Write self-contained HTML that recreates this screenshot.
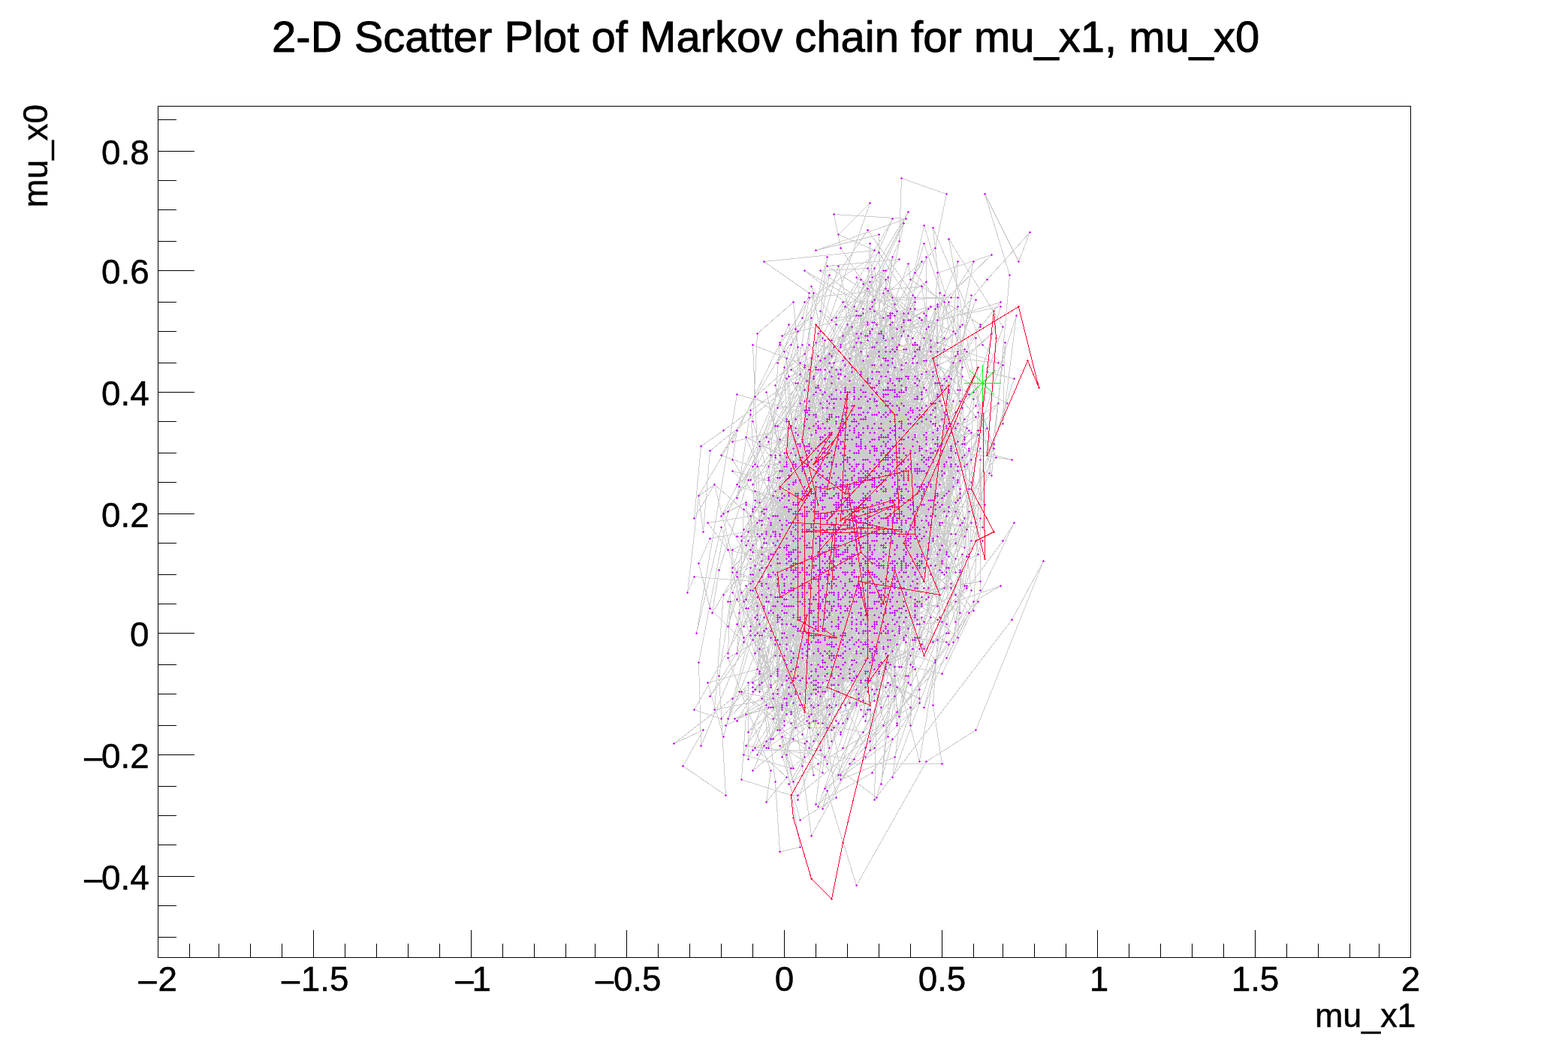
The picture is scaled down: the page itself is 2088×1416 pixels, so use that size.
<!DOCTYPE html>
<html lang="en"><head><meta charset="utf-8"><title>2-D Scatter Plot of Markov chain for mu_x1, mu_x0</title>
<style>html,body{margin:0;padding:0;background:#fff}svg{display:block}text{font-family:"Liberation Sans",Arial,Helvetica,sans-serif;fill:#000}</style></head>
<body>
<svg width="2088" height="1416" viewBox="0 0 2088 1416">
<rect width="2088" height="1416" fill="#fff"/>
<g fill="none" stroke-width="1" stroke-linejoin="bevel" shape-rendering="crispEdges">
<path stroke="#ccc" d="M1110.5 849.5l9 48l33-42l12-87l81-225l42 27l-33 93l-36-18l24 21l12 96l-54-198l-111-3l-63 45l-3 15l57-144l87 36l3-3l-6-24l-9-39l-9-3l84 36l24 78l21 69l-33-15l-21-57l24 132l39 93l6-39l12-192l24 60l-141 201l-120-9l-27-108l90-36l66-132l12 81l-21 135l-108 12l60-66l-18 123l-105-30l105-216l12 54l-6 99l36-192l-60 246l99-87l87 99l-180 96l12-141l3-165l6-30l27-111l-36 60l-51 291l15-78l9 105l-45 129l-24 3l69-183l-72-3l123-87l45-54l9-69l-42 219l-123 42l30-150l-57 9l78 105l108 0l-84-180l105-48l-24-93l12 42l-39-90l-123 249l57 39l0 45l-3 99l42-12l39 60l21-192l18-66l-9-21l27 51l-75 66l42-96l42-72l6 108l6 162l-108 108l-33 39l-69-27l36-162l84-81l21-21l-63 168l-24-249l33 78l138 108l24 33l-30 60l-129 141l123 0l-12-78l6-87l45-132l30-129l-51-21l-27-33l-105 66l-60 141l60-12l-24-63l42 18l-39 6l-84 87l150-210l12 252l-96 147l-24 0l54-117l-24-105l6 192l-12-42l-3-45l72 42l54-141l-117-135l75 75l30-138l-15 48l102-48l-39-48l-60 120l24-33l51 33l-114 93l15-201l114 6l-69-60l-48 105l-36-12l-12 192l-12-186l-6 36l3-117l129-75l-48 12l-63 12l63 96l-48 108l-27 21l-99 66l42-84l0 45l15 3l-12 114l42-264l-66-81l-15 183l12 123l12 69l-54-33l60-120l114-81l87 36l-102 186l-99 132l87-33l-42 3l-66-72l12-78l-3 18l51 21l-39 138l42-201l-3 57l-111-42l105-78l84-42l-51 57l66-138l-30 132l75-114l-12-105l-78 93l57 63l-165 57l57 213l105 15l-12 66l-27-105l-30-33l-66-255l75-99l-111 147l51-36l3 165l39 3l0 24l-57-24l75-15l93-6l-36 9l-33-12l-51 69l81-273l39-9l-18 222l-12-105l-99 219l-69 90l33-81l-69-96l45 93l-48 132l63 18l18-15l-21 36l39-27l123-75l0 24l6-147l-27-246l27 117l27-18l-48-3l3 147l-180-15l27-69l12 12l84-75l6 99l-57 0l6-81l39-12l12 24l9-123l-12-57l51 159l0-39l-9 150l-105 153l57-198l84-120l48-33l-21-81l24-39l3 9l15-87l-90 459l-45-42l-105 84l-30 102l-24-240l-18 114l9-192l156 108l30-114l42 21l18 39l-39 51l27 135l0 18l-60 60l-48 36l51-162l30-78l-39 48l-30-30l-3-48l-3 114l81-69l-105 201l-24-21l-6 33l12-81l141-138l-39-102l39-135l-30 147l-75 189l60-39l-66 51l63-117l48 30l-132 84l-48 3l0-285l-39 18l159-237l-21 183l66 165l-60-48l-27 120l6-63l12-27l39-138l42-189l-48-75l-99 66l-36 81l120-177l63 90l-63 153l-18-87l192 21l-81-27l-132 138l69 33l-21-30l-54 135l3-15l18 27l3-192l60 141l-24-24l-60 102l63 111l39 60l-45-72l-87-168l-66 144l84-249l-27-108l63-54l-99 132l15 180l54 69l42 129l-72-219l66-15l-18-27l75-75l0 66l-54-72l-27 138l-3-33l-6-99l51 69l45 9l-147 48l-3 96l18 111l93-174l0-234l12 54l-3-6l-48-18l78 9l15 9l-30 225l-90 45l81-51l123-63l-9-126l9-39l-126 138l48 90l42-24l-33 21l-87 108l30-123l-3-144l9-129l0-30l-39 159l51 15l-87 129l150-123l-51 153l-6-3l-114 96l33-156l90-114l-6-21l-132 204l87-132l-105 120l96 57l-18-57l-72-102l18-102l63-21l57-75l36 12l87-75l-144 138l-117 78l108-126l-108 147l6 144l-3 63l-51 9l36 3l-15-192l21 159l126 48l33-225l9 48l27 0l24-57l-63 228l-15 54l84-306l-72 78l-24 39l-48-213l30 117l0 123l-9-27l3-111l102 72l-162 3l18-33l-12-75l18 42l-6 117l39-24l0 87l-15-165l72 186l-132 240l-45-336l51-69l48 0l-66 51l60-90l30 114l18 9l12 48l-30 24l129-246l18-21l-78 207l-21-12l66-174l-48 6l3 24l-27 135l-102-15l99 15l75-60l69-186l-165-90l-84 90l45-129l9 189l-51 276l51 36l-78-6l48-15l120-267l39-33l6-45l-21 72l-24 129l-45-48l-21-63l30 18l-36-9l21-96l-33 12l-66 72l54-39l48 3l0 75l-48-78l-21 225l36 3l-54-63l-120 204l45-45l126-129l-90-24l18-108l66-126l84 81l30-42l-45-108l30 51l-12 66l39-102l-108 57l-66 72l-36 234l-12 78l15-93l18 210l-39-153l-3-174l-78 87l-12 153l165-33l45-48l-114-15l-12-27l57 33l36 0l0-174l-39 135l33 30l33-183l63-153l-54-81l-6-105l-6 123l12 192l117-150l-27 261l-6-81l-21 99l-21-45l-6-24l-30-57l15-66l48 36l-27-96l78 66l-45 84l6-9l-48-60l-21 27l21-96l-78-6l24 330l3 18l51 18l-6-42l69 9l-39-24l-24 6l-18 0l21-141l-39 93l-69 99l0 111l-90 0l39-60l9-258l0 54l-75-123l6-39l-51 87l-15 129l9-21l78 6l111-156l-75-33l99-33l84-48l-12 54l-78 135l-6-45l57 42l30 24l-18 60l-18 66l-93 147l33-24l-15 54l-24-54l-75-282l3-63l48-159l51-93l-15 78l-81 399l3 78l24-102l-72-135l30-15l72 48l42 270l51-123l-111 42l36-93l6-72l78 69l-18-129l6 240l-72-177l21 105l99-66l-57-117l-9 3l-6-9l84-114l-3 204l-144 45l51-78l-6-42l18 75l42-99l6-117l6-111l-84 138l-6-36l-30-42l9 426l-54 78l-18 39l81-66l57-78l-84-12l66 15l-15-78l81-60l75-6l-63-57l-3-123l3 24l45-21l18-6l-45 45l3-15l9 69l-72-18l-21-6l30 87l-63 69l-6 102l-15-147l27 99l24-216l-57-12l96 63l9-75l-72 150l48-150l48-138l45 234l-18-141l-87-15l-78 237l84-72l18-6l6-63l66-36l-15 57l-114-39l42-117l-33 54l48-51l48 51l-48 54l-66-117l99-30l6 147l54-48l-99-48l-60 36l-24 120l24-57l87 72l21-123l-18-36l-9-9l-102 276l24 18l18-81l-48 198l0-249l69-9l6 36l12 153l15-48l12 87l-84-12l-57-102l18-198l54 18l24 147l-78-48l126-42l-54 162l-54-252l-36-141l-75 156l150-36l24-3l48-90l33-159l93 297l-93-273l-75 243l-51 84l-9-18l0 129l-42 165l30-21l72 0l-24-9l33-63l-30 51l-57 111l72-294l30-93l-51 0l-3 3l-111 99l45-69l18 99l-18-42l42-357l-30 129l33 111l63 48l-3 6l93-87l21-30l-21-117l-15 213l36 84l-51-6l-93 72l-120-18l48-39l-48 84l39-33l138-93l-66-150l102 9l21 135l66-90l-30 21l-9 48l-51 66l-18 15l-96-39l6 3l-51 51l48 36l-99-15l84 54l33-153l69-90l-111 168l69 27l-30-123l-87 24l9 144l102-99l-99 30l12-129l93 45l-78 45l-15-60l21-18l126 102l-9 51l18-87l-3 30l-87 0l-81-66l-21 36l102-63l33-48l48 24l21-162l51 183l-6-186l-60-72l27-33l15-72l-60-21l-3 84l-54 129l-105 186l105-36l-111 258l12-72l3-36l54-24l12-57l123-60l-27-108l-147 249l-51 144l-36-132l87 33l-12-69l84-18l-78 75l93 75l-69-45l39-246l6-66l3 168l-36-48l-33-63l-21 69l171-123l45 222l18-123l-42-87l-99 144l6-108l-57 252l81 75l24-216l96-72l-69 12l-60-75l-93 162l-45 9l123 9l24 27l15 18l-54-9l-60-87l48-6l-27 24l-45 39l-57 0l153 114l30-24l33 39l-30-42l30 153l30-132l-63 39l-21 63l3-105l69 69l39 9l96-201l-15 24l-123 165l-21-243l57-156l-120 93l45 24l-30-72l27-87l-21 69l-6 51l-6 12l42 108l-24 111l-54-48l12-42l-87 63l9 123l0-39l66-39l33-144l-36-177l90-75l-30-6l69-63l-54 93l-75 207l111-297l3 21l93 60l-75 120l-54-129l-78 195l12 150l189-228l36-105l-72-117l57 315l24-267l-33-108l45 90l15-39l-57 63l-123 150l-36-69l-15-84l87 57l-111 72l-78 108l15 18l69-60l-45 252l96-30l60-93l-111 102l0 108l-39-81l45-183l27-69l-57 87l75-93l-81-84l-72 102l36 15l30 45l177 39l-39-27l42-57l-69 87l-33-3l0-63l-75-102l105-54l0-48l-48 213l-45 60l24-60l-54 3l3 45l0-117l99-3l-3-243l-84 21l120-42l-96-6l9 45l45 69l-9 171l-63 12l-39 156l-27 111l-3-159l156 111l-18-249l-36 42l24 105l-63-9l126-279l-24 72l-39 180l-120 60l159-87l45-18l-27 111l-66-15l-3-24l18 120l-48 48l48-114l-99-12l150 6l-6-168l-108 21l21-36l-21-36l-132 168l117-228l12 15l66 36l6 129l-87 228l51-261l-81 192l81-165l69-18l-9 3l9-3l63-222l-33 72l-114 195l15 129l51-60l-39-210l-18-27l-117 186l15 144l-6 9l33 42l-57-84l48-51l135-153l-111 318l99-21l3-12l51 42l60-111l60-21l-36 21l-33 57l-111 150l150-207l-30 27l-15-63l9-54l-90-3l-96 186l117-72l-30-108l36 18l45-75l-117 87l-84 72l-6-21l63-105l27 111l51-285l9 111l-126 51l63-3l-51 48l-15 99l-33 120l-30-156l90-6l-36 129l21-201l3-72l72 30l63 33l72 15l-99 27l36 84l-135-261l96 288l21-78l-3-120l-108-6l42 189l-39 45l-27-87l-21 69l72-165l75 159l-42 39l-78-216l-66 210l-66 18l21 72l45-156l12-147l72 93l-39-27l78-42l0 162l30 54l-30-27l3-12l-168 87l81-198l18-84l57 138l42-258l-39-12l51-192l-51 162l-48 12l45 147l-78 126l45-36l51 84l-87-120l15 15l69 129l129-270l-15 90l21 63l-63-87l-12-171l42 198l-156 54l-12 84l-3-36l-6 3l6 57l-39 66l-45-9l135 117l72-30l87-246l-54 102l36-21l-18 12l-33-291l-57 132l36 84l-6 60l51-51l-27-144l-102-3l57 51l15 171l84-108l-42-51l-60-45l-69 27l-21 69l66 60l-15 126l15-147l6-3l15 69l48-12l51-102l-153 66l-60 0l-6 12l81-27l24-177l60-84l-21 12l-69 123l63-78l-66 105l48 57l-72 114l-90 123l144 18l-42 66l6-24l39 126l93-165l66-42l90-225l-42 78l-183 240l6-264l9 42l-39 27l-42 12l-45-99l-6 168l-30 42l12-9l147-165l84-81l-201 231l123-42l-39-66l6-36l-30-111l-3-129l21-54l12 39l66 114l6-201l-69 114l-45-66l-57 129l-60 141l-39-156l-21 15l6 48l9-108l210-171l-30-21l27 204l54 243l-6 33l-9-72l9-57l-48-96l-3-33l21-156l-36 15l66 177l-42 108l33-144l-93 165l21-123l0-96l39 39l33 117l6-141l-15 171l33-93l-33-129l36 39l-54 69l3 33l18-15l30 81l-105 129l-21-72l18 93l15-54l-45-114l-45-3l3 45l6 72l60-21l24-96l30 93l-18-51l18-129l84 48l-36 141l12 24l12-189l-138-51l0 195l-66-6l-12 111l159-291l-12-33l-75-21l-39 276l54-135l57-9l-57 138l93-84l-75 81l-18-117l81-108l-27 27l27-9l18-84l36 87l-39-27l39-63l-135-36l15-72l-30 69l21 78l27 21l9-144l60 207l66-63l-36-183l21 117l-189 231l63-90l69-24l96-78l-117 117l-66 120l12-279l-48-12l3 30l51 243l-6 99l-21 9l42-255l27-15l-30-102l36-42l3 87l-18 27l-24 141l-48 183l-51-24l21-78l51 39l114-84l-63-48l12 21l60-36l-30 36l-108 36l9-90l-21 12l-24 183l36-123l156-198l-66 48l153-132l-27-27l-66-156l9 87l-12 147l-84 162l-45 78l63 21l75 9l-12-84l-42 90l-39-6l0-42l9-75l36-30l-15 24l-51 90l33-27l-6 108l0-21l-3 72l24-24l-6-141l-45 54l33 48l-30 63l-51-57l150-249l-27 111l-63-63l36 6l27 99l-15-45l-42 15l-36 237l-78-165l135-120l9 96l-9 117l-60-15l42 42l-42-54l-24 210l75-42l63-99l-42-21l-63 123l-15-93l-99 57l42 39l-27 33l6-42l-57-150l108-63l39 18l9-18l102-207l-48-81l-63 111l66 156l-27-78l33 81l-66 201l66-201l-33-72l-27-192l-48 141l111-267l0 63l-84 87l33 138l-21-45l-36 150l81-198l15 33l-63-279l-24 87l6 219l27-111l-69 285l-42-66l-18 42l108-222l-24 9l90 45l-24 72l-126-3l129-135l-48 63l81-219l-84 57l-24 129l105-153l-24 54l33 129l-60-24l-42 153l-75 99l69-135l-24 33l30 30l-24-3l87-165l-12 0l-90-147l21 228l57-162l45-36l75 246l108-333l-18 144l3-108l-21 174l-60 153l-30 12l-27-273l-18 234l-36 99l-42-123l51-198l18 270l-48-69l-12 0l-12 42l105 15l99-18l-108 18l21-48l-105 12l45-30l15 81l30-6l24-129l-45-177l-51 12l15-51l-18 189l0-60l36 123l-39 36l-60-153l-33 174l69 93l138-249l-96 66l-48 60l-66 3l171-234l-54 186l-12 102l-3 60l30-180l-138 93l39-36l-48 0l108 33l-24 54l72-30l-21-42l72-117l-78 69l-84 72l21-189l-48-12l114-195l66 54l-111-72l96-9l-90 81l15-24l144-6l30-48l-33 153l36-102l-24 69l-57 0l0-12l-132 33l123-72l60 24l-60 108l-6-9l-15 81l-63 75l-36 219l15 81l-21-150l0 72l72-78l60-84l-135 90l120-213l-108 174l-24-186l99 90l-180 210l57 45l15-207l33-93l-57 54l9-117l39 219l48 114l-42-120l-21-117l90-156l-24 3l-21 99l-51 39l99 9l21-141l-6-18l-69-45l-9 90l54 252l-48-27l-81-63l-3 96l141-93l21-147l81 57l12 12l-18-162l-63 0l63-54l-96-21l18 51l-48 87l-120 27l-30 69l18-117l0 6l12 141l126-123l-87 66l45 147l0-174l111-126l-60 12l-9 147l42 81l75-27l-9-129l3-141l-153 336l33 195l27-51l-9-78l60-6l-15-39l-90 114l-27 63l75 15l42-48l0-114l102-171l-27-21l-33 87l-108 174l-81-9l63 99l-69 21l57 36l6-87l-81 54l39-75l108-219l21-27l-75 3l-3 93l18-96l15 6l-12-57l-39 102l66-195l-57 174l-18 48l-27-3l141-75l-15-165l42 42l15 9l-96-141l-27 150l-27 45l-24-21l63-9l69-15l63-18l-66 414l-21-174l-78 129l69-54l-33 69l9-99l-12 18l42 33l54-261l-57 81l-24 87l-48-150l42 48l-27 114l-51 117l-84-135l39-108l18-72l57 75l87-102l-69 54l84 48l-30-99l-45 87l84-54l-69 33l-63 63l0-57l-9-39l-30 189l48-102l51-3l45-96l6 210l-69-111l27 153l21-69l-63-69l18-78l141-102l-90 291l-111 120l-18-123l12-153l-42-21l42 105l15 6l114-342l-84-63l63-3l84 105l33-18l-57 33l-30 156l-132 114l-6 138l57-66l-42-78l12-57l-63 30l102-120l6-6l78 126l-63-174l84 84l-39-33l51 36l-33-12l-57-12l-30 324l6-63l-36 45l-60-132l123 6l36-93l105 39l-57-348l-150 15l-18 114l6 27l12 6l69-45l39 39l-72 204l39 210l132-261l-87-108l-12-114l24 114l51 180l6-168l-105 105l54-39l-78 243l12 30l27-156l-27-63l69-312l-21 198l-9 12l-3-27l-42-3l-105 168l9 48l-57 51l-18-48l-15 99l9 159l-57-39l27-48l-39 18l78-60l27-15l54-243l-36-150l36 162l15 156l-27-63l15-45l15-111l9 123l12-33l-27-57l93-150l78-51l42 48l-27 126l15-144l-90-99l9 12l87 0l0 123l9-54l-42 120l-36-66l-48 180l-66-36l-15-24l54 6l-45 183l27 30l-9 93l36-111l-48 75l-36 21l159-72l-3-135l78-132l57 15l-108-15l-15 123l-135 219l27-117l66-48l-39 42l9-51l30-231l39-75l51 90l-24 258l42-126l-21 174l18-114l-180 171l-27-12l-84 75l39-57l18 45l111-72l-78 27l138-270l-117 141l105 6l63 54l6-111l-57 111l0-93l-3 51l-36 78l15-117l-120-39l33-21l93-15l-39-171l9 6l-42 174l-9 75l6-66l0 30l84-39l81 111l9-201l0 174l0-96l-15 48l-6-132l-18 12l-9 63l-105-9l-45 84l78 42l-30 45l-69 12l15 51l-51-165l39-171l54 12l-15-57l-12-21l63 36l6 36l-12 168l15-54l9 147l-21-90l-66-18l24-93l-15 9l-21 180l-30-141l63-18l-57 18l15 138l-12 24l9-123l-51 78l75-54l-18 15l-21-93l27-99l81-51l3 0l57 180l-57-75l-66 60l21-72l-75 81l-18-18l48 12l-21 114l78-183l-93 24l-24-36l-6 93l-27 66l39 207l-9-210l75 27l60 48l-84-93l66 51l0 21l45-69l-57 3l45-195l-48-78l-9-30l-36 117l42 165l54-204l-153 183l72-24l54 135l-105-123l138-48l-87-12l48 36l-78 90l0-42l18-102l69 6l105 51l-15-75l-57-87l-66 84l0 153l6 24l57-66l-3-21l-39-21l-39 168l-66-69l51 162l-30-138l63-9l18-57l-24-57l-39 150l81-114l9 69l12 21l15-114l-51 105l30-135l-45 123l-162-39l-27-36l57-9l-48-42l-27 45l9-96l30-21l102-75l-6-60l3 3l-39 147l87-126l-75 81l75-6l-15 120l-39 114l-69-57l147-168l-9 246l-3 60l39-42l-21-99l-54 6l36-156l18 81l-9 27l60-9l-42-39l-36-102l-6 192l-24-42l36 87l48-3l-15-30l-12-27l3-51l51-105l42 102l39 48l-21-99l-51 258l-15-90l72 72l-30 111l63-156l-18-165l-27-3l-57-15l-36 54l-18 33l96-270l-48 249l-6-75l-108-27l81 81l-63-48l15 63l81-246l6 111l72-126l-114 363l-18-69l-81-39l36-135l84 48l-48 135l-24 87l-39 42l-27 18l-6 60l-24 9l141-141l75 18l-18-114l6 54l0-87l-21-147l-24 135l-60 18l93 171l45-225l-3 192l-24-15l-57-27l-30-174l0 60l63 54l-24 72l-30-78l6-12l9-63l-72-12l-24 177l39-336l-39 126l102-183l-15 36l-27 3l75-132l-141 324l-3 114l30 123l21-39l42-63l3 186l42-105l-57 108l27 57l57-96l-177-27l42-117l15 51l-21 171l-54-48l108-135l-15-36l12-12l33-75l-33 42l36-48l-36 42l-6-144l39-9l-54-33l42-78l42 168l42 99l66-60l-69 198l-45 117l-114 93l-9 0l-66-21l6-87l33-9l141-162l54-78l-54 66l21 48l33-186l-18 132l6 75l-78 54l114-228l-60 87l-141 39l-45 57l45 84l51-42l-9-291l-90 111l60-6l9 60l3-153l132-123l-123 312l36-57l-18-198l63-33l-69 3l-36 90l-63 102l45-69l69-165l-57 33l12 102l9 60l-24 63l18 27l30 69l-30-105l-33 96l75-114l21 24l-12 54l90-117l-54-21l84-42l-69 228l9-162l-102 114l96-126l-72 144l-33-57l3 165l27-36l-27-153l24 72l12-75l-30 144l57-192l-36 54l69-12l-51 21l6 108l45-159l-54 6l-48-96l18-18l69 24l-36-51l69 108l-39-57l-57-42l-69 141l-3 81l219-72l-111 171l-27-156l-48-114l33-111l90-60l-30 141l39 81l-48 87l-15 93l39-150l42-27l42-45l-129-87l72-63l-51 150l39 0l-174 114l54-108l-63 198l6 39l-45-45l-15-60l15-33l108-21l66 78l57-153l-30 81l-78 168l-42-78l108-297l-99 192l-60-60l99 27l-18 330l-15 24l27-69l72-138l108-216l-90 48l-21-111l-18 333l87-9l-69 48l-60 60l15-318l3 24l78-216l-48 42l-75 180l-51 66l156 18l-6 6l30-45l-6 42l18-15l-45 36l33-192l60 183l48-60l9-174l36-123l-132 27l36 0l39-27l-60 141l-72 87l-84-66l93-15l-6-135l-60 414l-42-54l162-30l-33-171l-111 186l120-138l-27 168l-21-105l-27 24l24-66l3 33l21 66l-33-3l-39-39l24 144l63 36l-6-141l-45-141l36 63l-33 72l21 78l-90-63l90 24l-6 3l-18-33l-12-51l150-231l-9-57l72-69l-72 24l-18 252l-60 96l87-90l-111 189l-39-231l105-33l-30 36l-84-60l9-12l-12 87l18-105l24 69l-21 36l63-129l21 144l66-36l45 96l-93 9l57-39l-84 138l66-162l-57 75l-30-24l66 114l-6-111l-27-33l0-117l0 192l-30 330l18-156l21-171l-30-231l9 126l42-132l12-69l-99 231l6 120l102-249l-21 69l-63-33l-42 195l-102-6l51 96l12 87l141-57l-6-33l-9-57l54-126l-21-66l-138 24l51 171l-87 105l-78 27l0 102l81-207l-48 120l27 99l-18-30l27 99l48-30l-27-168l-6 57l-6-108l42-183l-69 33l-39 114l147-72l30-135l39-54l-21-105l129-39l-27 33l-63 111l18 24l-105 57l-57 27l48-96l-45 51l-21 99l90-90l-60 171l-3-78l-21 123l114-150l-63 42l114-81l-78-66l30-162l-39 45l60-39l-15 24l24 48l-111-15l30 78l-69-33l12 180l-54 120l-36 21l-24-78l-21-66l-33 141l54-318l132 36l39-39l27 216l-3 90l-135-129l51-114l81 18l102-255l-12 174l27 159l-27 75l-180-90l-9 39l48-135l-27 87l33-42l18 12l-39 123l-57 174l12-84l-24-18l75-111l30-81l-33 54l-72 27l12-66l-30 294l12 102l6 93l27-6l-24-147l30 9l96 72l21-78l-90 66l69-132l69-222l-18 69l-117-57l6-45l-15 225l48-51l-45-36l33-72l36-135l-108 252l-39-39l18-57l102-123l-51-72l-105 276l63 129l-9 12l42-108l-12-114l-51 27l33-156l54 66l54-57l-3 9l27-90l-36 45l18-78l-75 0l60-48l3 12l-12 198l57 48l6 57l-81-165l51-3l-15 144l-21-138l-36 63l66-6l57 63l3 6l6-102l-81-9l-54-54l102 48l-108 108l-39 48l87 15l15 78l60-261l15-63l-42-6l-105 234l78-102l-9 102l-66-21l141-300l-3 66l6-102l-45-39l-69 345l18-54l-36 201l21 42l12-159l81-42l-111 21l-24 21l0 57l-42-93l-9 57l48-162l90 27l-120 156l27 99l54-33l-18-12l3-177l-36 147l6-12l33-90l-6 18l48-111l-18 129l84 51l6-219l-111 141l12-150l-78 144l57-27l45 138l12 36l21-33l-72 81l12-189l-6-51l117-99l0 63l39 144l-90-93l15 12l-36 51l-21-42l-33 15l39-39l-3 42l-51 0l42-111l-75 123l-21-21l57-51l-18-186l-57 216l165 108l75-129l-126 51l30-18l-12-30l-3-60l-81-3l-60 192l18 81l162-150l6 0l-69 57l15-27l99 42l-150 252l102-297l-9-99l-48 39l27-147l48 96l9 96l-51 105l-51 6l90-147l-51-90l90 27l-84 102l-114 165l-6-81l-36 69l120-51l-69 9l45-255l-45 129l114-54l-36 6l-45-135l-39 171l-27 6l9 51l-63 6l36-126l45 3l183-87l-102-69l36 30l-105 204l12 117l-18-153l6 48l90 36l48-51l51-54l-72 171l-39 30l39-117l-99 102l-15 54l-27-81l102-150l-15 57l39-33l33 102l-72 27l-66-105l-57-195l6-117l48-42l6 60l-81 183l27-24l78-12l39 96l15 63l-33 105l-30-321l84-36l-69-102l114 87l-66 117l30-123l12 111l63-51l6 12l-9-30l-9-42l0-153l-30 84l-27-36l12 120l0 9l-189 258l36-114l6 168l48-21l-3-45l57-63l-54 12l-33 93l21 51l-24 21l-48-126l87-51l-36 51l93-336l-18 309l54-150l51 90l-54 90l-3 78l-3-78l-36 111l30-72l30-39l66-192l-114 183l-51 30l21-114l6 0l-6-48l9 57l3 90l-15-96l102-48l-132 153l99 6l-24-27l33-6l-54-126l-69 0l0 171l21-33l51-30l-39-90l-51 33l51 27l60-96l-84 147l-57 66l57 27l-12-180l192-141l-63 93l-78 171l-9-45l-3 54l-21-102l39 123l-12 12l45-90l36-69l-39 0l-69-39l57 69l72-15l63-72l18 87l-15-111l-24 72l30-57l-63-39l15 123l-6 15l72 3l-9-252l-18-18l-162 159l-12 159l60 78l30-177l75 18l-21 90l-9-39l-30-6l-54 273l3-114l-9-132l-69 90l102 21l24-135l24-132l-144 174l126-87l-72 18l-126-12l66-78l93 117l27-120l-9 78l-90-117l-33-12l0 141l27 48l-45 3l36 117l18-354l18 63l36-195l18-9l-60 138l66 111l-12 36l-141 9l144-204l-75 84l-21 78l57-96l42 93l66-9l33 51l-57-120l-18-90l39 135l-123-117l60-87l-3 147l-60 36l-24-63l12 63l-30-48l12 90l93 15l60 33l-81-201l6 108l-15 78l75-33l-114-66l63-30l6 0l-18 51l-114 186l-30 102l6-24l204-171l-141-93l36-105l-33 45l75-135l15 120l-90 147l27 108l-69-6l51-108l-6 66l-60-171l36-54l54 183l-45-48l21-141l6 276l-27 174l75-9l18-102l0-48l-99-18l3-63l180-144l-48 177l18-189l-63-69l21-69l18 78l-33 9l36-159l-54 114l-51 81l96 138l-45 27l0-99l-54 6l-6 30l-6 159l6 210l-27-63l42-27l126-90l-54-93l15-201l3 120l48-108l-15 21l-75 438l18-63l21-66l57-237l81-57l-141 183l-42-84l-60 108l105-225l-6 111l18 114l-96 126l12-63l54-9l-9 126l54-102l0-195l57-63l-93 24l6-15l6-135l21 12l-39 75l-96-144l39 192l-18-15l-27-12l-39 348l18-102l81-42l-45 102l15 21l60-147l42-33l-30-141l-72 213l18-45l93-126l-57 147l54-63l-30-69l90 135l-54-48l-12 204l-3-159l-66-93l30 183l-3-42l-60 78l-27-24l-6-195l-36 96l21 159l-48 102l111-150l39-123l-42 63l51-84l60-99l-18 78l-27 15l6-36l-12-57l-6-30l51-39l-60 51l-18-15l-96 30l15-30l-24 87l66 75l57-3l60-60l-69-18l93 18l-48 84l36-75l-48-60l-108 33l9 168l-81 42l3-75l45-84l-39 198l-15-222l21 108l6-99l-57 174l6-138l21-12l-27 114l81-264l33-45l63 54l-6 102l60-159l42 162l-78-39l-93-84l33 15l18 12l-60 3l9 207l24-18l9-69l42 0l-129-27l81 165l-3-183l18 54l-36 63l6 129l18-42l63-51l-15 24l-147-57l75 60l-108 111l30-117l12-81l-30 39l30 48l51-177l45-117l-9 198l-9 24l66-87l93-114l-60 33l30 243l0 3l9-102l24-54l-60 123l-9-66l-48-12l6-60l48-87l-27 42l-30-63l33 12l42 123l-12-24l12-132l42-147l-39 21l-24-6l45 231l-48-54l27 57l-36 144l30-75l-6 117l6-195l-48 168l-30 69l-3-30l-48-87l33-150l3 66l-54 78l30 12l-42 45l135 18l30-213l99 99l-63 162l-63-21l0-18l39-90l-102 225l48-135l21-120l-54 24l-54 108l-78 54l87 69l-42-210l48-165l-90-75l90-78l63-180l-42 42l48 21l-147 15l60 42l-9 33l-108 183l42 15l-33 60l-39 201l3 111l120-285l-60-36l9 54l-54 90l9-57l39-120l54-138l-6-33l-6-9l45-69l-12 96l-96 270l114-123l-33-18l-30 225l21 96l99-105l33 12l-6-27l18-48l-81-21l-6 30l-57 228l69-342l-84 51l99 75l-39 81l126 21l-33 21l-27 87l0-54l-3 0l93-231l-75-120l45-135l-96 147l3-129l-39-21l99-24l-9 303l-72 54l-12-105l63-117l-93 129l81-120l-87 69l24-222l-39 24l99-27l-33 54l-24 30l60 285l-48 120l6-261l-48 99l-30-159l-24 51l78-48l6 66l3 96l-3-60l42-162l57-36l27-69l21 24l18 78l-24 72l-135 216l33-219l39-27l81-75l-63 393l0-78l0-81l-123 183l27-144l-12 3l198-123l-21-138l15 333l-36-150l-42 21l-54-51l72 84l-39 132l27-318l-66 9l-21 207l111-192l-90-66l102-21l-9 285l-114-300l33 120l-78 54l-48-69l60-54l123-69l21-72l-66 129l90 126l0 27l-60 216l51-135l-123 72l129-150l-147 207l45-165l21 42l12 66l126-132l-21 15l9-15l-123-255l-6 186l-36 75l15 24l18-51l-30 123l51 24l33-237l24 132l0 24l15-24l24-213l-150 222l-99-9l105-69l-114 48l-21 24l105-96l108 123l-123 63l18-198l-33 123l108-123l30-99l-60 129l6-3l-105 18l138-18l3 57l-102-18l-21-57l93-99l-54 168l39 72l12-66l-21 36l-78 171l57-207l87 0l-48-144l27 12l-30 0l-27 21l-9 198l12-90l66-15l42-30l0 3l-39 24l-102 171l-24-54l84-87l39-108l27 69l57-132l-63 255l15-18l-21-180l-75 72l-99 90l-24-18l114 3l-63 18l90-204l-84 24l-6 210l18-6l-27-159l75-42l69 69l-6-69l-27 87l-33 69l-42-78l15 126l15 63l-78-111l57-54l99-204l-27-15l-21 99l24 45l-48 69l-60-57l51-165l-30 99l-33-63l3 69l15 330l69 15l-21 0l12 60l105-156l-114 81l-45-111l162-123l-93 45l12 30l54-114l-108 60l24-36l12-66l45 30l30 21l-90 90l-6-231l15 165l-132-66l48 117l-12-39l-21 51l-9 123l69 9l78-51l48-63l-21 213l-42-333l3 57l54 105l-54 21l75-66l-36 0l-96 72l-3-90l-36-93l36 114l18-78l-168 294l36 12l117-141l45 42l-63-24l96 69l-3 3l0 9l18-159l-93 21l-33 9l57-81l72 138l90-234l21-51l-66 141l-21-99l-15 108l-15-39l-6 96l-63-177l48-3l72-54l-84 105l27-198l-48 93l-66 213l84-60l24-72l-15 117l132-126l-27-12l48-15l-132 102l48-45l-54 201l21-108l0-201l27 102l-21 90l-48 114l-9-117l-42 114l3 132l111-171l30-51l-39 297l57-156l-66-84l0-189l-54 174l24-21l-6 84l-48 120l-6-99l-30-192l81-216l33 183l-9-87l-60 18l63-75l-48-33l90-180l-135 225l12 174l33-159l-72 39l6 63l-51 141l54 21l60-189l-30-21l-30 219l-12-135l-33 9l-9-210l84 33l-87 252l54 33l54 123l81-75l-45-144l-66-78l-18-27l3 189l-9-138l3 192l-30 165l72-144l99-30l-48-147l42-18l-69 6l24 138l-54-219l-45 147l-33 21l57 6l39 15l3-87l-39-78l87 51l-24 42l-81 84l90-183l69 75l-30-243l-6 129l-153 150l42-75l39 111l-30-189l-15-36l-78 138l174 48l66 60l-36 0l-183 66l51 219l99-183l-90 66l3-48l45-63l-12-48l39-57l63-45l3 99l-78 51l0-27l24-192l-54 81l93-117l-3-129l12 135l-39 300l27-168l30 108l3-90l-147 141l-12-33l69-123l6-54l102 108l9-285l-105 75l78-30l-111 117l-69 315l123-12l21-210l-57-66l-42 45l15-159l-33 144l60-129l72 3l42 3l-138 186l3-63l-27 54l33-15l-9 150l-87-66l-72 117l108-141l105 81l51-99l69 48l0-57l-24-159l0 72l-63 12l-90 84l-9 3l-3 75l12 42l-123 69l102-33l9-57l-3 24l-6-192l150 129l39-192l-123 90l-90 108l36 165l111-330l-81-24l48-9l21-69l9 114l27-84l69-75l-45 210l-21 141l120-369l-36-9l-12 84l-108 222l-147 6l51-48l-27 48l45-3l96-99l39-111l-30 156l30-75l-105 75l-45 42l-66 132l18-42l75-147l3-63l-27 129l-57 57l87-144l-66 78l27 48l-33-75l138-246l21 156l36-45l-9-39l12-24l-93 81l-3-21l12 165l-90 45l3 84l87-192l-96-60l27 105l-24-93l90-42l-21 138l-24-105l108-261l-51 96l-15 171l48-177l9 42l-108 177l129-195l39-57l-114 162l-69-102l-51-36l180-117l-72 120l-75 186l30 126l30-78l-45-72l66-117l21-198l-27 144l36 36l-63 222l3 15l84-135l-30 9l-51 153l30-99l21-30l36-30l-21-3l-36-156l-63 84l-57 81l-48 219l33 42l27-72l72 27l-9-3l63-57l-36 51l-12 99l27-75l39-129l-30-216l-63 138l51-63l-63 9l48-90l45 39l-6-87l27 18l-12-54l-27 48l27 96l18 114l-9-15l-48-258l-93-54l69 54l18-39l-9 3l90 90l39 66l0 129l-93 138l-39-6l-12-156l-66 66l-45 63l45 21l87 51l-6 114l15-111l-9-18l72 33l-72 36l-45-93l-3 54l39-162l72 114l3-24l-102 192l-84-78l51 15l6-66l162-18l33-48l-39 45l6 3l-30 186l-33-126l3 60l-12-165l-87-156l-51-6l63-12l-15 45l-51 114l-51 66l84-234l-15 117l33 78l129-147l-120 153l6 141l-45 123l-69-255l33-96l30 0l-36 9l135-249l-90 165l6-45l-39 117l108 159l-33-141l45 21l6 30l15-6l-33 57l51-252l-39 84l-105 36l21-75l66-39l12 6l-15 108l21 159l36 9l-18-114l-84 45l72-30l12 87l39-144l-33-6l21-3"/>
<path stroke="#c0f" d="M1109 849.5h3m-1.5-1.5v3m7.5 46.5h3m-1.5-1.5v3m31.5-43.5h3m-1.5-1.5v3m10.5-88.5h3m-1.5-1.5v3m79.5-226.5h3m-1.5-1.5v3m40.5 25.5h3m-1.5-1.5v3m-34.5 91.5h3m-1.5-1.5v3m-37.5-19.5h3m-1.5-1.5v3m22.5 19.5h3m-1.5-1.5v3m10.5 94.5h3m-1.5-1.5v3m-55.5-199.5h3m-1.5-1.5v3m-112.5-4.5h3m-1.5-1.5v3m-64.5 43.5h3m-1.5-1.5v3m-4.5 13.5h3m-1.5-1.5v3m55.5-145.5h3m-1.5-1.5v3m85.5 34.5h3m-1.5-1.5v3m1.5-4.5h3m-1.5-1.5v3m-7.5-25.5h3m-1.5-1.5v3m-10.5-40.5h3m-1.5-1.5v3m-10.5-4.5h3m-1.5-1.5v3m82.5 34.5h3m-1.5-1.5v3m22.5 76.5h3m-1.5-1.5v3m19.5 67.5h3m-1.5-1.5v3m-34.5-16.5h3m-1.5-1.5v3m-22.5-58.5h3m-1.5-1.5v3m22.5 130.5h3m-1.5-1.5v3m37.5 91.5h3m-1.5-1.5v3m4.5-40.5h3m-1.5-1.5v3m10.5-193.5h3m-1.5-1.5v3m22.5 58.5h3m-1.5-1.5v3m-142.5 199.5h3m-1.5-1.5v3m-121.5-10.5h3m-1.5-1.5v3m-28.5-109.5h3m-1.5-1.5v3m88.5-37.5h3m-1.5-1.5v3m64.5-133.5h3m-1.5-1.5v3m10.5 79.5h3m-1.5-1.5v3m-22.5 133.5h3m-1.5-1.5v3m-109.5 10.5h3m-1.5-1.5v3m58.5-67.5h3m-1.5-1.5v3m-19.5 121.5h3m-1.5-1.5v3m-106.5-31.5h3m-1.5-1.5v3m103.5-217.5h3m-1.5-1.5v3m10.5 52.5h3m-1.5-1.5v3m-7.5 97.5h3m-1.5-1.5v3m34.5-193.5h3m-1.5-1.5v3m-61.5 244.5h3m-1.5-1.5v3m97.5-88.5h3m-1.5-1.5v3m85.5 97.5h3m-1.5-1.5v3m-181.5 94.5h3m-1.5-1.5v3m10.5-142.5h3m-1.5-1.5v3m1.5-166.5h3m-1.5-1.5v3m4.5-31.5h3m-1.5-1.5v3m25.5-112.5h3m-1.5-1.5v3m-37.5 58.5h3m-1.5-1.5v3m-52.5 289.5h3m-1.5-1.5v3m13.5-79.5h3m-1.5-1.5v3m7.5 103.5h3m-1.5-1.5v3m-46.5 127.5h3m-1.5-1.5v3m-25.5 1.5h3m-1.5-1.5v3m67.5-184.5h3m-1.5-1.5v3m-73.5-4.5h3m-1.5-1.5v3m121.5-88.5h3m-1.5-1.5v3m43.5-55.5h3m-1.5-1.5v3m7.5-70.5h3m-1.5-1.5v3m-43.5 217.5h3m-1.5-1.5v3m-124.5 40.5h3m-1.5-1.5v3m28.5-151.5h3m-1.5-1.5v3m-58.5 7.5h3m-1.5-1.5v3m76.5 103.5h3m-1.5-1.5v3m106.5-1.5h3m-1.5-1.5v3m-85.5-181.5h3m-1.5-1.5v3m103.5-49.5h3m-1.5-1.5v3m-25.5-94.5h3m-1.5-1.5v3m10.5 40.5h3m-1.5-1.5v3m-40.5-91.5h3m-1.5-1.5v3m-124.5 247.5h3m-1.5-1.5v3m55.5 37.5h3m-1.5-1.5v3m-1.5 43.5h3m-1.5-1.5v3m-4.5 97.5h3m-1.5-1.5v3m40.5-13.5h3m-1.5-1.5v3m37.5 58.5h3m-1.5-1.5v3m19.5-193.5h3m-1.5-1.5v3m16.5-67.5h3m-1.5-1.5v3m-10.5-22.5h3m-1.5-1.5v3m25.5 49.5h3m-1.5-1.5v3m-76.5 64.5h3m-1.5-1.5v3m40.5-97.5h3m-1.5-1.5v3m40.5-73.5h3m-1.5-1.5v3m4.5 106.5h3m-1.5-1.5v3m4.5 160.5h3m-1.5-1.5v3m-109.5 106.5h3m-1.5-1.5v3m-34.5 37.5h3m-1.5-1.5v3m-70.5-28.5h3m-1.5-1.5v3m34.5-163.5h3m-1.5-1.5v3m82.5-82.5h3m-1.5-1.5v3m19.5-22.5h3m-1.5-1.5v3m-64.5 166.5h3m-1.5-1.5v3m-25.5-250.5h3m-1.5-1.5v3m31.5 76.5h3m-1.5-1.5v3m136.5 106.5h3m-1.5-1.5v3m22.5 31.5h3m-1.5-1.5v3m-31.5 58.5h3m-1.5-1.5v3m-130.5 139.5h3m-1.5-1.5v3m121.5-1.5h3m-1.5-1.5v3m-13.5-79.5h3m-1.5-1.5v3m4.5-88.5h3m-1.5-1.5v3m43.5-133.5h3m-1.5-1.5v3m28.5-130.5h3m-1.5-1.5v3m-52.5-22.5h3m-1.5-1.5v3m-28.5-34.5h3m-1.5-1.5v3m-106.5 64.5h3m-1.5-1.5v3m-61.5 139.5h3m-1.5-1.5v3m58.5-13.5h3m-1.5-1.5v3m-25.5-64.5h3m-1.5-1.5v3m40.5 16.5h3m-1.5-1.5v3m-40.5 4.5h3m-1.5-1.5v3m-85.5 85.5h3m-1.5-1.5v3m148.5-211.5h3m-1.5-1.5v3m10.5 250.5h3m-1.5-1.5v3m-97.5 145.5h3m-1.5-1.5v3m-25.5-1.5h3m-1.5-1.5v3m52.5-118.5h3m-1.5-1.5v3m-25.5-106.5h3m-1.5-1.5v3m4.5 190.5h3m-1.5-1.5v3m-13.5-43.5h3m-1.5-1.5v3m-4.5-46.5h3m-1.5-1.5v3m70.5 40.5h3m-1.5-1.5v3m52.5-142.5h3m-1.5-1.5v3m-118.5-136.5h3m-1.5-1.5v3m73.5 73.5h3m-1.5-1.5v3m28.5-139.5h3m-1.5-1.5v3m-16.5 46.5h3m-1.5-1.5v3m100.5-49.5h3m-1.5-1.5v3m-40.5-49.5h3m-1.5-1.5v3m-61.5 118.5h3m-1.5-1.5v3m22.5-34.5h3m-1.5-1.5v3m-64.5 124.5h3m-1.5-1.5v3m13.5-202.5h3m-1.5-1.5v3m112.5 4.5h3m-1.5-1.5v3m-70.5-61.5h3m-1.5-1.5v3m-49.5 103.5h3m-1.5-1.5v3m-37.5-13.5h3m-1.5-1.5v3m-13.5 190.5h3m-1.5-1.5v3m-13.5-187.5h3m-1.5-1.5v3m-7.5 34.5h3m-1.5-1.5v3m1.5-118.5h3m-1.5-1.5v3m127.5-76.5h3m-1.5-1.5v3m-49.5 10.5h3m-1.5-1.5v3m-64.5 10.5h3m-1.5-1.5v3m61.5 94.5h3m-1.5-1.5v3m-49.5 106.5h3m-1.5-1.5v3m-28.5 19.5h3m-1.5-1.5v3m-100.5 64.5h3m-1.5-1.5v3m40.5-85.5h3m-1.5-1.5v3m-1.5 43.5h3m-1.5-1.5v3m13.5 1.5h3m-1.5-1.5v3m-13.5 112.5h3m-1.5-1.5v3m40.5-265.5h3m-1.5-1.5v3m-67.5-82.5h3m-1.5-1.5v3m-16.5 181.5h3m-1.5-1.5v3m10.5 121.5h3m-1.5-1.5v3m10.5 67.5h3m-1.5-1.5v3m-55.5-34.5h3m-1.5-1.5v3m58.5-121.5h3m-1.5-1.5v3m112.5-82.5h3m-1.5-1.5v3m85.5 34.5h3m-1.5-1.5v3m-103.5 184.5h3m-1.5-1.5v3m-100.5 130.5h3m-1.5-1.5v3m85.5-34.5h3m-1.5-1.5v3m-43.5 1.5h3m-1.5-1.5v3m-67.5-73.5h3m-1.5-1.5v3m10.5-79.5h3m-1.5-1.5v3m-4.5 16.5h3m-1.5-1.5v3m10.5 157.5h3m-1.5-1.5v3m40.5-202.5h3m-1.5-1.5v3m-4.5 55.5h3m-1.5-1.5v3m-112.5-43.5h3m-1.5-1.5v3m103.5-79.5h3m-1.5-1.5v3m82.5-43.5h3m-1.5-1.5v3m-52.5 55.5h3m-1.5-1.5v3m64.5-139.5h3m-1.5-1.5v3m-31.5 130.5h3m-1.5-1.5v3m73.5-115.5h3m-1.5-1.5v3m-13.5-106.5h3m-1.5-1.5v3m-79.5 91.5h3m-1.5-1.5v3m55.5 61.5h3m-1.5-1.5v3m-166.5 55.5h3m-1.5-1.5v3m55.5 211.5h3m-1.5-1.5v3m103.5 13.5h3m-1.5-1.5v3m-13.5 64.5h3m-1.5-1.5v3m-28.5-106.5h3m-1.5-1.5v3m-31.5-34.5h3m-1.5-1.5v3m-67.5-256.5h3m-1.5-1.5v3m73.5-100.5h3m-1.5-1.5v3m-112.5 145.5h3m-1.5-1.5v3m49.5-37.5h3m-1.5-1.5v3m1.5 163.5h3m-1.5-1.5v3m37.5 1.5h3m-1.5-1.5v3m-1.5 22.5h3m-1.5-1.5v3m-58.5-25.5h3m-1.5-1.5v3m73.5-16.5h3m-1.5-1.5v3m91.5-7.5h3m-1.5-1.5v3m-37.5 7.5h3m-1.5-1.5v3m-34.5-13.5h3m-1.5-1.5v3m-52.5 67.5h3m-1.5-1.5v3m79.5-274.5h3m-1.5-1.5v3m37.5-10.5h3m-1.5-1.5v3m-19.5 220.5h3m-1.5-1.5v3m-13.5-106.5h3m-1.5-1.5v3m-100.5 217.5h3m-1.5-1.5v3m-70.5 88.5h3m-1.5-1.5v3m31.5-82.5h3m-1.5-1.5v3m-70.5-97.5h3m-1.5-1.5v3m43.5 91.5h3m-1.5-1.5v3m-49.5 130.5h3m-1.5-1.5v3m61.5 16.5h3m-1.5-1.5v3m16.5-16.5h3m-1.5-1.5v3m-22.5 34.5h3m-1.5-1.5v3m37.5-28.5h3m-1.5-1.5v3m121.5-76.5h3m-1.5-1.5v3m-1.5 22.5h3m-1.5-1.5v3m4.5-148.5h3m-1.5-1.5v3m-28.5-247.5h3m-1.5-1.5v3m25.5 115.5h3m-1.5-1.5v3m25.5-19.5h3m-1.5-1.5v3m-49.5-4.5h3m-1.5-1.5v3m1.5 145.5h3m-1.5-1.5v3m-181.5-16.5h3m-1.5-1.5v3m25.5-70.5h3m-1.5-1.5v3m10.5 10.5h3m-1.5-1.5v3m88.5 22.5h3m-1.5-1.5v3m-58.5-1.5h3m-1.5-1.5v3m4.5-82.5h3m-1.5-1.5v3m37.5-13.5h3m-1.5-1.5v3m10.5 22.5h3m-1.5-1.5v3m7.5-124.5h3m-1.5-1.5v3m-13.5-58.5h3m-1.5-1.5v3m49.5 157.5h3m-1.5-1.5v3m-1.5-40.5h3m-1.5-1.5v3m-10.5 148.5h3m-1.5-1.5v3m-106.5 151.5h3m-1.5-1.5v3m55.5-199.5h3m-1.5-1.5v3m82.5-121.5h3m-1.5-1.5v3m46.5-34.5h3m-1.5-1.5v3m-22.5-82.5h3m-1.5-1.5v3m22.5-40.5h3m-1.5-1.5v3m1.5 7.5h3m-1.5-1.5v3m13.5-88.5h3m-1.5-1.5v3m-91.5 457.5h3m-1.5-1.5v3m-46.5-43.5h3m-1.5-1.5v3m-106.5 82.5h3m-1.5-1.5v3m-31.5 100.5h3m-1.5-1.5v3m-25.5-241.5h3m-1.5-1.5v3m-19.5 112.5h3m-1.5-1.5v3m7.5-193.5h3m-1.5-1.5v3m154.5 106.5h3m-1.5-1.5v3m28.5-115.5h3m-1.5-1.5v3m40.5 19.5h3m-1.5-1.5v3m16.5 37.5h3m-1.5-1.5v3m-40.5 49.5h3m-1.5-1.5v3m25.5 133.5h3m-1.5-1.5v3m-1.5 16.5h3m-1.5-1.5v3m-61.5 58.5h3m-1.5-1.5v3m-49.5 34.5h3m-1.5-1.5v3m49.5-163.5h3m-1.5-1.5v3m28.5-79.5h3m-1.5-1.5v3m-40.5 46.5h3m-1.5-1.5v3m-31.5-31.5h3m-1.5-1.5v3m-4.5-49.5h3m-1.5-1.5v3m-4.5 112.5h3m-1.5-1.5v3m79.5-70.5h3m-1.5-1.5v3m-106.5 199.5h3m-1.5-1.5v3m-25.5-22.5h3m-1.5-1.5v3m-7.5 31.5h3m-1.5-1.5v3m10.5-82.5h3m-1.5-1.5v3m139.5-139.5h3m-1.5-1.5v3m-40.5-103.5h3m-1.5-1.5v3m37.5-136.5h3m-1.5-1.5v3m-31.5 145.5h3m-1.5-1.5v3m-76.5 187.5h3m-1.5-1.5v3m58.5-40.5h3m-1.5-1.5v3m-67.5 49.5h3m-1.5-1.5v3m61.5-118.5h3m-1.5-1.5v3m46.5 28.5h3m-1.5-1.5v3m-133.5 82.5h3m-1.5-1.5v3m-49.5 1.5h3m-1.5-1.5v3m-1.5-286.5h3m-1.5-1.5v3m-40.5 16.5h3m-1.5-1.5v3m157.5-238.5h3m-1.5-1.5v3m-22.5 181.5h3m-1.5-1.5v3m64.5 163.5h3m-1.5-1.5v3m-61.5-49.5h3m-1.5-1.5v3m-28.5 118.5h3m-1.5-1.5v3m4.5-64.5h3m-1.5-1.5v3m10.5-28.5h3m-1.5-1.5v3m37.5-139.5h3m-1.5-1.5v3m40.5-190.5h3m-1.5-1.5v3m-49.5-76.5h3m-1.5-1.5v3m-100.5 64.5h3m-1.5-1.5v3m-37.5 79.5h3m-1.5-1.5v3m118.5-178.5h3m-1.5-1.5v3m61.5 88.5h3m-1.5-1.5v3m-64.5 151.5h3m-1.5-1.5v3m-19.5-88.5h3m-1.5-1.5v3m190.5 19.5h3m-1.5-1.5v3m-82.5-28.5h3m-1.5-1.5v3m-133.5 136.5h3m-1.5-1.5v3m67.5 31.5h3m-1.5-1.5v3m-22.5-31.5h3m-1.5-1.5v3m-55.5 133.5h3m-1.5-1.5v3m1.5-16.5h3m-1.5-1.5v3m16.5 25.5h3m-1.5-1.5v3m1.5-193.5h3m-1.5-1.5v3m58.5 139.5h3m-1.5-1.5v3m-25.5-25.5h3m-1.5-1.5v3m-61.5 100.5h3m-1.5-1.5v3m-31.5-70.5h3m-1.5-1.5v3m-67.5 142.5h3m-1.5-1.5v3m82.5-250.5h3m-1.5-1.5v3m-28.5-109.5h3m-1.5-1.5v3m61.5-55.5h3m-1.5-1.5v3m-100.5 130.5h3m-1.5-1.5v3m13.5 178.5h3m-1.5-1.5v3m52.5 67.5h3m-1.5-1.5v3m40.5 127.5h3m-1.5-1.5v3m-73.5-220.5h3m-1.5-1.5v3m64.5-16.5h3m-1.5-1.5v3m-19.5-28.5h3m-1.5-1.5v3m73.5-76.5h3m-1.5-1.5v3m-1.5 64.5h3m-1.5-1.5v3m-55.5-73.5h3m-1.5-1.5v3m-28.5 136.5h3m-1.5-1.5v3m-4.5-34.5h3m-1.5-1.5v3m-7.5-100.5h3m-1.5-1.5v3m49.5 67.5h3m-1.5-1.5v3m43.5 7.5h3m-1.5-1.5v3m-148.5 46.5h3m-1.5-1.5v3m-4.5 94.5h3m-1.5-1.5v3m16.5 109.5h3m-1.5-1.5v3m91.5-409.5h3m-1.5-1.5v3m10.5 52.5h3m-1.5-1.5v3m-4.5-7.5h3m-1.5-1.5v3m-49.5-19.5h3m-1.5-1.5v3m76.5 7.5h3m-1.5-1.5v3m13.5 7.5h3m-1.5-1.5v3m-31.5 223.5h3m-1.5-1.5v3m-10.5-7.5h3m-1.5-1.5v3m121.5-64.5h3m-1.5-1.5v3m-10.5-127.5h3m-1.5-1.5v3m7.5-40.5h3m-1.5-1.5v3m-127.5 136.5h3m-1.5-1.5v3m46.5 88.5h3m-1.5-1.5v3m40.5-25.5h3m-1.5-1.5v3m-34.5 19.5h3m-1.5-1.5v3m-88.5 106.5h3m-1.5-1.5v3m28.5-124.5h3m-1.5-1.5v3m-4.5-145.5h3m-1.5-1.5v3m7.5-130.5h3m-1.5-1.5v3m-1.5-31.5h3m-1.5-1.5v3m-40.5 157.5h3m-1.5-1.5v3m49.5 13.5h3m-1.5-1.5v3m-88.5 127.5h3m-1.5-1.5v3m148.5-124.5h3m-1.5-1.5v3m-52.5 151.5h3m-1.5-1.5v3m-7.5-4.5h3m-1.5-1.5v3m-115.5 94.5h3m-1.5-1.5v3m31.5-157.5h3m-1.5-1.5v3m88.5-115.5h3m-1.5-1.5v3m-7.5-22.5h3m-1.5-1.5v3m-133.5 202.5h3m-1.5-1.5v3m-19.5-13.5h3m-1.5-1.5v3m94.5 55.5h3m-1.5-1.5v3m-19.5-58.5h3m-1.5-1.5v3m-73.5-103.5h3m-1.5-1.5v3m16.5-103.5h3m-1.5-1.5v3m61.5-22.5h3m-1.5-1.5v3m55.5-76.5h3m-1.5-1.5v3m34.5 10.5h3m-1.5-1.5v3m85.5-76.5h3m-1.5-1.5v3m-145.5 136.5h3m-1.5-1.5v3m-118.5 76.5h3m-1.5-1.5v3m106.5-127.5h3m-1.5-1.5v3m-109.5 145.5h3m-1.5-1.5v3m4.5 142.5h3m-1.5-1.5v3m-4.5 61.5h3m-1.5-1.5v3m-52.5 7.5h3m-1.5-1.5v3m34.5 1.5h3m-1.5-1.5v3m-16.5-193.5h3m-1.5-1.5v3m19.5 157.5h3m-1.5-1.5v3m124.5 46.5h3m-1.5-1.5v3m31.5-226.5h3m-1.5-1.5v3m7.5 46.5h3m-1.5-1.5v3m25.5-1.5h3m-1.5-1.5v3m22.5-58.5h3m-1.5-1.5v3m-64.5 226.5h3m-1.5-1.5v3m-16.5 52.5h3m-1.5-1.5v3m82.5-307.5h3m-1.5-1.5v3m-73.5 76.5h3m-1.5-1.5v3m-25.5 37.5h3m-1.5-1.5v3m-49.5-214.5h3m-1.5-1.5v3m28.5 115.5h3m-1.5-1.5v3m-1.5 121.5h3m-1.5-1.5v3m-10.5-28.5h3m-1.5-1.5v3m1.5-112.5h3m-1.5-1.5v3m100.5 70.5h3m-1.5-1.5v3m-163.5 1.5h3m-1.5-1.5v3m16.5-34.5h3m-1.5-1.5v3m-13.5-76.5h3m-1.5-1.5v3m16.5 40.5h3m-1.5-1.5v3m-7.5 115.5h3m-1.5-1.5v3m37.5 61.5h3m-1.5-1.5v3m-16.5-166.5h3m-1.5-1.5v3m70.5 184.5h3m-1.5-1.5v3m-133.5 238.5h3m-1.5-1.5v3m-46.5-337.5h3m-1.5-1.5v3m49.5-70.5h3m-1.5-1.5v3m46.5-1.5h3m-1.5-1.5v3m-67.5 49.5h3m-1.5-1.5v3m58.5-91.5h3m-1.5-1.5v3m28.5 112.5h3m-1.5-1.5v3m16.5 7.5h3m-1.5-1.5v3m10.5 46.5h3m-1.5-1.5v3m-31.5 22.5h3m-1.5-1.5v3m127.5-247.5h3m-1.5-1.5v3m16.5-22.5h3m-1.5-1.5v3m-79.5 205.5h3m-1.5-1.5v3m-22.5-13.5h3m-1.5-1.5v3m64.5-175.5h3m-1.5-1.5v3m-46.5 28.5h3m-1.5-1.5v3m-28.5 133.5h3m-1.5-1.5v3m-103.5-16.5h3m-1.5-1.5v3m172.5-46.5h3m-1.5-1.5v3m67.5-187.5h3m-1.5-1.5v3m-166.5-91.5h3m-1.5-1.5v3m-85.5 88.5h3m-1.5-1.5v3m43.5-130.5h3m-1.5-1.5v3m7.5 187.5h3m-1.5-1.5v3m-52.5 274.5h3m-1.5-1.5v3m49.5 34.5h3m-1.5-1.5v3m-79.5-7.5h3m-1.5-1.5v3m46.5-16.5h3m-1.5-1.5v3m118.5-268.5h3m-1.5-1.5v3m37.5-34.5h3m-1.5-1.5v3m4.5-46.5h3m-1.5-1.5v3m-22.5 70.5h3m-1.5-1.5v3m-25.5 127.5h3m-1.5-1.5v3m-46.5-49.5h3m-1.5-1.5v3m-22.5-64.5h3m-1.5-1.5v3m28.5 16.5h3m-1.5-1.5v3m-37.5-10.5h3m-1.5-1.5v3m19.5-97.5h3m-1.5-1.5v3m-34.5 10.5h3m-1.5-1.5v3m-67.5 70.5h3m-1.5-1.5v3m100.5-37.5h3m-1.5-1.5v3m-1.5 73.5h3m-1.5-1.5v3m-70.5 145.5h3m-1.5-1.5v3m34.5 1.5h3m-1.5-1.5v3m-55.5-64.5h3m-1.5-1.5v3m-121.5 202.5h3m-1.5-1.5v3m43.5-46.5h3m-1.5-1.5v3m124.5-130.5h3m-1.5-1.5v3m-91.5-25.5h3m-1.5-1.5v3m16.5-109.5h3m-1.5-1.5v3m64.5-127.5h3m-1.5-1.5v3m82.5 79.5h3m-1.5-1.5v3m28.5-43.5h3m-1.5-1.5v3m-46.5-109.5h3m-1.5-1.5v3m28.5 49.5h3m-1.5-1.5v3m-13.5 64.5h3m-1.5-1.5v3m37.5-103.5h3m-1.5-1.5v3m-109.5 55.5h3m-1.5-1.5v3m-67.5 70.5h3m-1.5-1.5v3m-37.5 232.5h3m-1.5-1.5v3m-13.5 76.5h3m-1.5-1.5v3m13.5-94.5h3m-1.5-1.5v3m16.5 208.5h3m-1.5-1.5v3m-40.5-154.5h3m-1.5-1.5v3m-4.5-175.5h3m-1.5-1.5v3m-79.5 85.5h3m-1.5-1.5v3m-13.5 151.5h3m-1.5-1.5v3m163.5-34.5h3m-1.5-1.5v3m43.5-49.5h3m-1.5-1.5v3m-115.5-16.5h3m-1.5-1.5v3m-13.5-28.5h3m-1.5-1.5v3m55.5 31.5h3m-1.5-1.5v3m34.5-1.5h3m-1.5-1.5v3m-1.5-175.5h3m-1.5-1.5v3m-40.5 133.5h3m-1.5-1.5v3m31.5 28.5h3m-1.5-1.5v3m31.5-184.5h3m-1.5-1.5v3m61.5-154.5h3m-1.5-1.5v3m-55.5-82.5h3m-1.5-1.5v3m-7.5-106.5h3m-1.5-1.5v3m-7.5 121.5h3m-1.5-1.5v3m10.5 190.5h3m-1.5-1.5v3m115.5-151.5h3m-1.5-1.5v3m-28.5 259.5h3m-1.5-1.5v3m-7.5-82.5h3m-1.5-1.5v3m-22.5 97.5h3m-1.5-1.5v3m-22.5-46.5h3m-1.5-1.5v3m-7.5-25.5h3m-1.5-1.5v3m-16.5-124.5h3m-1.5-1.5v3m46.5 34.5h3m-1.5-1.5v3m-28.5-97.5h3m-1.5-1.5v3m76.5 64.5h3m-1.5-1.5v3m-46.5 82.5h3m-1.5-1.5v3m4.5-10.5h3m-1.5-1.5v3m-49.5-61.5h3m-1.5-1.5v3m-22.5 25.5h3m-1.5-1.5v3m19.5-97.5h3m-1.5-1.5v3m-79.5-7.5h3m-1.5-1.5v3m22.5 328.5h3m-1.5-1.5v3m1.5 16.5h3m-1.5-1.5v3m49.5 16.5h3m-1.5-1.5v3m-7.5-43.5h3m-1.5-1.5v3m67.5 7.5h3m-1.5-1.5v3m-40.5-25.5h3m-1.5-1.5v3m-25.5 4.5h3m-1.5-1.5v3m-19.5-1.5h3m-1.5-1.5v3m19.5-142.5h3m-1.5-1.5v3m-40.5 91.5h3m-1.5-1.5v3m-70.5 97.5h3m-1.5-1.5v3m-1.5 109.5h3m-1.5-1.5v3m-91.5-1.5h3m-1.5-1.5v3m37.5-61.5h3m-1.5-1.5v3m7.5-259.5h3m-1.5-1.5v3m-1.5 52.5h3m-1.5-1.5v3m-76.5-124.5h3m-1.5-1.5v3m4.5-40.5h3m-1.5-1.5v3m-52.5 85.5h3m-1.5-1.5v3m-16.5 127.5h3m-1.5-1.5v3m7.5-22.5h3m-1.5-1.5v3m76.5 4.5h3m-1.5-1.5v3m109.5-157.5h3m-1.5-1.5v3m-76.5-34.5h3m-1.5-1.5v3m97.5-34.5h3m-1.5-1.5v3m82.5-49.5h3m-1.5-1.5v3m-13.5 52.5h3m-1.5-1.5v3m-79.5 133.5h3m-1.5-1.5v3m-7.5-46.5h3m-1.5-1.5v3m55.5 40.5h3m-1.5-1.5v3m28.5 22.5h3m-1.5-1.5v3m-19.5 58.5h3m-1.5-1.5v3m-19.5 64.5h3m-1.5-1.5v3m-94.5 145.5h3m-1.5-1.5v3m31.5-25.5h3m-1.5-1.5v3m-16.5 52.5h3m-1.5-1.5v3m-25.5-55.5h3m-1.5-1.5v3m-76.5-283.5h3m-1.5-1.5v3m1.5-64.5h3m-1.5-1.5v3m46.5-160.5h3m-1.5-1.5v3m49.5-94.5h3m-1.5-1.5v3m-16.5 76.5h3m-1.5-1.5v3m-82.5 397.5h3m-1.5-1.5v3m1.5 76.5h3m-1.5-1.5v3m22.5-103.5h3m-1.5-1.5v3m-73.5-136.5h3m-1.5-1.5v3m28.5-16.5h3m-1.5-1.5v3m70.5 46.5h3m-1.5-1.5v3m40.5 268.5h3m-1.5-1.5v3m-61.5-82.5h3m-1.5-1.5v3m34.5-94.5h3m-1.5-1.5v3m4.5-73.5h3m-1.5-1.5v3m76.5 67.5h3m-1.5-1.5v3m-19.5-130.5h3m-1.5-1.5v3m4.5 238.5h3m-1.5-1.5v3m-73.5-178.5h3m-1.5-1.5v3m19.5 103.5h3m-1.5-1.5v3m97.5-67.5h3m-1.5-1.5v3m-58.5-118.5h3m-1.5-1.5v3m-10.5 1.5h3m-1.5-1.5v3m-7.5-10.5h3m-1.5-1.5v3m82.5-115.5h3m-1.5-1.5v3m-4.5 202.5h3m-1.5-1.5v3m-145.5 43.5h3m-1.5-1.5v3m49.5-79.5h3m-1.5-1.5v3m-7.5-43.5h3m-1.5-1.5v3m16.5 73.5h3m-1.5-1.5v3m40.5-100.5h3m-1.5-1.5v3m4.5-118.5h3m-1.5-1.5v3m4.5-112.5h3m-1.5-1.5v3m-85.5 136.5h3m-1.5-1.5v3m-7.5-37.5h3m-1.5-1.5v3m-31.5-43.5h3m-1.5-1.5v3m7.5 424.5h3m-1.5-1.5v3m-55.5 76.5h3m-1.5-1.5v3m-19.5 37.5h3m-1.5-1.5v3m79.5-67.5h3m-1.5-1.5v3m55.5-79.5h3m-1.5-1.5v3m-85.5-13.5h3m-1.5-1.5v3m64.5 13.5h3m-1.5-1.5v3m-16.5-79.5h3m-1.5-1.5v3m79.5-61.5h3m-1.5-1.5v3m73.5-7.5h3m-1.5-1.5v3m-67.5-181.5h3m-1.5-1.5v3m1.5 22.5h3m-1.5-1.5v3m43.5-22.5h3m-1.5-1.5v3m16.5-7.5h3m-1.5-1.5v3m-46.5 43.5h3m-1.5-1.5v3m1.5-16.5h3m-1.5-1.5v3m7.5 67.5h3m-1.5-1.5v3m-73.5-19.5h3m-1.5-1.5v3m-22.5-7.5h3m-1.5-1.5v3m28.5 85.5h3m-1.5-1.5v3m-64.5 67.5h3m-1.5-1.5v3m-7.5 100.5h3m-1.5-1.5v3m10.5-49.5h3m-1.5-1.5v3m22.5-217.5h3m-1.5-1.5v3m-58.5-13.5h3m-1.5-1.5v3m94.5 61.5h3m-1.5-1.5v3m7.5-76.5h3m-1.5-1.5v3m-73.5 148.5h3m-1.5-1.5v3m46.5-151.5h3m-1.5-1.5v3m46.5-139.5h3m-1.5-1.5v3m43.5 232.5h3m-1.5-1.5v3m-19.5-142.5h3m-1.5-1.5v3m-88.5-16.5h3m-1.5-1.5v3m-79.5 235.5h3m-1.5-1.5v3m82.5-73.5h3m-1.5-1.5v3m16.5-7.5h3m-1.5-1.5v3m4.5-64.5h3m-1.5-1.5v3m64.5-37.5h3m-1.5-1.5v3m-16.5 55.5h3m-1.5-1.5v3m-115.5-40.5h3m-1.5-1.5v3m40.5-118.5h3m-1.5-1.5v3m-34.5 52.5h3m-1.5-1.5v3m46.5-52.5h3m-1.5-1.5v3m46.5 49.5h3m-1.5-1.5v3m-49.5 52.5h3m-1.5-1.5v3m-67.5-118.5h3m-1.5-1.5v3m97.5-31.5h3m-1.5-1.5v3m4.5 145.5h3m-1.5-1.5v3m52.5-49.5h3m-1.5-1.5v3m-100.5-49.5h3m-1.5-1.5v3m-61.5 34.5h3m-1.5-1.5v3m-25.5 118.5h3m-1.5-1.5v3m22.5-58.5h3m-1.5-1.5v3m85.5 70.5h3m-1.5-1.5v3m19.5-124.5h3m-1.5-1.5v3m-19.5-37.5h3m-1.5-1.5v3m-10.5-10.5h3m-1.5-1.5v3m-103.5 274.5h3m-1.5-1.5v3m40.5-64.5h3m-1.5-1.5v3m-49.5 196.5h3m-1.5-1.5v3m-1.5-250.5h3m-1.5-1.5v3m67.5-10.5h3m-1.5-1.5v3m16.5 187.5h3m-1.5-1.5v3m13.5-49.5h3m-1.5-1.5v3m10.5 85.5h3m-1.5-1.5v3m-85.5-13.5h3m-1.5-1.5v3m-58.5-103.5h3m-1.5-1.5v3m16.5-199.5h3m-1.5-1.5v3m52.5 16.5h3m-1.5-1.5v3m22.5 145.5h3m-1.5-1.5v3m-79.5-49.5h3m-1.5-1.5v3m124.5-43.5h3m-1.5-1.5v3m-55.5 160.5h3m-1.5-1.5v3m-55.5-253.5h3m-1.5-1.5v3m-37.5-142.5h3m-1.5-1.5v3m-76.5 154.5h3m-1.5-1.5v3m148.5-37.5h3m-1.5-1.5v3m22.5-4.5h3m-1.5-1.5v3m46.5-91.5h3m-1.5-1.5v3m31.5-160.5h3m-1.5-1.5v3m91.5 295.5h3m-1.5-1.5v3m-94.5-274.5h3m-1.5-1.5v3m-76.5 241.5h3m-1.5-1.5v3m-52.5 82.5h3m-1.5-1.5v3m-10.5-19.5h3m-1.5-1.5v3m-1.5 127.5h3m-1.5-1.5v3m-43.5 163.5h3m-1.5-1.5v3m28.5-22.5h3m-1.5-1.5v3m70.5-1.5h3m-1.5-1.5v3m-25.5-10.5h3m-1.5-1.5v3m31.5-64.5h3m-1.5-1.5v3m-31.5 49.5h3m-1.5-1.5v3m-58.5 109.5h3m-1.5-1.5v3m70.5-295.5h3m-1.5-1.5v3m28.5-94.5h3m-1.5-1.5v3m-52.5-1.5h3m-1.5-1.5v3m-4.5 1.5h3m-1.5-1.5v3m-112.5 97.5h3m-1.5-1.5v3m43.5-70.5h3m-1.5-1.5v3m16.5 97.5h3m-1.5-1.5v3m-19.5-43.5h3m-1.5-1.5v3m40.5-358.5h3m-1.5-1.5v3m-31.5 127.5h3m-1.5-1.5v3m31.5 109.5h3m-1.5-1.5v3m61.5 46.5h3m-1.5-1.5v3m-4.5 4.5h3m-1.5-1.5v3m91.5-88.5h3m-1.5-1.5v3m19.5-31.5h3m-1.5-1.5v3m-22.5-118.5h3m-1.5-1.5v3m-16.5 211.5h3m-1.5-1.5v3m34.5 82.5h3m-1.5-1.5v3m-52.5-7.5h3m-1.5-1.5v3m-94.5 70.5h3m-1.5-1.5v3m-121.5-19.5h3m-1.5-1.5v3m46.5-40.5h3m-1.5-1.5v3m-49.5 82.5h3m-1.5-1.5v3m37.5-34.5h3m-1.5-1.5v3m136.5-94.5h3m-1.5-1.5v3m-67.5-151.5h3m-1.5-1.5v3m100.5 7.5h3m-1.5-1.5v3m19.5 133.5h3m-1.5-1.5v3m64.5-91.5h3m-1.5-1.5v3m-31.5 19.5h3m-1.5-1.5v3m-10.5 46.5h3m-1.5-1.5v3m-52.5 64.5h3m-1.5-1.5v3m-19.5 13.5h3m-1.5-1.5v3m-97.5-40.5h3m-1.5-1.5v3m4.5 1.5h3m-1.5-1.5v3m-52.5 49.5h3m-1.5-1.5v3m46.5 34.5h3m-1.5-1.5v3m-100.5-16.5h3m-1.5-1.5v3m82.5 52.5h3m-1.5-1.5v3m31.5-154.5h3m-1.5-1.5v3m67.5-91.5h3m-1.5-1.5v3m-112.5 166.5h3m-1.5-1.5v3m67.5 25.5h3m-1.5-1.5v3m-31.5-124.5h3m-1.5-1.5v3m-88.5 22.5h3m-1.5-1.5v3m7.5 142.5h3m-1.5-1.5v3m1.5-70.5h3m-1.5-1.5v3m10.5-130.5h3m-1.5-1.5v3m91.5 43.5h3m-1.5-1.5v3m-79.5 43.5h3m-1.5-1.5v3m-16.5-61.5h3m-1.5-1.5v3m19.5-19.5h3m-1.5-1.5v3m124.5 100.5h3m-1.5-1.5v3m-10.5 49.5h3m-1.5-1.5v3m16.5-88.5h3m-1.5-1.5v3m-4.5 28.5h3m-1.5-1.5v3m-88.5-1.5h3m-1.5-1.5v3m-82.5-67.5h3m-1.5-1.5v3m-22.5 34.5h3m-1.5-1.5v3m100.5-64.5h3m-1.5-1.5v3m31.5-49.5h3m-1.5-1.5v3m46.5 22.5h3m-1.5-1.5v3m19.5-163.5h3m-1.5-1.5v3m49.5 181.5h3m-1.5-1.5v3m-7.5-187.5h3m-1.5-1.5v3m-61.5-73.5h3m-1.5-1.5v3m25.5-34.5h3m-1.5-1.5v3m13.5-73.5h3m-1.5-1.5v3m-61.5-22.5h3m-1.5-1.5v3m-4.5 82.5h3m-1.5-1.5v3m-55.5 127.5h3m-1.5-1.5v3m-106.5 184.5h3m-1.5-1.5v3m103.5-37.5h3m-1.5-1.5v3m-112.5 256.5h3m-1.5-1.5v3m10.5-73.5h3m-1.5-1.5v3m1.5-37.5h3m-1.5-1.5v3m52.5-25.5h3m-1.5-1.5v3m10.5-58.5h3m-1.5-1.5v3m121.5-61.5h3m-1.5-1.5v3m-28.5-109.5h3m-1.5-1.5v3m-148.5 247.5h3m-1.5-1.5v3m-52.5 142.5h3m-1.5-1.5v3m-37.5-133.5h3m-1.5-1.5v3m85.5 31.5h3m-1.5-1.5v3m-13.5-70.5h3m-1.5-1.5v3m4.5 55.5h3m-1.5-1.5v3m91.5 73.5h3m-1.5-1.5v3m-70.5-46.5h3m-1.5-1.5v3m37.5-247.5h3m-1.5-1.5v3m4.5-67.5h3m-1.5-1.5v3m-34.5 118.5h3m-1.5-1.5v3m-34.5-64.5h3m-1.5-1.5v3m-22.5 67.5h3m-1.5-1.5v3m169.5-124.5h3m-1.5-1.5v3m43.5 220.5h3m-1.5-1.5v3m16.5-124.5h3m-1.5-1.5v3m-43.5-88.5h3m-1.5-1.5v3m-151.5 286.5h3m-1.5-1.5v3m79.5 73.5h3m-1.5-1.5v3m22.5-217.5h3m-1.5-1.5v3m94.5-73.5h3m-1.5-1.5v3m-70.5 10.5h3m-1.5-1.5v3m-61.5-76.5h3m-1.5-1.5v3m-94.5 160.5h3m-1.5-1.5v3m-46.5 7.5h3m-1.5-1.5v3m121.5 7.5h3m-1.5-1.5v3m22.5 25.5h3m-1.5-1.5v3m13.5 16.5h3m-1.5-1.5v3m-55.5-10.5h3m-1.5-1.5v3m-13.5-94.5h3m-1.5-1.5v3m-28.5 22.5h3m-1.5-1.5v3m-46.5 37.5h3m-1.5-1.5v3m-58.5-1.5h3m-1.5-1.5v3m151.5 112.5h3m-1.5-1.5v3m28.5-25.5h3m-1.5-1.5v3m31.5 37.5h3m-1.5-1.5v3m-31.5-43.5h3m-1.5-1.5v3m28.5 151.5h3m-1.5-1.5v3m28.5-133.5h3m-1.5-1.5v3m-85.5 100.5h3m-1.5-1.5v3m1.5-106.5h3m-1.5-1.5v3m67.5 67.5h3m-1.5-1.5v3m37.5 7.5h3m-1.5-1.5v3m94.5-202.5h3m-1.5-1.5v3m-16.5 22.5h3m-1.5-1.5v3m-124.5 163.5h3m-1.5-1.5v3m-22.5-244.5h3m-1.5-1.5v3m55.5-157.5h3m-1.5-1.5v3m-121.5 91.5h3m-1.5-1.5v3m43.5 22.5h3m-1.5-1.5v3m-31.5-73.5h3m-1.5-1.5v3m25.5-88.5h3m-1.5-1.5v3m-22.5 67.5h3m-1.5-1.5v3m-7.5 49.5h3m-1.5-1.5v3m-7.5 10.5h3m-1.5-1.5v3m40.5 106.5h3m-1.5-1.5v3m-25.5 109.5h3m-1.5-1.5v3m-55.5-49.5h3m-1.5-1.5v3m10.5-43.5h3m-1.5-1.5v3m-88.5 61.5h3m-1.5-1.5v3m7.5 121.5h3m-1.5-1.5v3m-1.5-40.5h3m-1.5-1.5v3m64.5-40.5h3m-1.5-1.5v3m31.5-145.5h3m-1.5-1.5v3m-37.5-178.5h3m-1.5-1.5v3m88.5-76.5h3m-1.5-1.5v3m-31.5-7.5h3m-1.5-1.5v3m67.5-64.5h3m-1.5-1.5v3m-55.5 91.5h3m-1.5-1.5v3m-76.5 205.5h3m-1.5-1.5v3m109.5-298.5h3m-1.5-1.5v3m1.5 19.5h3m-1.5-1.5v3m91.5 58.5h3m-1.5-1.5v3m-76.5 118.5h3m-1.5-1.5v3m-55.5-130.5h3m-1.5-1.5v3m-79.5 193.5h3m-1.5-1.5v3m10.5 148.5h3m-1.5-1.5v3m187.5-229.5h3m-1.5-1.5v3m34.5-106.5h3m-1.5-1.5v3m-73.5-118.5h3m-1.5-1.5v3m55.5 313.5h3m-1.5-1.5v3m22.5-268.5h3m-1.5-1.5v3m-34.5-109.5h3m-1.5-1.5v3m43.5 88.5h3m-1.5-1.5v3m13.5-40.5h3m-1.5-1.5v3m-58.5 61.5h3m-1.5-1.5v3m-124.5 148.5h3m-1.5-1.5v3m-37.5-70.5h3m-1.5-1.5v3m-16.5-85.5h3m-1.5-1.5v3m85.5 55.5h3m-1.5-1.5v3m-112.5 70.5h3m-1.5-1.5v3m-79.5 106.5h3m-1.5-1.5v3m13.5 16.5h3m-1.5-1.5v3m67.5-61.5h3m-1.5-1.5v3m-46.5 250.5h3m-1.5-1.5v3m94.5-31.5h3m-1.5-1.5v3m58.5-94.5h3m-1.5-1.5v3m-112.5 100.5h3m-1.5-1.5v3m-1.5 106.5h3m-1.5-1.5v3m-40.5-82.5h3m-1.5-1.5v3m70.5-253.5h3m-1.5-1.5v3m-58.5 85.5h3m-1.5-1.5v3m73.5-94.5h3m-1.5-1.5v3m-82.5-85.5h3m-1.5-1.5v3m-73.5 100.5h3m-1.5-1.5v3m34.5 13.5h3m-1.5-1.5v3m28.5 43.5h3m-1.5-1.5v3m175.5 37.5h3m-1.5-1.5v3m-40.5-28.5h3m-1.5-1.5v3m40.5-58.5h3m-1.5-1.5v3m-70.5 85.5h3m-1.5-1.5v3m-34.5-4.5h3m-1.5-1.5v3m-1.5-64.5h3m-1.5-1.5v3m-76.5-103.5h3m-1.5-1.5v3m103.5-55.5h3m-1.5-1.5v3m-1.5-49.5h3m-1.5-1.5v3m-49.5 211.5h3m-1.5-1.5v3m-46.5 58.5h3m-1.5-1.5v3m22.5-61.5h3m-1.5-1.5v3m-55.5 1.5h3m-1.5-1.5v3m1.5 43.5h3m-1.5-1.5v3m-1.5-118.5h3m-1.5-1.5v3m97.5-4.5h3m-1.5-1.5v3m-4.5-244.5h3m-1.5-1.5v3m-85.5 19.5h3m-1.5-1.5v3m118.5-43.5h3m-1.5-1.5v3m-97.5-7.5h3m-1.5-1.5v3m7.5 43.5h3m-1.5-1.5v3m43.5 67.5h3m-1.5-1.5v3m-73.5 181.5h3m-1.5-1.5v3m-67.5 265.5h3m-1.5-1.5v3m-4.5-160.5h3m-1.5-1.5v3m136.5-139.5h3m-1.5-1.5v3m-37.5 40.5h3m-1.5-1.5v3m-40.5 94.5h3m-1.5-1.5v3m124.5-280.5h3m-1.5-1.5v3m-25.5 70.5h3m-1.5-1.5v3m-40.5 178.5h3m-1.5-1.5v3m-121.5 58.5h3m-1.5-1.5v3m157.5-88.5h3m-1.5-1.5v3m43.5-19.5h3m-1.5-1.5v3m-28.5 109.5h3m-1.5-1.5v3m-67.5-16.5h3m-1.5-1.5v3m-4.5-25.5h3m-1.5-1.5v3m16.5 118.5h3m-1.5-1.5v3m-49.5 46.5h3m-1.5-1.5v3m46.5-115.5h3m-1.5-1.5v3m-100.5-13.5h3m-1.5-1.5v3m148.5 4.5h3m-1.5-1.5v3m-7.5-169.5h3m-1.5-1.5v3m-109.5 19.5h3m-1.5-1.5v3m19.5-37.5h3m-1.5-1.5v3m-22.5-37.5h3m-1.5-1.5v3m-133.5 166.5h3m-1.5-1.5v3m115.5-229.5h3m-1.5-1.5v3m10.5 13.5h3m-1.5-1.5v3m64.5 34.5h3m-1.5-1.5v3m4.5 127.5h3m-1.5-1.5v3m-88.5 226.5h3m-1.5-1.5v3m49.5-262.5h3m-1.5-1.5v3m-82.5 190.5h3m-1.5-1.5v3m79.5-166.5h3m-1.5-1.5v3m67.5-19.5h3m-1.5-1.5v3m-10.5 1.5h3m-1.5-1.5v3m70.5-226.5h3m-1.5-1.5v3m-34.5 70.5h3m-1.5-1.5v3m-115.5 193.5h3m-1.5-1.5v3m13.5 127.5h3m-1.5-1.5v3m49.5-61.5h3m-1.5-1.5v3m-40.5-211.5h3m-1.5-1.5v3m-136.5 157.5h3m-1.5-1.5v3m13.5 142.5h3m-1.5-1.5v3m-7.5 7.5h3m-1.5-1.5v3m31.5 40.5h3m-1.5-1.5v3m-58.5-85.5h3m-1.5-1.5v3m46.5-52.5h3m-1.5-1.5v3m133.5-154.5h3m-1.5-1.5v3m-112.5 316.5h3m-1.5-1.5v3m97.5-22.5h3m-1.5-1.5v3m1.5-13.5h3m-1.5-1.5v3m49.5 40.5h3m-1.5-1.5v3m58.5-112.5h3m-1.5-1.5v3m58.5-22.5h3m-1.5-1.5v3m-37.5 19.5h3m-1.5-1.5v3m-34.5 55.5h3m-1.5-1.5v3m-112.5 148.5h3m-1.5-1.5v3m148.5-208.5h3m-1.5-1.5v3m-31.5 25.5h3m-1.5-1.5v3m-16.5-64.5h3m-1.5-1.5v3m7.5-55.5h3m-1.5-1.5v3m-91.5-4.5h3m-1.5-1.5v3m-97.5 184.5h3m-1.5-1.5v3m85.5-181.5h3m-1.5-1.5v3m34.5 16.5h3m-1.5-1.5v3m43.5-76.5h3m-1.5-1.5v3m-202.5 157.5h3m-1.5-1.5v3m-7.5-22.5h3m-1.5-1.5v3m61.5-106.5h3m-1.5-1.5v3m25.5 109.5h3m-1.5-1.5v3m49.5-286.5h3m-1.5-1.5v3m7.5 109.5h3m-1.5-1.5v3m-127.5 49.5h3m-1.5-1.5v3m10.5 43.5h3m-1.5-1.5v3m-16.5 97.5h3m-1.5-1.5v3m-34.5 118.5h3m-1.5-1.5v3m-31.5-157.5h3m-1.5-1.5v3m88.5-7.5h3m-1.5-1.5v3m-37.5 127.5h3m-1.5-1.5v3m19.5-202.5h3m-1.5-1.5v3m1.5-73.5h3m-1.5-1.5v3m70.5 28.5h3m-1.5-1.5v3m61.5 31.5h3m-1.5-1.5v3m70.5 13.5h3m-1.5-1.5v3m-199.5-151.5h3m-1.5-1.5v3m94.5 286.5h3m-1.5-1.5v3m16.5-199.5h3m-1.5-1.5v3m-109.5-7.5h3m-1.5-1.5v3m40.5 187.5h3m-1.5-1.5v3m-40.5 43.5h3m-1.5-1.5v3m-49.5-19.5h3m-1.5-1.5v3m145.5-7.5h3m-1.5-1.5v3m-43.5 37.5h3m-1.5-1.5v3m-79.5-217.5h3m-1.5-1.5v3m-67.5 208.5h3m-1.5-1.5v3m-67.5 16.5h3m-1.5-1.5v3m19.5 70.5h3m-1.5-1.5v3m43.5-157.5h3m-1.5-1.5v3m10.5-148.5h3m-1.5-1.5v3m70.5 91.5h3m-1.5-1.5v3m-40.5-28.5h3m-1.5-1.5v3m76.5-43.5h3m-1.5-1.5v3m-1.5 160.5h3m-1.5-1.5v3m28.5 52.5h3m-1.5-1.5v3m-31.5-28.5h3m-1.5-1.5v3m1.5-13.5h3m-1.5-1.5v3m-169.5 85.5h3m-1.5-1.5v3m79.5-199.5h3m-1.5-1.5v3m16.5-85.5h3m-1.5-1.5v3m55.5 136.5h3m-1.5-1.5v3m40.5-259.5h3m-1.5-1.5v3m10.5-205.5h3m-1.5-1.5v3m-52.5 160.5h3m-1.5-1.5v3m-49.5 10.5h3m-1.5-1.5v3m43.5 145.5h3m-1.5-1.5v3m-79.5 124.5h3m-1.5-1.5v3m43.5-37.5h3m-1.5-1.5v3m49.5 82.5h3m-1.5-1.5v3m-88.5-121.5h3m-1.5-1.5v3m13.5 13.5h3m-1.5-1.5v3m67.5 127.5h3m-1.5-1.5v3m127.5-271.5h3m-1.5-1.5v3m4.5 151.5h3m-1.5-1.5v3m-64.5-88.5h3m-1.5-1.5v3m-13.5-172.5h3m-1.5-1.5v3m40.5 196.5h3m-1.5-1.5v3m-157.5 52.5h3m-1.5-1.5v3m-13.5 82.5h3m-1.5-1.5v3m-4.5-37.5h3m-1.5-1.5v3m-7.5 1.5h3m-1.5-1.5v3m4.5 55.5h3m-1.5-1.5v3m-40.5 64.5h3m-1.5-1.5v3m-46.5-10.5h3m-1.5-1.5v3m133.5 115.5h3m-1.5-1.5v3m70.5-31.5h3m-1.5-1.5v3m85.5-247.5h3m-1.5-1.5v3m-55.5 100.5h3m-1.5-1.5v3m34.5-22.5h3m-1.5-1.5v3m-19.5 10.5h3m-1.5-1.5v3m-34.5-292.5h3m-1.5-1.5v3m-58.5 130.5h3m-1.5-1.5v3m34.5 82.5h3m-1.5-1.5v3m-7.5 58.5h3m-1.5-1.5v3m49.5-52.5h3m-1.5-1.5v3m-28.5-145.5h3m-1.5-1.5v3m-103.5-4.5h3m-1.5-1.5v3m55.5 49.5h3m-1.5-1.5v3m13.5 169.5h3m-1.5-1.5v3m82.5-109.5h3m-1.5-1.5v3m-43.5-52.5h3m-1.5-1.5v3m-61.5-46.5h3m-1.5-1.5v3m-70.5 25.5h3m-1.5-1.5v3m-22.5 67.5h3m-1.5-1.5v3m64.5 58.5h3m-1.5-1.5v3m-16.5 124.5h3m-1.5-1.5v3m13.5-148.5h3m-1.5-1.5v3m4.5-4.5h3m-1.5-1.5v3m13.5 67.5h3m-1.5-1.5v3m46.5-13.5h3m-1.5-1.5v3m49.5-103.5h3m-1.5-1.5v3m-214.5 64.5h3m-1.5-1.5v3m-7.5 10.5h3m-1.5-1.5v3m79.5-28.5h3m-1.5-1.5v3m22.5-178.5h3m-1.5-1.5v3m58.5-85.5h3m-1.5-1.5v3m-22.5 10.5h3m-1.5-1.5v3m-70.5 121.5h3m-1.5-1.5v3m61.5-79.5h3m-1.5-1.5v3m-67.5 103.5h3m-1.5-1.5v3m46.5 55.5h3m-1.5-1.5v3m-73.5 112.5h3m-1.5-1.5v3m-91.5 121.5h3m-1.5-1.5v3m142.5 16.5h3m-1.5-1.5v3m-43.5 64.5h3m-1.5-1.5v3m4.5-25.5h3m-1.5-1.5v3m37.5 124.5h3m-1.5-1.5v3m91.5-166.5h3m-1.5-1.5v3m64.5-43.5h3m-1.5-1.5v3m88.5-226.5h3m-1.5-1.5v3m-43.5 76.5h3m-1.5-1.5v3m-184.5 238.5h3m-1.5-1.5v3m4.5-265.5h3m-1.5-1.5v3m7.5 40.5h3m-1.5-1.5v3m-40.5 25.5h3m-1.5-1.5v3m-43.5 10.5h3m-1.5-1.5v3m-46.5-100.5h3m-1.5-1.5v3m-7.5 166.5h3m-1.5-1.5v3m-31.5 40.5h3m-1.5-1.5v3m10.5-10.5h3m-1.5-1.5v3m145.5-166.5h3m-1.5-1.5v3m82.5-82.5h3m-1.5-1.5v3m-202.5 229.5h3m-1.5-1.5v3m121.5-43.5h3m-1.5-1.5v3m-40.5-67.5h3m-1.5-1.5v3m4.5-37.5h3m-1.5-1.5v3m-31.5-112.5h3m-1.5-1.5v3m-4.5-130.5h3m-1.5-1.5v3m19.5-55.5h3m-1.5-1.5v3m10.5 37.5h3m-1.5-1.5v3m64.5 112.5h3m-1.5-1.5v3m4.5-202.5h3m-1.5-1.5v3m-70.5 112.5h3m-1.5-1.5v3m-46.5-67.5h3m-1.5-1.5v3m-58.5 127.5h3m-1.5-1.5v3m-61.5 139.5h3m-1.5-1.5v3m-40.5-157.5h3m-1.5-1.5v3m-16.5 61.5h3m-1.5-1.5v3m7.5-109.5h3m-1.5-1.5v3m208.5-172.5h3m-1.5-1.5v3m-31.5-22.5h3m-1.5-1.5v3m25.5 202.5h3m-1.5-1.5v3m52.5 241.5h3m-1.5-1.5v3m-7.5 31.5h3m-1.5-1.5v3m-10.5-73.5h3m-1.5-1.5v3m7.5-58.5h3m-1.5-1.5v3m-49.5-97.5h3m-1.5-1.5v3m-4.5-34.5h3m-1.5-1.5v3m19.5-157.5h3m-1.5-1.5v3m28.5 190.5h3m-1.5-1.5v3m-43.5 106.5h3m-1.5-1.5v3m31.5-145.5h3m-1.5-1.5v3m-94.5 163.5h3m-1.5-1.5v3m19.5-124.5h3m-1.5-1.5v3m-1.5-97.5h3m-1.5-1.5v3m37.5 37.5h3m-1.5-1.5v3m31.5 115.5h3m-1.5-1.5v3m4.5-142.5h3m-1.5-1.5v3m-16.5 169.5h3m-1.5-1.5v3m31.5-94.5h3m-1.5-1.5v3m-34.5-130.5h3m-1.5-1.5v3m34.5 37.5h3m-1.5-1.5v3m-55.5 67.5h3m-1.5-1.5v3m1.5 31.5h3m-1.5-1.5v3m16.5-16.5h3m-1.5-1.5v3m28.5 79.5h3m-1.5-1.5v3m-106.5 127.5h3m-1.5-1.5v3m-22.5-73.5h3m-1.5-1.5v3m16.5 91.5h3m-1.5-1.5v3m13.5-55.5h3m-1.5-1.5v3m-46.5-115.5h3m-1.5-1.5v3m-46.5-4.5h3m-1.5-1.5v3m1.5 43.5h3m-1.5-1.5v3m4.5 70.5h3m-1.5-1.5v3m58.5-22.5h3m-1.5-1.5v3m22.5-97.5h3m-1.5-1.5v3m10.5 40.5h3m-1.5-1.5v3m16.5-130.5h3m-1.5-1.5v3m82.5 46.5h3m-1.5-1.5v3m-37.5 139.5h3m-1.5-1.5v3m10.5 22.5h3m-1.5-1.5v3m10.5-190.5h3m-1.5-1.5v3m-139.5-52.5h3m-1.5-1.5v3m-1.5 193.5h3m-1.5-1.5v3m-67.5-7.5h3m-1.5-1.5v3m-13.5 109.5h3m-1.5-1.5v3m157.5-292.5h3m-1.5-1.5v3m-13.5-34.5h3m-1.5-1.5v3m-76.5-22.5h3m-1.5-1.5v3m-40.5 274.5h3m-1.5-1.5v3m52.5-136.5h3m-1.5-1.5v3m55.5-10.5h3m-1.5-1.5v3m-58.5 136.5h3m-1.5-1.5v3m91.5-85.5h3m-1.5-1.5v3m-76.5 79.5h3m-1.5-1.5v3m-19.5-118.5h3m-1.5-1.5v3m52.5-82.5h3m-1.5-1.5v3m25.5-10.5h3m-1.5-1.5v3m16.5-85.5h3m-1.5-1.5v3m34.5 85.5h3m-1.5-1.5v3m-40.5-28.5h3m-1.5-1.5v3m37.5-64.5h3m-1.5-1.5v3m-136.5-37.5h3m-1.5-1.5v3m13.5-73.5h3m-1.5-1.5v3m-31.5 67.5h3m-1.5-1.5v3m19.5 76.5h3m-1.5-1.5v3m25.5 19.5h3m-1.5-1.5v3m7.5-145.5h3m-1.5-1.5v3m58.5 205.5h3m-1.5-1.5v3m64.5-64.5h3m-1.5-1.5v3m-37.5-184.5h3m-1.5-1.5v3m19.5 115.5h3m-1.5-1.5v3m-190.5 229.5h3m-1.5-1.5v3m61.5-91.5h3m-1.5-1.5v3m67.5-25.5h3m-1.5-1.5v3m94.5-79.5h3m-1.5-1.5v3m-118.5 115.5h3m-1.5-1.5v3m-67.5 118.5h3m-1.5-1.5v3m10.5-280.5h3m-1.5-1.5v3m-49.5-13.5h3m-1.5-1.5v3m1.5 28.5h3m-1.5-1.5v3m49.5 241.5h3m-1.5-1.5v3m-7.5 97.5h3m-1.5-1.5v3m-22.5 7.5h3m-1.5-1.5v3m40.5-256.5h3m-1.5-1.5v3m-4.5-118.5h3m-1.5-1.5v3m34.5-43.5h3m-1.5-1.5v3m1.5 85.5h3m-1.5-1.5v3m-19.5 25.5h3m-1.5-1.5v3m-25.5 139.5h3m-1.5-1.5v3m-49.5 181.5h3m-1.5-1.5v3m-52.5-25.5h3m-1.5-1.5v3m19.5-79.5h3m-1.5-1.5v3m49.5 37.5h3m-1.5-1.5v3m112.5-85.5h3m-1.5-1.5v3m-64.5-49.5h3m-1.5-1.5v3m10.5 19.5h3m-1.5-1.5v3m58.5-37.5h3m-1.5-1.5v3m-31.5 34.5h3m-1.5-1.5v3m-109.5 34.5h3m-1.5-1.5v3m7.5-91.5h3m-1.5-1.5v3m-22.5 10.5h3m-1.5-1.5v3m-25.5 181.5h3m-1.5-1.5v3m190.5-322.5h3m-1.5-1.5v3m-67.5 46.5h3m-1.5-1.5v3m151.5-133.5h3m-1.5-1.5v3m-28.5-28.5h3m-1.5-1.5v3m-67.5-157.5h3m-1.5-1.5v3m7.5 85.5h3m-1.5-1.5v3m-13.5 145.5h3m-1.5-1.5v3m-130.5 238.5h3m-1.5-1.5v3m61.5 19.5h3m-1.5-1.5v3m73.5 7.5h3m-1.5-1.5v3m-13.5-85.5h3m-1.5-1.5v3m-43.5 88.5h3m-1.5-1.5v3m-40.5-7.5h3m-1.5-1.5v3m7.5-118.5h3m-1.5-1.5v3m34.5-31.5h3m-1.5-1.5v3m-16.5 22.5h3m-1.5-1.5v3m-52.5 88.5h3m-1.5-1.5v3m31.5-28.5h3m-1.5-1.5v3m-7.5 106.5h3m-1.5-1.5v3m-1.5-22.5h3m-1.5-1.5v3m-4.5 70.5h3m-1.5-1.5v3m22.5-25.5h3m-1.5-1.5v3m-7.5-142.5h3m-1.5-1.5v3m-46.5 52.5h3m-1.5-1.5v3m31.5 46.5h3m-1.5-1.5v3m-31.5 61.5h3m-1.5-1.5v3m-52.5-58.5h3m-1.5-1.5v3m148.5-250.5h3m-1.5-1.5v3m-28.5 109.5h3m-1.5-1.5v3m-64.5-64.5h3m-1.5-1.5v3m34.5 4.5h3m-1.5-1.5v3m25.5 97.5h3m-1.5-1.5v3m-16.5-46.5h3m-1.5-1.5v3m-43.5 13.5h3m-1.5-1.5v3m-37.5 235.5h3m-1.5-1.5v3m-79.5-166.5h3m-1.5-1.5v3m133.5-121.5h3m-1.5-1.5v3m7.5 94.5h3m-1.5-1.5v3m-10.5 115.5h3m-1.5-1.5v3m-61.5-16.5h3m-1.5-1.5v3m40.5 40.5h3m-1.5-1.5v3m-43.5-55.5h3m-1.5-1.5v3m-25.5 208.5h3m-1.5-1.5v3m73.5-43.5h3m-1.5-1.5v3m61.5-100.5h3m-1.5-1.5v3m-43.5-22.5h3m-1.5-1.5v3m-64.5 121.5h3m-1.5-1.5v3m-16.5-94.5h3m-1.5-1.5v3m-100.5 55.5h3m-1.5-1.5v3m40.5 37.5h3m-1.5-1.5v3m-28.5 31.5h3m-1.5-1.5v3m4.5-43.5h3m-1.5-1.5v3m-58.5-151.5h3m-1.5-1.5v3m106.5-64.5h3m-1.5-1.5v3m37.5 16.5h3m-1.5-1.5v3m7.5-19.5h3m-1.5-1.5v3m100.5-208.5h3m-1.5-1.5v3m-49.5-82.5h3m-1.5-1.5v3m-64.5 109.5h3m-1.5-1.5v3m64.5 154.5h3m-1.5-1.5v3m-28.5-79.5h3m-1.5-1.5v3m31.5 79.5h3m-1.5-1.5v3m-67.5 199.5h3m-1.5-1.5v3m31.5-274.5h3m-1.5-1.5v3m-28.5-193.5h3m-1.5-1.5v3m61.5-127.5h3m-1.5-1.5v3m-1.5 61.5h3m-1.5-1.5v3m-85.5 85.5h3m-1.5-1.5v3m31.5 136.5h3m-1.5-1.5v3m-22.5-46.5h3m-1.5-1.5v3m-37.5 148.5h3m-1.5-1.5v3m79.5-199.5h3m-1.5-1.5v3m13.5 31.5h3m-1.5-1.5v3m-64.5-280.5h3m-1.5-1.5v3m-25.5 85.5h3m-1.5-1.5v3m4.5 217.5h3m-1.5-1.5v3m25.5-112.5h3m-1.5-1.5v3m-70.5 283.5h3m-1.5-1.5v3m-43.5-67.5h3m-1.5-1.5v3m-19.5 40.5h3m-1.5-1.5v3m106.5-223.5h3m-1.5-1.5v3m-25.5 7.5h3m-1.5-1.5v3m64.5 115.5h3m-1.5-1.5v3m-127.5-4.5h3m-1.5-1.5v3m127.5-136.5h3m-1.5-1.5v3m-49.5 61.5h3m-1.5-1.5v3m79.5-220.5h3m-1.5-1.5v3m-85.5 55.5h3m-1.5-1.5v3m-25.5 127.5h3m-1.5-1.5v3m103.5-154.5h3m-1.5-1.5v3m-25.5 52.5h3m-1.5-1.5v3m-28.5 103.5h3m-1.5-1.5v3m-43.5 151.5h3m-1.5-1.5v3m-76.5 97.5h3m-1.5-1.5v3m67.5-136.5h3m-1.5-1.5v3m-25.5 31.5h3m-1.5-1.5v3m28.5 28.5h3m-1.5-1.5v3m-25.5-4.5h3m-1.5-1.5v3m85.5-166.5h3m-1.5-1.5v3m-13.5-1.5h3m-1.5-1.5v3m-91.5-148.5h3m-1.5-1.5v3m76.5 64.5h3m-1.5-1.5v3m118.5 208.5h3m-1.5-1.5v3m106.5-334.5h3m-1.5-1.5v3m-19.5 142.5h3m-1.5-1.5v3m1.5-109.5h3m-1.5-1.5v3m-22.5 172.5h3m-1.5-1.5v3m-61.5 151.5h3m-1.5-1.5v3m-31.5 10.5h3m-1.5-1.5v3m-28.5-274.5h3m-1.5-1.5v3m-19.5 232.5h3m-1.5-1.5v3m-37.5 97.5h3m-1.5-1.5v3m-43.5-124.5h3m-1.5-1.5v3m49.5-199.5h3m-1.5-1.5v3m16.5 268.5h3m-1.5-1.5v3m-49.5-70.5h3m-1.5-1.5v3m-13.5-1.5h3m-1.5-1.5v3m-13.5 40.5h3m-1.5-1.5v3m202.5-4.5h3m-1.5-1.5v3m-88.5-31.5h3m-1.5-1.5v3m-106.5 10.5h3m-1.5-1.5v3m43.5-31.5h3m-1.5-1.5v3m13.5 79.5h3m-1.5-1.5v3m28.5-7.5h3m-1.5-1.5v3m22.5-130.5h3m-1.5-1.5v3m-46.5-178.5h3m-1.5-1.5v3m-52.5 10.5h3m-1.5-1.5v3m13.5-52.5h3m-1.5-1.5v3m-19.5 187.5h3m-1.5-1.5v3m-1.5-61.5h3m-1.5-1.5v3m34.5 121.5h3m-1.5-1.5v3m-40.5 34.5h3m-1.5-1.5v3m-61.5-154.5h3m-1.5-1.5v3m-34.5 172.5h3m-1.5-1.5v3m67.5 91.5h3m-1.5-1.5v3m136.5-250.5h3m-1.5-1.5v3m-97.5 64.5h3m-1.5-1.5v3m-115.5 61.5h3m-1.5-1.5v3m169.5-235.5h3m-1.5-1.5v3m-55.5 184.5h3m-1.5-1.5v3m-13.5 100.5h3m-1.5-1.5v3m25.5-121.5h3m-1.5-1.5v3m-139.5 91.5h3m-1.5-1.5v3m37.5-37.5h3m-1.5-1.5v3m-49.5-1.5h3m-1.5-1.5v3m106.5 31.5h3m-1.5-1.5v3m-25.5 52.5h3m-1.5-1.5v3m70.5-31.5h3m-1.5-1.5v3m-22.5-43.5h3m-1.5-1.5v3m70.5-118.5h3m-1.5-1.5v3m-79.5 67.5h3m-1.5-1.5v3m-64.5-118.5h3m-1.5-1.5v3m-49.5-13.5h3m-1.5-1.5v3m112.5-196.5h3m-1.5-1.5v3m64.5 52.5h3m-1.5-1.5v3m-112.5-73.5h3m-1.5-1.5v3m94.5-10.5h3m-1.5-1.5v3m-91.5 79.5h3m-1.5-1.5v3m13.5-25.5h3m-1.5-1.5v3m142.5-7.5h3m-1.5-1.5v3m28.5-49.5h3m-1.5-1.5v3m-34.5 151.5h3m-1.5-1.5v3m34.5-103.5h3m-1.5-1.5v3m-25.5 67.5h3m-1.5-1.5v3m-58.5-1.5h3m-1.5-1.5v3m-1.5-13.5h3m-1.5-1.5v3m-133.5 31.5h3m-1.5-1.5v3m121.5-73.5h3m-1.5-1.5v3m58.5 22.5h3m-1.5-1.5v3m-61.5 106.5h3m-1.5-1.5v3m-7.5-10.5h3m-1.5-1.5v3m-16.5 79.5h3m-1.5-1.5v3m-64.5 73.5h3m-1.5-1.5v3m-37.5 217.5h3m-1.5-1.5v3m13.5 79.5h3m-1.5-1.5v3m-22.5-151.5h3m-1.5-1.5v3m-1.5 70.5h3m-1.5-1.5v3m70.5-79.5h3m-1.5-1.5v3m58.5-85.5h3m-1.5-1.5v3m-136.5 88.5h3m-1.5-1.5v3m118.5-214.5h3m-1.5-1.5v3m-109.5 172.5h3m-1.5-1.5v3m-25.5-187.5h3m-1.5-1.5v3m97.5 88.5h3m-1.5-1.5v3m-181.5 208.5h3m-1.5-1.5v3m55.5 43.5h3m-1.5-1.5v3m13.5-208.5h3m-1.5-1.5v3m31.5-94.5h3m-1.5-1.5v3m-58.5 52.5h3m-1.5-1.5v3m7.5-118.5h3m-1.5-1.5v3m85.5 331.5h3m-1.5-1.5v3m-64.5-238.5h3m-1.5-1.5v3m88.5-157.5h3m-1.5-1.5v3m-25.5 1.5h3m-1.5-1.5v3m-22.5 97.5h3m-1.5-1.5v3m-52.5 37.5h3m-1.5-1.5v3m118.5-133.5h3m-1.5-1.5v3m-7.5-19.5h3m-1.5-1.5v3m-70.5-46.5h3m-1.5-1.5v3m-10.5 88.5h3m-1.5-1.5v3m52.5 250.5h3m-1.5-1.5v3m-49.5-28.5h3m-1.5-1.5v3m-82.5-64.5h3m-1.5-1.5v3m-4.5 94.5h3m-1.5-1.5v3m139.5-94.5h3m-1.5-1.5v3m19.5-148.5h3m-1.5-1.5v3m79.5 55.5h3m-1.5-1.5v3m10.5 10.5h3m-1.5-1.5v3m-19.5-163.5h3m-1.5-1.5v3m-64.5-1.5h3m-1.5-1.5v3m61.5-55.5h3m-1.5-1.5v3m-97.5-22.5h3m-1.5-1.5v3m16.5 49.5h3m-1.5-1.5v3m-49.5 85.5h3m-1.5-1.5v3m-121.5 25.5h3m-1.5-1.5v3m-31.5 67.5h3m-1.5-1.5v3m16.5-118.5h3m-1.5-1.5v3m-1.5 4.5h3m-1.5-1.5v3m10.5 139.5h3m-1.5-1.5v3m124.5-124.5h3m-1.5-1.5v3m-88.5 64.5h3m-1.5-1.5v3m43.5 145.5h3m-1.5-1.5v3m-1.5-175.5h3m-1.5-1.5v3m109.5-127.5h3m-1.5-1.5v3m-61.5 10.5h3m-1.5-1.5v3m-10.5 145.5h3m-1.5-1.5v3m40.5 79.5h3m-1.5-1.5v3m73.5-28.5h3m-1.5-1.5v3m-10.5-130.5h3m-1.5-1.5v3m1.5-142.5h3m-1.5-1.5v3m-121.5 529.5h3m-1.5-1.5v3m16.5-130.5h3m-1.5-1.5v3m58.5-7.5h3m-1.5-1.5v3m-16.5-40.5h3m-1.5-1.5v3m-118.5 175.5h3m-1.5-1.5v3m73.5 13.5h3m-1.5-1.5v3m40.5-49.5h3m-1.5-1.5v3m-1.5-115.5h3m-1.5-1.5v3m100.5-172.5h3m-1.5-1.5v3m-28.5-22.5h3m-1.5-1.5v3m-34.5 85.5h3m-1.5-1.5v3m-109.5 172.5h3m-1.5-1.5v3m-19.5 88.5h3m-1.5-1.5v3m-70.5 19.5h3m-1.5-1.5v3m55.5 34.5h3m-1.5-1.5v3m4.5-88.5h3m-1.5-1.5v3m-82.5 52.5h3m-1.5-1.5v3m37.5-76.5h3m-1.5-1.5v3m106.5-220.5h3m-1.5-1.5v3m19.5-28.5h3m-1.5-1.5v3m-76.5 1.5h3m-1.5-1.5v3m28.5 1.5h3m-1.5-1.5v3m-52.5 43.5h3m-1.5-1.5v3m64.5-196.5h3m-1.5-1.5v3m-58.5 172.5h3m-1.5-1.5v3m-19.5 46.5h3m-1.5-1.5v3m-28.5-4.5h3m-1.5-1.5v3m166.5-199.5h3m-1.5-1.5v3m13.5 7.5h3m-1.5-1.5v3m-97.5-142.5h3m-1.5-1.5v3m-28.5 148.5h3m-1.5-1.5v3m-28.5 43.5h3m-1.5-1.5v3m-25.5-22.5h3m-1.5-1.5v3m130.5-25.5h3m-1.5-1.5v3m61.5-19.5h3m-1.5-1.5v3m-67.5 412.5h3m-1.5-1.5v3m-22.5-175.5h3m-1.5-1.5v3m-79.5 127.5h3m-1.5-1.5v3m67.5-55.5h3m-1.5-1.5v3m-25.5-31.5h3m-1.5-1.5v3m82.5-211.5h3m-1.5-1.5v3m-58.5 79.5h3m-1.5-1.5v3m-25.5 85.5h3m-1.5-1.5v3m-49.5-151.5h3m-1.5-1.5v3m40.5 46.5h3m-1.5-1.5v3m-28.5 112.5h3m-1.5-1.5v3m-52.5 115.5h3m-1.5-1.5v3m-85.5-136.5h3m-1.5-1.5v3m37.5-109.5h3m-1.5-1.5v3m16.5-73.5h3m-1.5-1.5v3m55.5 73.5h3m-1.5-1.5v3m16.5-49.5h3m-1.5-1.5v3m82.5 46.5h3m-1.5-1.5v3m-31.5-100.5h3m-1.5-1.5v3m-46.5 85.5h3m-1.5-1.5v3m82.5-55.5h3m-1.5-1.5v3m-70.5 31.5h3m-1.5-1.5v3m-64.5 61.5h3m-1.5-1.5v3m-1.5-58.5h3m-1.5-1.5v3m-10.5-40.5h3m-1.5-1.5v3m-31.5 187.5h3m-1.5-1.5v3m46.5-103.5h3m-1.5-1.5v3m49.5-4.5h3m-1.5-1.5v3m43.5-97.5h3m-1.5-1.5v3m4.5 208.5h3m-1.5-1.5v3m-70.5-112.5h3m-1.5-1.5v3m25.5 151.5h3m-1.5-1.5v3m19.5-70.5h3m-1.5-1.5v3m-64.5-70.5h3m-1.5-1.5v3m16.5-79.5h3m-1.5-1.5v3m139.5-103.5h3m-1.5-1.5v3m-91.5 289.5h3m-1.5-1.5v3m-130.5-4.5h3m-1.5-1.5v3m10.5-154.5h3m-1.5-1.5v3m-43.5-22.5h3m-1.5-1.5v3m40.5 103.5h3m-1.5-1.5v3m43.5-400.5h3m-1.5-1.5v3m61.5-4.5h3m-1.5-1.5v3m82.5 103.5h3m-1.5-1.5v3m31.5-19.5h3m-1.5-1.5v3m-58.5 31.5h3m-1.5-1.5v3m-31.5 154.5h3m-1.5-1.5v3m-133.5 112.5h3m-1.5-1.5v3m-7.5 136.5h3m-1.5-1.5v3m55.5-67.5h3m-1.5-1.5v3m-43.5-79.5h3m-1.5-1.5v3m10.5-58.5h3m-1.5-1.5v3m-64.5 28.5h3m-1.5-1.5v3m100.5-121.5h3m-1.5-1.5v3m4.5-7.5h3m-1.5-1.5v3m76.5 124.5h3m-1.5-1.5v3m-64.5-175.5h3m-1.5-1.5v3m82.5 82.5h3m-1.5-1.5v3m-40.5-34.5h3m-1.5-1.5v3m49.5 34.5h3m-1.5-1.5v3m-34.5-13.5h3m-1.5-1.5v3m-88.5 310.5h3m-1.5-1.5v3m4.5-64.5h3m-1.5-1.5v3m-37.5 43.5h3m-1.5-1.5v3m-61.5-133.5h3m-1.5-1.5v3m121.5 4.5h3m-1.5-1.5v3m34.5-94.5h3m-1.5-1.5v3m103.5 37.5h3m-1.5-1.5v3m-58.5-349.5h3m-1.5-1.5v3m-151.5 13.5h3m-1.5-1.5v3m-19.5 112.5h3m-1.5-1.5v3m4.5 25.5h3m-1.5-1.5v3m10.5 4.5h3m-1.5-1.5v3m67.5-46.5h3m-1.5-1.5v3m37.5 37.5h3m-1.5-1.5v3m-73.5 202.5h3m-1.5-1.5v3m37.5 208.5h3m-1.5-1.5v3m130.5-262.5h3m-1.5-1.5v3m-88.5-109.5h3m-1.5-1.5v3m-13.5-115.5h3m-1.5-1.5v3m22.5 112.5h3m-1.5-1.5v3m49.5 178.5h3m-1.5-1.5v3m4.5-169.5h3m-1.5-1.5v3m-52.5 64.5h3m-1.5-1.5v3m-79.5 241.5h3m-1.5-1.5v3m10.5 28.5h3m-1.5-1.5v3m25.5-157.5h3m-1.5-1.5v3m-28.5-64.5h3m-1.5-1.5v3m67.5-313.5h3m-1.5-1.5v3m-22.5 196.5h3m-1.5-1.5v3m-10.5 10.5h3m-1.5-1.5v3m-4.5-28.5h3m-1.5-1.5v3m-43.5-4.5h3m-1.5-1.5v3m-106.5 166.5h3m-1.5-1.5v3m7.5 46.5h3m-1.5-1.5v3m-58.5 49.5h3m-1.5-1.5v3m-19.5-49.5h3m-1.5-1.5v3m-16.5 97.5h3m-1.5-1.5v3m7.5 157.5h3m-1.5-1.5v3m-58.5-40.5h3m-1.5-1.5v3m25.5-49.5h3m-1.5-1.5v3m-40.5 16.5h3m-1.5-1.5v3m76.5-61.5h3m-1.5-1.5v3m25.5-16.5h3m-1.5-1.5v3m52.5-244.5h3m-1.5-1.5v3m-37.5-151.5h3m-1.5-1.5v3m34.5 160.5h3m-1.5-1.5v3m-13.5 91.5h3m-1.5-1.5v3m13.5-46.5h3m-1.5-1.5v3m13.5-112.5h3m-1.5-1.5v3m19.5 88.5h3m-1.5-1.5v3m-28.5-58.5h3m-1.5-1.5v3m91.5-151.5h3m-1.5-1.5v3m76.5-52.5h3m-1.5-1.5v3m40.5 46.5h3m-1.5-1.5v3m-28.5 124.5h3m-1.5-1.5v3m13.5-145.5h3m-1.5-1.5v3m-91.5-100.5h3m-1.5-1.5v3m7.5 10.5h3m-1.5-1.5v3m85.5-1.5h3m-1.5-1.5v3m-1.5 121.5h3m-1.5-1.5v3m7.5-55.5h3m-1.5-1.5v3m-43.5 118.5h3m-1.5-1.5v3m-37.5-67.5h3m-1.5-1.5v3m-49.5 178.5h3m-1.5-1.5v3m-67.5-37.5h3m-1.5-1.5v3m-16.5-25.5h3m-1.5-1.5v3m52.5 4.5h3m-1.5-1.5v3m-46.5 181.5h3m-1.5-1.5v3m25.5 28.5h3m-1.5-1.5v3m-10.5 91.5h3m-1.5-1.5v3m34.5-112.5h3m-1.5-1.5v3m-49.5 73.5h3m-1.5-1.5v3m-37.5 19.5h3m-1.5-1.5v3m157.5-73.5h3m-1.5-1.5v3m-4.5-136.5h3m-1.5-1.5v3m76.5-133.5h3m-1.5-1.5v3m55.5 13.5h3m-1.5-1.5v3m-109.5-16.5h3m-1.5-1.5v3m-16.5 121.5h3m-1.5-1.5v3m-136.5 217.5h3m-1.5-1.5v3m25.5-118.5h3m-1.5-1.5v3m25.5-7.5h3m-1.5-1.5v3m7.5-52.5h3m-1.5-1.5v3m28.5-232.5h3m-1.5-1.5v3m37.5-76.5h3m-1.5-1.5v3m49.5 88.5h3m-1.5-1.5v3m16.5 130.5h3m-1.5-1.5v3m-22.5 172.5h3m-1.5-1.5v3m16.5-115.5h3m-1.5-1.5v3m-181.5 169.5h3m-1.5-1.5v3m-28.5-13.5h3m-1.5-1.5v3m-85.5 73.5h3m-1.5-1.5v3m37.5-58.5h3m-1.5-1.5v3m16.5 43.5h3m-1.5-1.5v3m109.5-73.5h3m-1.5-1.5v3m-79.5 25.5h3m-1.5-1.5v3m136.5-271.5h3m-1.5-1.5v3m-118.5 139.5h3m-1.5-1.5v3m103.5 4.5h3m-1.5-1.5v3m61.5 52.5h3m-1.5-1.5v3m4.5-112.5h3m-1.5-1.5v3m-58.5 109.5h3m-1.5-1.5v3m-1.5-94.5h3m-1.5-1.5v3m-4.5 49.5h3m-1.5-1.5v3m-37.5 76.5h3m-1.5-1.5v3m13.5-118.5h3m-1.5-1.5v3m4.5-76.5h3m-1.5-1.5v3m-40.5-172.5h3m-1.5-1.5v3m7.5 4.5h3m-1.5-1.5v3m-43.5 172.5h3m-1.5-1.5v3m-10.5 73.5h3m-1.5-1.5v3m4.5-67.5h3m-1.5-1.5v3m-1.5 28.5h3m-1.5-1.5v3m82.5-40.5h3m-1.5-1.5v3m79.5 109.5h3m-1.5-1.5v3m7.5-202.5h3m-1.5-1.5v3m-1.5 172.5h3m-1.5-1.5v3m-1.5-97.5h3m-1.5-1.5v3m-16.5 46.5h3m-1.5-1.5v3m-7.5-133.5h3m-1.5-1.5v3m-19.5 10.5h3m-1.5-1.5v3m-10.5 61.5h3m-1.5-1.5v3m-106.5-10.5h3m-1.5-1.5v3m-46.5 82.5h3m-1.5-1.5v3m76.5 40.5h3m-1.5-1.5v3m-31.5 43.5h3m-1.5-1.5v3m-70.5 10.5h3m-1.5-1.5v3m13.5 49.5h3m-1.5-1.5v3m-52.5-166.5h3m-1.5-1.5v3m37.5-172.5h3m-1.5-1.5v3m37.5-46.5h3m-1.5-1.5v3m-13.5-22.5h3m-1.5-1.5v3m61.5 34.5h3m-1.5-1.5v3m-7.5 202.5h3m-1.5-1.5v3m13.5-55.5h3m-1.5-1.5v3m-13.5 55.5h3m-1.5-1.5v3m-67.5-19.5h3m-1.5-1.5v3m22.5-94.5h3m-1.5-1.5v3m-16.5 7.5h3m-1.5-1.5v3m-22.5 178.5h3m-1.5-1.5v3m-31.5-142.5h3m-1.5-1.5v3m61.5-19.5h3m-1.5-1.5v3m-43.5 154.5h3m-1.5-1.5v3m-13.5 22.5h3m-1.5-1.5v3m7.5-124.5h3m-1.5-1.5v3m-52.5 76.5h3m-1.5-1.5v3m73.5-55.5h3m-1.5-1.5v3m-19.5 13.5h3m-1.5-1.5v3m-22.5-94.5h3m-1.5-1.5v3m25.5-100.5h3m-1.5-1.5v3m79.5-52.5h3m-1.5-1.5v3m1.5-1.5h3m-1.5-1.5v3m55.5 178.5h3m-1.5-1.5v3m-58.5-76.5h3m-1.5-1.5v3m-46.5-13.5h3m-1.5-1.5v3m-76.5 79.5h3m-1.5-1.5v3m-19.5-19.5h3m-1.5-1.5v3m46.5 10.5h3m-1.5-1.5v3m-22.5 112.5h3m-1.5-1.5v3m76.5-184.5h3m-1.5-1.5v3m-94.5 22.5h3m-1.5-1.5v3m-25.5-37.5h3m-1.5-1.5v3m-7.5 91.5h3m-1.5-1.5v3m-28.5 64.5h3m-1.5-1.5v3m37.5 205.5h3m-1.5-1.5v3m-10.5-211.5h3m-1.5-1.5v3m133.5 73.5h3m-1.5-1.5v3m-19.5-43.5h3m-1.5-1.5v3m-1.5 19.5h3m-1.5-1.5v3m43.5-70.5h3m-1.5-1.5v3m-58.5 1.5h3m-1.5-1.5v3m43.5-196.5h3m-1.5-1.5v3m-49.5-79.5h3m-1.5-1.5v3m-10.5-31.5h3m-1.5-1.5v3m4.5 280.5h3m-1.5-1.5v3m52.5-205.5h3m-1.5-1.5v3m-154.5 181.5h3m-1.5-1.5v3m70.5-25.5h3m-1.5-1.5v3m-52.5 10.5h3m-1.5-1.5v3m136.5-49.5h3m-1.5-1.5v3m-88.5-13.5h3m-1.5-1.5v3m46.5 34.5h3m-1.5-1.5v3m-79.5 88.5h3m-1.5-1.5v3m-1.5-43.5h3m-1.5-1.5v3m16.5-103.5h3m-1.5-1.5v3m67.5 4.5h3m-1.5-1.5v3m103.5 49.5h3m-1.5-1.5v3m-16.5-76.5h3m-1.5-1.5v3m-58.5-88.5h3m-1.5-1.5v3m-67.5 82.5h3m-1.5-1.5v3m4.5 175.5h3m-1.5-1.5v3m55.5-67.5h3m-1.5-1.5v3m-4.5-22.5h3m-1.5-1.5v3m-79.5 145.5h3m-1.5-1.5v3m-67.5-70.5h3m-1.5-1.5v3m49.5 160.5h3m-1.5-1.5v3m31.5-148.5h3m-1.5-1.5v3m16.5-58.5h3m-1.5-1.5v3m-25.5-58.5h3m-1.5-1.5v3m-40.5 148.5h3m-1.5-1.5v3m79.5-115.5h3m-1.5-1.5v3m7.5 67.5h3m-1.5-1.5v3m-25.5 10.5h3m-1.5-1.5v3m28.5-136.5h3m-1.5-1.5v3m-46.5 121.5h3m-1.5-1.5v3m-163.5-40.5h3m-1.5-1.5v3m-28.5-37.5h3m-1.5-1.5v3m55.5-10.5h3m-1.5-1.5v3m-76.5 1.5h3m-1.5-1.5v3m7.5-97.5h3m-1.5-1.5v3m28.5-22.5h3m-1.5-1.5v3m100.5-76.5h3m-1.5-1.5v3m-7.5-61.5h3m-1.5-1.5v3m1.5 1.5h3m-1.5-1.5v3m-40.5 145.5h3m-1.5-1.5v3m85.5-127.5h3m-1.5-1.5v3m-76.5 79.5h3m-1.5-1.5v3m73.5-7.5h3m-1.5-1.5v3m-16.5 118.5h3m-1.5-1.5v3m-40.5 112.5h3m-1.5-1.5v3m-70.5-58.5h3m-1.5-1.5v3m133.5 136.5h3m-1.5-1.5v3m37.5-43.5h3m-1.5-1.5v3m-76.5-94.5h3m-1.5-1.5v3m34.5-157.5h3m-1.5-1.5v3m16.5 79.5h3m-1.5-1.5v3m-10.5 25.5h3m-1.5-1.5v3m58.5-10.5h3m-1.5-1.5v3m-43.5-40.5h3m-1.5-1.5v3m-37.5-103.5h3m-1.5-1.5v3m-7.5 190.5h3m-1.5-1.5v3m-25.5-43.5h3m-1.5-1.5v3m34.5 85.5h3m-1.5-1.5v3m46.5-4.5h3m-1.5-1.5v3m-16.5-31.5h3m-1.5-1.5v3m-13.5-28.5h3m-1.5-1.5v3m1.5-52.5h3m-1.5-1.5v3m49.5-106.5h3m-1.5-1.5v3m40.5 100.5h3m-1.5-1.5v3m37.5 46.5h3m-1.5-1.5v3m-22.5-100.5h3m-1.5-1.5v3m-67.5 166.5h3m-1.5-1.5v3m70.5 70.5h3m-1.5-1.5v3m-31.5 109.5h3m-1.5-1.5v3m61.5-157.5h3m-1.5-1.5v3m-19.5-166.5h3m-1.5-1.5v3m-28.5-4.5h3m-1.5-1.5v3m-58.5-16.5h3m-1.5-1.5v3m-37.5 52.5h3m-1.5-1.5v3m76.5-238.5h3m-1.5-1.5v3m-49.5 247.5h3m-1.5-1.5v3m-7.5-76.5h3m-1.5-1.5v3m-109.5-28.5h3m-1.5-1.5v3m79.5 79.5h3m-1.5-1.5v3m-64.5-49.5h3m-1.5-1.5v3m13.5 61.5h3m-1.5-1.5v3m79.5-247.5h3m-1.5-1.5v3m76.5-16.5h3m-1.5-1.5v3m-115.5 361.5h3m-1.5-1.5v3m-19.5-70.5h3m-1.5-1.5v3m-82.5-40.5h3m-1.5-1.5v3m34.5-136.5h3m-1.5-1.5v3m82.5 46.5h3m-1.5-1.5v3m-49.5 133.5h3m-1.5-1.5v3m-25.5 85.5h3m-1.5-1.5v3m-40.5 40.5h3m-1.5-1.5v3m-28.5 16.5h3m-1.5-1.5v3m-7.5 58.5h3m-1.5-1.5v3m-25.5 7.5h3m-1.5-1.5v3m139.5-142.5h3m-1.5-1.5v3m73.5 16.5h3m-1.5-1.5v3m-13.5-148.5h3m-1.5-1.5v3m-22.5-148.5h3m-1.5-1.5v3m-85.5 151.5h3m-1.5-1.5v3m91.5 169.5h3m-1.5-1.5v3m43.5-226.5h3m-1.5-1.5v3m-4.5 190.5h3m-1.5-1.5v3m-25.5-16.5h3m-1.5-1.5v3m-58.5-28.5h3m-1.5-1.5v3m-31.5-175.5h3m-1.5-1.5v3m-1.5 58.5h3m-1.5-1.5v3m61.5 52.5h3m-1.5-1.5v3m-25.5 70.5h3m-1.5-1.5v3m-31.5-79.5h3m-1.5-1.5v3m4.5-13.5h3m-1.5-1.5v3m7.5-64.5h3m-1.5-1.5v3m-73.5-13.5h3m-1.5-1.5v3m-25.5 175.5h3m-1.5-1.5v3m-1.5-211.5h3m-1.5-1.5v3m100.5-184.5h3m-1.5-1.5v3m-16.5 34.5h3m-1.5-1.5v3m-28.5 1.5h3m-1.5-1.5v3m73.5-133.5h3m-1.5-1.5v3m-142.5 322.5h3m-1.5-1.5v3m-4.5 112.5h3m-1.5-1.5v3m28.5 121.5h3m-1.5-1.5v3m19.5-40.5h3m-1.5-1.5v3m40.5-64.5h3m-1.5-1.5v3m1.5 184.5h3m-1.5-1.5v3m40.5-106.5h3m-1.5-1.5v3m-58.5 106.5h3m-1.5-1.5v3m25.5 55.5h3m-1.5-1.5v3m55.5-97.5h3m-1.5-1.5v3m-178.5-28.5h3m-1.5-1.5v3m40.5-118.5h3m-1.5-1.5v3m-7.5 220.5h3m-1.5-1.5v3m-55.5-49.5h3m-1.5-1.5v3m91.5-172.5h3m-1.5-1.5v3m10.5-13.5h3m-1.5-1.5v3m34.5-82.5h3m-1.5-1.5v3m-37.5 40.5h3m-1.5-1.5v3m31.5-154.5h3m-1.5-1.5v3m-55.5-34.5h3m-1.5-1.5v3m40.5-79.5h3m-1.5-1.5v3m40.5 166.5h3m-1.5-1.5v3m40.5 97.5h3m-1.5-1.5v3m64.5-61.5h3m-1.5-1.5v3m-70.5 196.5h3m-1.5-1.5v3m-46.5 115.5h3m-1.5-1.5v3m-115.5 91.5h3m-1.5-1.5v3m-10.5-1.5h3m-1.5-1.5v3m-67.5-22.5h3m-1.5-1.5v3m4.5-88.5h3m-1.5-1.5v3m31.5-10.5h3m-1.5-1.5v3m139.5-163.5h3m-1.5-1.5v3m52.5-79.5h3m-1.5-1.5v3m-55.5 64.5h3m-1.5-1.5v3m19.5 46.5h3m-1.5-1.5v3m31.5-187.5h3m-1.5-1.5v3m-19.5 130.5h3m-1.5-1.5v3m4.5 73.5h3m-1.5-1.5v3m34.5-175.5h3m-1.5-1.5v3m-61.5 85.5h3m-1.5-1.5v3m-142.5 37.5h3m-1.5-1.5v3m-46.5 55.5h3m-1.5-1.5v3m43.5 82.5h3m-1.5-1.5v3m49.5-43.5h3m-1.5-1.5v3m-10.5-292.5h3m-1.5-1.5v3m-91.5 109.5h3m-1.5-1.5v3m58.5-7.5h3m-1.5-1.5v3m7.5 58.5h3m-1.5-1.5v3m1.5-154.5h3m-1.5-1.5v3m130.5-124.5h3m-1.5-1.5v3m-124.5 310.5h3m-1.5-1.5v3m16.5-256.5h3m-1.5-1.5v3m61.5-34.5h3m-1.5-1.5v3m-70.5 1.5h3m-1.5-1.5v3m-37.5 88.5h3m-1.5-1.5v3m-64.5 100.5h3m-1.5-1.5v3m43.5-70.5h3m-1.5-1.5v3m67.5-166.5h3m-1.5-1.5v3m-58.5 31.5h3m-1.5-1.5v3m10.5 100.5h3m-1.5-1.5v3m7.5 58.5h3m-1.5-1.5v3m-7.5 88.5h3m-1.5-1.5v3m28.5 67.5h3m-1.5-1.5v3m-31.5-106.5h3m-1.5-1.5v3m-34.5 94.5h3m-1.5-1.5v3m73.5-115.5h3m-1.5-1.5v3m7.5 76.5h3m-1.5-1.5v3m88.5-118.5h3m-1.5-1.5v3m-55.5-22.5h3m-1.5-1.5v3m13.5 184.5h3m-1.5-1.5v3m7.5-163.5h3m-1.5-1.5v3m-103.5 112.5h3m-1.5-1.5v3m94.5-127.5h3m-1.5-1.5v3m-73.5 142.5h3m-1.5-1.5v3m-31.5 106.5h3m-1.5-1.5v3m25.5-37.5h3m-1.5-1.5v3m-4.5-82.5h3m-1.5-1.5v3m10.5-76.5h3m-1.5-1.5v3m-31.5 142.5h3m-1.5-1.5v3m55.5-193.5h3m-1.5-1.5v3m-37.5 52.5h3m-1.5-1.5v3m67.5-13.5h3m-1.5-1.5v3m-46.5 127.5h3m-1.5-1.5v3m43.5-160.5h3m-1.5-1.5v3m-55.5 4.5h3m-1.5-1.5v3m-31.5-115.5h3m-1.5-1.5v3m67.5 22.5h3m-1.5-1.5v3m-37.5-52.5h3m-1.5-1.5v3m67.5 106.5h3m-1.5-1.5v3m-40.5-58.5h3m-1.5-1.5v3m-58.5-43.5h3m-1.5-1.5v3m-70.5 139.5h3m-1.5-1.5v3m-4.5 79.5h3m-1.5-1.5v3m217.5-73.5h3m-1.5-1.5v3m-112.5 169.5h3m-1.5-1.5v3m-28.5-157.5h3m-1.5-1.5v3m-16.5-226.5h3m-1.5-1.5v3m88.5-61.5h3m-1.5-1.5v3m-31.5 139.5h3m-1.5-1.5v3m37.5 79.5h3m-1.5-1.5v3m-49.5 85.5h3m-1.5-1.5v3m-16.5 91.5h3m-1.5-1.5v3m37.5-151.5h3m-1.5-1.5v3m40.5-28.5h3m-1.5-1.5v3m40.5-46.5h3m-1.5-1.5v3m-130.5-88.5h3m-1.5-1.5v3m70.5-64.5h3m-1.5-1.5v3m-13.5 148.5h3m-1.5-1.5v3m-175.5 112.5h3m-1.5-1.5v3m52.5-109.5h3m-1.5-1.5v3m-64.5 196.5h3m-1.5-1.5v3m4.5 37.5h3m-1.5-1.5v3m-46.5-46.5h3m-1.5-1.5v3m-16.5-61.5h3m-1.5-1.5v3m13.5-34.5h3m-1.5-1.5v3m106.5-22.5h3m-1.5-1.5v3m64.5 76.5h3m-1.5-1.5v3m55.5-154.5h3m-1.5-1.5v3m-31.5 79.5h3m-1.5-1.5v3m-79.5 166.5h3m-1.5-1.5v3m-43.5-79.5h3m-1.5-1.5v3m106.5-298.5h3m-1.5-1.5v3m-100.5 190.5h3m-1.5-1.5v3m-61.5-61.5h3m-1.5-1.5v3m97.5 25.5h3m-1.5-1.5v3m-19.5 328.5h3m-1.5-1.5v3m-16.5 22.5h3m-1.5-1.5v3m25.5-70.5h3m-1.5-1.5v3m70.5-139.5h3m-1.5-1.5v3m106.5-217.5h3m-1.5-1.5v3m-91.5 46.5h3m-1.5-1.5v3m-22.5-112.5h3m-1.5-1.5v3m-19.5 331.5h3m-1.5-1.5v3m85.5-10.5h3m-1.5-1.5v3m-70.5 46.5h3m-1.5-1.5v3m-61.5 58.5h3m-1.5-1.5v3m13.5-319.5h3m-1.5-1.5v3m1.5 22.5h3m-1.5-1.5v3m76.5-217.5h3m-1.5-1.5v3m-49.5 40.5h3m-1.5-1.5v3m-76.5 178.5h3m-1.5-1.5v3m-52.5 64.5h3m-1.5-1.5v3m154.5 16.5h3m-1.5-1.5v3m-7.5 4.5h3m-1.5-1.5v3m28.5-46.5h3m-1.5-1.5v3m-7.5 40.5h3m-1.5-1.5v3m16.5-16.5h3m-1.5-1.5v3m-46.5 34.5h3m-1.5-1.5v3m31.5-193.5h3m-1.5-1.5v3m58.5 181.5h3m-1.5-1.5v3m46.5-61.5h3m-1.5-1.5v3m7.5-175.5h3m-1.5-1.5v3m34.5-124.5h3m-1.5-1.5v3m-133.5 25.5h3m-1.5-1.5v3m34.5-1.5h3m-1.5-1.5v3m37.5-28.5h3m-1.5-1.5v3m-61.5 139.5h3m-1.5-1.5v3m-157.5 19.5h3m-1.5-1.5v3m85.5-151.5h3m-1.5-1.5v3m-61.5 412.5h3m-1.5-1.5v3m-43.5-55.5h3m-1.5-1.5v3m160.5-31.5h3m-1.5-1.5v3m-34.5-172.5h3m-1.5-1.5v3m7.5 46.5h3m-1.5-1.5v3m-49.5 61.5h3m-1.5-1.5v3m-28.5 22.5h3m-1.5-1.5v3m22.5-67.5h3m-1.5-1.5v3m1.5 31.5h3m-1.5-1.5v3m19.5 64.5h3m-1.5-1.5v3m-49.5 100.5h3m-1.5-1.5v3m61.5 34.5h3m-1.5-1.5v3m-7.5-142.5h3m-1.5-1.5v3m-46.5-142.5h3m-1.5-1.5v3m1.5 133.5h3m-1.5-1.5v3m-70.5 13.5h3m-1.5-1.5v3m88.5 22.5h3m-1.5-1.5v3m-7.5 1.5h3m-1.5-1.5v3m-31.5-85.5h3m-1.5-1.5v3m148.5-232.5h3m-1.5-1.5v3m-10.5-58.5h3m-1.5-1.5v3m70.5-70.5h3m-1.5-1.5v3m-73.5 22.5h3m-1.5-1.5v3m-19.5 250.5h3m-1.5-1.5v3m-61.5 94.5h3m-1.5-1.5v3m85.5-91.5h3m-1.5-1.5v3m-112.5 187.5h3m-1.5-1.5v3m-40.5-232.5h3m-1.5-1.5v3m103.5-34.5h3m-1.5-1.5v3m-31.5 34.5h3m-1.5-1.5v3m-76.5-73.5h3m-1.5-1.5v3m4.5-19.5h3m-1.5-1.5v3m22.5 67.5h3m-1.5-1.5v3m-22.5 34.5h3m-1.5-1.5v3m61.5-130.5h3m-1.5-1.5v3m19.5 142.5h3m-1.5-1.5v3m64.5-37.5h3m-1.5-1.5v3m43.5 94.5h3m-1.5-1.5v3m-94.5 7.5h3m-1.5-1.5v3m55.5-40.5h3m-1.5-1.5v3m-85.5 136.5h3m-1.5-1.5v3m64.5-163.5h3m-1.5-1.5v3m-58.5 73.5h3m-1.5-1.5v3m34.5 88.5h3m-1.5-1.5v3m-7.5-112.5h3m-1.5-1.5v3m-28.5-34.5h3m-1.5-1.5v3m-1.5-118.5h3m-1.5-1.5v3m-1.5 190.5h3m-1.5-1.5v3m-31.5 328.5h3m-1.5-1.5v3m16.5-157.5h3m-1.5-1.5v3m19.5-172.5h3m-1.5-1.5v3m-31.5-232.5h3m-1.5-1.5v3m7.5 124.5h3m-1.5-1.5v3m40.5-133.5h3m-1.5-1.5v3m10.5-70.5h3m-1.5-1.5v3m-100.5 229.5h3m-1.5-1.5v3m4.5 118.5h3m-1.5-1.5v3m100.5-250.5h3m-1.5-1.5v3m-22.5 67.5h3m-1.5-1.5v3m-64.5-34.5h3m-1.5-1.5v3m-43.5 193.5h3m-1.5-1.5v3m-103.5-7.5h3m-1.5-1.5v3m49.5 94.5h3m-1.5-1.5v3m10.5 85.5h3m-1.5-1.5v3m139.5-58.5h3m-1.5-1.5v3m-7.5-34.5h3m-1.5-1.5v3m-10.5-58.5h3m-1.5-1.5v3m52.5-127.5h3m-1.5-1.5v3m-22.5-67.5h3m-1.5-1.5v3m-139.5 22.5h3m-1.5-1.5v3m49.5 169.5h3m-1.5-1.5v3m-88.5 103.5h3m-1.5-1.5v3m-79.5 25.5h3m-1.5-1.5v3m-1.5 100.5h3m-1.5-1.5v3m79.5-208.5h3m-1.5-1.5v3m-49.5 118.5h3m-1.5-1.5v3m25.5 97.5h3m-1.5-1.5v3m7.5 67.5h3m-1.5-1.5v3m46.5-31.5h3m-1.5-1.5v3m-28.5-169.5h3m-1.5-1.5v3m-7.5 55.5h3m-1.5-1.5v3m-7.5-109.5h3m-1.5-1.5v3m40.5-184.5h3m-1.5-1.5v3m-70.5 31.5h3m-1.5-1.5v3m-40.5 112.5h3m-1.5-1.5v3m145.5-73.5h3m-1.5-1.5v3m28.5-136.5h3m-1.5-1.5v3m37.5-55.5h3m-1.5-1.5v3m-22.5-106.5h3m-1.5-1.5v3m127.5-40.5h3m-1.5-1.5v3m-28.5 31.5h3m-1.5-1.5v3m-64.5 109.5h3m-1.5-1.5v3m16.5 22.5h3m-1.5-1.5v3m-106.5 55.5h3m-1.5-1.5v3m-58.5 25.5h3m-1.5-1.5v3m46.5-97.5h3m-1.5-1.5v3m-46.5 49.5h3m-1.5-1.5v3m67.5 7.5h3m-1.5-1.5v3m-61.5 169.5h3m-1.5-1.5v3m25.5-64.5h3m-1.5-1.5v3m112.5-82.5h3m-1.5-1.5v3m-49.5-229.5h3m-1.5-1.5v3m-40.5 43.5h3m-1.5-1.5v3m58.5-40.5h3m-1.5-1.5v3m-16.5 22.5h3m-1.5-1.5v3m22.5 46.5h3m-1.5-1.5v3m-112.5-16.5h3m-1.5-1.5v3m-40.5 43.5h3m-1.5-1.5v3m10.5 178.5h3m-1.5-1.5v3m-55.5 118.5h3m-1.5-1.5v3m-37.5 19.5h3m-1.5-1.5v3m-25.5-79.5h3m-1.5-1.5v3m-22.5-67.5h3m-1.5-1.5v3m-34.5 139.5h3m-1.5-1.5v3m52.5-319.5h3m-1.5-1.5v3m130.5 34.5h3m-1.5-1.5v3m37.5-40.5h3m-1.5-1.5v3m25.5 214.5h3m-1.5-1.5v3m-4.5 88.5h3m-1.5-1.5v3m-136.5-130.5h3m-1.5-1.5v3m49.5-115.5h3m-1.5-1.5v3m181.5-238.5h3m-1.5-1.5v3m-13.5 172.5h3m-1.5-1.5v3m-1.5 232.5h3m-1.5-1.5v3m-181.5-91.5h3m-1.5-1.5v3m-10.5 37.5h3m-1.5-1.5v3m46.5-136.5h3m-1.5-1.5v3m4.5 43.5h3m-1.5-1.5v3m-22.5 133.5h3m-1.5-1.5v3m-58.5 172.5h3m-1.5-1.5v3m10.5-85.5h3m-1.5-1.5v3m-25.5-19.5h3m-1.5-1.5v3m73.5-112.5h3m-1.5-1.5v3m28.5-82.5h3m-1.5-1.5v3m-34.5 52.5h3m-1.5-1.5v3m-73.5 25.5h3m-1.5-1.5v3m10.5-67.5h3m-1.5-1.5v3m-31.5 292.5h3m-1.5-1.5v3m10.5 100.5h3m-1.5-1.5v3m4.5 91.5h3m-1.5-1.5v3m25.5-7.5h3m-1.5-1.5v3m-25.5-148.5h3m-1.5-1.5v3m28.5 7.5h3m-1.5-1.5v3m94.5 70.5h3m-1.5-1.5v3m19.5-79.5h3m-1.5-1.5v3m-91.5 64.5h3m-1.5-1.5v3m67.5-133.5h3m-1.5-1.5v3m67.5-223.5h3m-1.5-1.5v3m-19.5 67.5h3m-1.5-1.5v3m-118.5-58.5h3m-1.5-1.5v3m4.5-46.5h3m-1.5-1.5v3m-13.5 136.5h3m-1.5-1.5v3m67.5-208.5h3m-1.5-1.5v3m-109.5 250.5h3m-1.5-1.5v3m-40.5-40.5h3m-1.5-1.5v3m16.5-58.5h3m-1.5-1.5v3m100.5-124.5h3m-1.5-1.5v3m-52.5-73.5h3m-1.5-1.5v3m-106.5 274.5h3m-1.5-1.5v3m61.5 127.5h3m-1.5-1.5v3m-10.5 10.5h3m-1.5-1.5v3m40.5-109.5h3m-1.5-1.5v3m-13.5-115.5h3m-1.5-1.5v3m-52.5 25.5h3m-1.5-1.5v3m31.5-157.5h3m-1.5-1.5v3m106.5 7.5h3m-1.5-1.5v3m-4.5 7.5h3m-1.5-1.5v3m-10.5-46.5h3m-1.5-1.5v3m16.5-79.5h3m-1.5-1.5v3m-76.5-1.5h3m-1.5-1.5v3m58.5-49.5h3m-1.5-1.5v3m1.5 10.5h3m-1.5-1.5v3m-13.5 196.5h3m-1.5-1.5v3m55.5 46.5h3m-1.5-1.5v3m-76.5-109.5h3m-1.5-1.5v3m49.5-4.5h3m-1.5-1.5v3m-16.5 142.5h3m-1.5-1.5v3m-22.5-139.5h3m-1.5-1.5v3m-37.5 61.5h3m-1.5-1.5v3m121.5 55.5h3m-1.5-1.5v3m1.5 4.5h3m-1.5-1.5v3m4.5-103.5h3m-1.5-1.5v3m-82.5-10.5h3m-1.5-1.5v3m-55.5-55.5h3m-1.5-1.5v3m-7.5 154.5h3m-1.5-1.5v3m46.5 61.5h3m-1.5-1.5v3m13.5 76.5h3m-1.5-1.5v3m58.5-262.5h3m-1.5-1.5v3m13.5-64.5h3m-1.5-1.5v3m-43.5-7.5h3m-1.5-1.5v3m-106.5 232.5h3m-1.5-1.5v3m76.5-103.5h3m-1.5-1.5v3m-10.5 100.5h3m-1.5-1.5v3m-67.5-22.5h3m-1.5-1.5v3m139.5-301.5h3m-1.5-1.5v3m-4.5 64.5h3m-1.5-1.5v3m-40.5-142.5h3m-1.5-1.5v3m-70.5 343.5h3m-1.5-1.5v3m16.5-55.5h3m-1.5-1.5v3m-37.5 199.5h3m-1.5-1.5v3m19.5 40.5h3m-1.5-1.5v3m10.5-160.5h3m-1.5-1.5v3m79.5-43.5h3m-1.5-1.5v3m-112.5 19.5h3m-1.5-1.5v3m-25.5 19.5h3m-1.5-1.5v3m-1.5 55.5h3m-1.5-1.5v3m-52.5-37.5h3m-1.5-1.5v3m46.5-163.5h3m-1.5-1.5v3m88.5 25.5h3m-1.5-1.5v3m-121.5 154.5h3m-1.5-1.5v3m79.5 64.5h3m-1.5-1.5v3m-19.5-13.5h3m-1.5-1.5v3m1.5-178.5h3m-1.5-1.5v3m-37.5 145.5h3m-1.5-1.5v3m37.5-103.5h3m-1.5-1.5v3m-7.5 16.5h3m-1.5-1.5v3m46.5-112.5h3m-1.5-1.5v3m-19.5 127.5h3m-1.5-1.5v3m82.5 49.5h3m-1.5-1.5v3m-94.5-229.5h3m-1.5-1.5v3m-79.5 142.5h3m-1.5-1.5v3m100.5 109.5h3m-1.5-1.5v3m10.5 34.5h3m-1.5-1.5v3m19.5-34.5h3m-1.5-1.5v3m-73.5 79.5h3m-1.5-1.5v3m10.5-190.5h3m-1.5-1.5v3m109.5-151.5h3m-1.5-1.5v3m-1.5 61.5h3m-1.5-1.5v3m37.5 142.5h3m-1.5-1.5v3m-76.5-82.5h3m-1.5-1.5v3m-37.5 49.5h3m-1.5-1.5v3m-22.5-43.5h3m-1.5-1.5v3m-34.5 13.5h3m-1.5-1.5v3m37.5-40.5h3m-1.5-1.5v3m-4.5 40.5h3m-1.5-1.5v3m-52.5-1.5h3m-1.5-1.5v3m-34.5 10.5h3m-1.5-1.5v3m-22.5-22.5h3m-1.5-1.5v3m55.5-52.5h3m-1.5-1.5v3m-76.5 28.5h3m-1.5-1.5v3m163.5 106.5h3m-1.5-1.5v3m73.5-130.5h3m-1.5-1.5v3m-127.5 49.5h3m-1.5-1.5v3m28.5-19.5h3m-1.5-1.5v3m-13.5-31.5h3m-1.5-1.5v3m-85.5-64.5h3m-1.5-1.5v3m-61.5 190.5h3m-1.5-1.5v3m16.5 79.5h3m-1.5-1.5v3m160.5-151.5h3m-1.5-1.5v3m4.5-1.5h3m-1.5-1.5v3m-70.5 55.5h3m-1.5-1.5v3m13.5-28.5h3m-1.5-1.5v3m97.5 40.5h3m-1.5-1.5v3m-151.5 250.5h3m-1.5-1.5v3m100.5-298.5h3m-1.5-1.5v3m-58.5-61.5h3m-1.5-1.5v3m25.5-148.5h3m-1.5-1.5v3m46.5 94.5h3m-1.5-1.5v3m7.5 94.5h3m-1.5-1.5v3m-52.5 103.5h3m-1.5-1.5v3m-52.5 4.5h3m-1.5-1.5v3m88.5-148.5h3m-1.5-1.5v3m-52.5-91.5h3m-1.5-1.5v3m4.5 127.5h3m-1.5-1.5v3m-115.5 163.5h3m-1.5-1.5v3m-7.5-82.5h3m-1.5-1.5v3m-37.5 67.5h3m-1.5-1.5v3m118.5-52.5h3m-1.5-1.5v3m-70.5 7.5h3m-1.5-1.5v3m43.5-256.5h3m-1.5-1.5v3m67.5 73.5h3m-1.5-1.5v3m-82.5-130.5h3m-1.5-1.5v3m-40.5 169.5h3m-1.5-1.5v3m-28.5 4.5h3m-1.5-1.5v3m7.5 49.5h3m-1.5-1.5v3m-64.5 4.5h3m-1.5-1.5v3m34.5-127.5h3m-1.5-1.5v3m43.5 1.5h3m-1.5-1.5v3m181.5-88.5h3m-1.5-1.5v3m-103.5-70.5h3m-1.5-1.5v3m34.5 28.5h3m-1.5-1.5v3m-94.5 319.5h3m-1.5-1.5v3m-19.5-154.5h3m-1.5-1.5v3m4.5 46.5h3m-1.5-1.5v3m88.5 34.5h3m-1.5-1.5v3m46.5-52.5h3m-1.5-1.5v3m-22.5 115.5h3m-1.5-1.5v3m-40.5 28.5h3m-1.5-1.5v3m37.5-118.5h3m-1.5-1.5v3m-100.5 100.5h3m-1.5-1.5v3m-16.5 52.5h3m-1.5-1.5v3m-28.5-82.5h3m-1.5-1.5v3m100.5-151.5h3m-1.5-1.5v3m22.5 22.5h3m-1.5-1.5v3m31.5 100.5h3m-1.5-1.5v3m-73.5 25.5h3m-1.5-1.5v3m-67.5-106.5h3m-1.5-1.5v3m-58.5-196.5h3m-1.5-1.5v3m4.5-118.5h3m-1.5-1.5v3m46.5-43.5h3m-1.5-1.5v3m4.5 58.5h3m-1.5-1.5v3m-82.5 181.5h3m-1.5-1.5v3m25.5-25.5h3m-1.5-1.5v3m76.5-13.5h3m-1.5-1.5v3m37.5 94.5h3m-1.5-1.5v3m13.5 61.5h3m-1.5-1.5v3m-34.5 103.5h3m-1.5-1.5v3m-31.5-322.5h3m-1.5-1.5v3m13.5-139.5h3m-1.5-1.5v3m112.5 85.5h3m-1.5-1.5v3m-67.5 115.5h3m-1.5-1.5v3m28.5-124.5h3m-1.5-1.5v3m10.5 109.5h3m-1.5-1.5v3m61.5-52.5h3m-1.5-1.5v3m4.5 10.5h3m-1.5-1.5v3m-10.5-31.5h3m-1.5-1.5v3m-10.5-196.5h3m-1.5-1.5v3m-31.5 82.5h3m-1.5-1.5v3m-28.5-37.5h3m-1.5-1.5v3m10.5 118.5h3m-1.5-1.5v3m-1.5 7.5h3m-1.5-1.5v3m-190.5 256.5h3m-1.5-1.5v3m34.5-115.5h3m-1.5-1.5v3m4.5 166.5h3m-1.5-1.5v3m46.5-22.5h3m-1.5-1.5v3m52.5-109.5h3m-1.5-1.5v3m-55.5 10.5h3m-1.5-1.5v3m-34.5 91.5h3m-1.5-1.5v3m19.5 49.5h3m-1.5-1.5v3m-25.5 19.5h3m-1.5-1.5v3m-49.5-127.5h3m-1.5-1.5v3m85.5-52.5h3m-1.5-1.5v3m-37.5 49.5h3m-1.5-1.5v3m91.5-337.5h3m-1.5-1.5v3m-19.5 307.5h3m-1.5-1.5v3m103.5-61.5h3m-1.5-1.5v3m-58.5 166.5h3m-1.5-1.5v3m-4.5-79.5h3m-1.5-1.5v3m-37.5 109.5h3m-1.5-1.5v3m28.5-73.5h3m-1.5-1.5v3m28.5-40.5h3m-1.5-1.5v3m64.5-193.5h3m-1.5-1.5v3m-115.5 181.5h3m-1.5-1.5v3m-31.5-85.5h3m-1.5-1.5v3m4.5-1.5h3m-1.5-1.5v3m-7.5-49.5h3m-1.5-1.5v3m7.5 55.5h3m-1.5-1.5v3m88.5-55.5h3m-1.5-1.5v3m-34.5 157.5h3m-1.5-1.5v3m-25.5-28.5h3m-1.5-1.5v3m31.5-7.5h3m-1.5-1.5v3m-55.5-127.5h3m-1.5-1.5v3m-70.5-1.5h3m-1.5-1.5v3m-1.5 169.5h3m-1.5-1.5v3m19.5-34.5h3m-1.5-1.5v3m49.5-31.5h3m-1.5-1.5v3m-91.5-58.5h3m-1.5-1.5v3m109.5-70.5h3m-1.5-1.5v3m-85.5 145.5h3m-1.5-1.5v3m-58.5 64.5h3m-1.5-1.5v3m55.5 25.5h3m-1.5-1.5v3m-13.5-181.5h3m-1.5-1.5v3m190.5-142.5h3m-1.5-1.5v3m-142.5 262.5h3m-1.5-1.5v3m-10.5-46.5h3m-1.5-1.5v3m-4.5 52.5h3m-1.5-1.5v3m-22.5-103.5h3m-1.5-1.5v3m37.5 121.5h3m-1.5-1.5v3m-13.5 10.5h3m-1.5-1.5v3m79.5-160.5h3m-1.5-1.5v3m-40.5-1.5h3m-1.5-1.5v3m-70.5-40.5h3m-1.5-1.5v3m190.5-19.5h3m-1.5-1.5v3m16.5 85.5h3m-1.5-1.5v3m-16.5-112.5h3m-1.5-1.5v3m-25.5 70.5h3m-1.5-1.5v3m28.5-58.5h3m-1.5-1.5v3m-64.5-40.5h3m-1.5-1.5v3m13.5 121.5h3m-1.5-1.5v3m-7.5 13.5h3m-1.5-1.5v3m70.5 1.5h3m-1.5-1.5v3m-10.5-253.5h3m-1.5-1.5v3m-19.5-19.5h3m-1.5-1.5v3m-163.5 157.5h3m-1.5-1.5v3m46.5 235.5h3m-1.5-1.5v3m28.5-178.5h3m-1.5-1.5v3m73.5 16.5h3m-1.5-1.5v3m-22.5 88.5h3m-1.5-1.5v3m-10.5-40.5h3m-1.5-1.5v3m-85.5 265.5h3m-1.5-1.5v3m1.5-115.5h3m-1.5-1.5v3m-10.5-133.5h3m-1.5-1.5v3m-70.5 88.5h3m-1.5-1.5v3m100.5 19.5h3m-1.5-1.5v3m22.5-136.5h3m-1.5-1.5v3m-121.5 40.5h3m-1.5-1.5v3m124.5-88.5h3m-1.5-1.5v3m-73.5 16.5h3m-1.5-1.5v3m-127.5-13.5h3m-1.5-1.5v3m64.5-79.5h3m-1.5-1.5v3m91.5 115.5h3m-1.5-1.5v3m25.5-121.5h3m-1.5-1.5v3m-10.5 76.5h3m-1.5-1.5v3m-91.5-118.5h3m-1.5-1.5v3m-34.5-13.5h3m-1.5-1.5v3m-1.5 139.5h3m-1.5-1.5v3m25.5 46.5h3m-1.5-1.5v3m-10.5 118.5h3m-1.5-1.5v3m16.5-355.5h3m-1.5-1.5v3m52.5-133.5h3m-1.5-1.5v3m16.5-10.5h3m-1.5-1.5v3m-61.5 136.5h3m-1.5-1.5v3m64.5 109.5h3m-1.5-1.5v3m-13.5 34.5h3m-1.5-1.5v3m-142.5 7.5h3m-1.5-1.5v3m142.5-205.5h3m-1.5-1.5v3m-76.5 82.5h3m-1.5-1.5v3m-22.5 76.5h3m-1.5-1.5v3m55.5-97.5h3m-1.5-1.5v3m106.5 82.5h3m-1.5-1.5v3m31.5 49.5h3m-1.5-1.5v3m-58.5-121.5h3m-1.5-1.5v3m19.5 43.5h3m-1.5-1.5v3m-124.5-118.5h3m-1.5-1.5v3m58.5-88.5h3m-1.5-1.5v3m-64.5 181.5h3m-1.5-1.5v3m-25.5-64.5h3m-1.5-1.5v3m10.5 61.5h3m-1.5-1.5v3m-31.5-49.5h3m-1.5-1.5v3m103.5 103.5h3m-1.5-1.5v3m58.5 31.5h3m-1.5-1.5v3m-82.5-202.5h3m-1.5-1.5v3m4.5 106.5h3m-1.5-1.5v3m58.5 43.5h3m-1.5-1.5v3m-115.5-67.5h3m-1.5-1.5v3m61.5-31.5h3m-1.5-1.5v3m4.5-1.5h3m-1.5-1.5v3m-133.5 235.5h3m-1.5-1.5v3m-31.5 100.5h3m-1.5-1.5v3m4.5-25.5h3m-1.5-1.5v3m202.5-172.5h3m-1.5-1.5v3m-142.5-94.5h3m-1.5-1.5v3m1.5-61.5h3m-1.5-1.5v3m73.5-136.5h3m-1.5-1.5v3m13.5 118.5h3m-1.5-1.5v3m-91.5 145.5h3m-1.5-1.5v3m25.5 106.5h3m-1.5-1.5v3m-70.5-7.5h3m-1.5-1.5v3m43.5-43.5h3m-1.5-1.5v3m-61.5-172.5h3m-1.5-1.5v3m34.5-55.5h3m-1.5-1.5v3m52.5 181.5h3m-1.5-1.5v3m-46.5-49.5h3m-1.5-1.5v3m19.5-142.5h3m-1.5-1.5v3m4.5 274.5h3m-1.5-1.5v3m-28.5 172.5h3m-1.5-1.5v3m73.5-10.5h3m-1.5-1.5v3m16.5-103.5h3m-1.5-1.5v3m-1.5-49.5h3m-1.5-1.5v3m-100.5-19.5h3m-1.5-1.5v3m1.5-64.5h3m-1.5-1.5v3m178.5-145.5h3m-1.5-1.5v3m-49.5 175.5h3m-1.5-1.5v3m16.5-190.5h3m-1.5-1.5v3m-64.5-70.5h3m-1.5-1.5v3m19.5-70.5h3m-1.5-1.5v3m16.5 76.5h3m-1.5-1.5v3m-34.5 7.5h3m-1.5-1.5v3m34.5-160.5h3m-1.5-1.5v3m-55.5 112.5h3m-1.5-1.5v3m43.5 217.5h3m-1.5-1.5v3m-46.5 25.5h3m-1.5-1.5v3m-1.5-100.5h3m-1.5-1.5v3m-55.5 4.5h3m-1.5-1.5v3m-7.5 28.5h3m-1.5-1.5v3m-1.5 367.5h3m-1.5-1.5v3m-28.5-64.5h3m-1.5-1.5v3m40.5-28.5h3m-1.5-1.5v3m124.5-91.5h3m-1.5-1.5v3m-55.5-94.5h3m-1.5-1.5v3m13.5-202.5h3m-1.5-1.5v3m1.5 118.5h3m-1.5-1.5v3m46.5-109.5h3m-1.5-1.5v3m-16.5 19.5h3m-1.5-1.5v3m-76.5 436.5h3m-1.5-1.5v3m16.5-64.5h3m-1.5-1.5v3m19.5-67.5h3m-1.5-1.5v3m55.5-238.5h3m-1.5-1.5v3m79.5-58.5h3m-1.5-1.5v3m-142.5 181.5h3m-1.5-1.5v3m-43.5-85.5h3m-1.5-1.5v3m-61.5 106.5h3m-1.5-1.5v3m103.5-226.5h3m-1.5-1.5v3m-7.5 109.5h3m-1.5-1.5v3m16.5 112.5h3m-1.5-1.5v3m-97.5 124.5h3m-1.5-1.5v3m10.5-64.5h3m-1.5-1.5v3m43.5 115.5h3m-1.5-1.5v3m52.5-103.5h3m-1.5-1.5v3m-1.5-196.5h3m-1.5-1.5v3m55.5-64.5h3m-1.5-1.5v3m-94.5 22.5h3m-1.5-1.5v3m4.5-16.5h3m-1.5-1.5v3m4.5-136.5h3m-1.5-1.5v3m19.5 10.5h3m-1.5-1.5v3m-40.5 73.5h3m-1.5-1.5v3m-97.5-145.5h3m-1.5-1.5v3m37.5 190.5h3m-1.5-1.5v3m-19.5-16.5h3m-1.5-1.5v3m-28.5-13.5h3m-1.5-1.5v3m-40.5 346.5h3m-1.5-1.5v3m16.5-103.5h3m-1.5-1.5v3m34.5 58.5h3m-1.5-1.5v3m73.5-127.5h3m-1.5-1.5v3m10.5-175.5h3m-1.5-1.5v3m-73.5 211.5h3m-1.5-1.5v3m16.5-46.5h3m-1.5-1.5v3m91.5-127.5h3m-1.5-1.5v3m-58.5 145.5h3m-1.5-1.5v3m52.5-64.5h3m-1.5-1.5v3m-31.5-70.5h3m-1.5-1.5v3m88.5 133.5h3m-1.5-1.5v3m-55.5-49.5h3m-1.5-1.5v3m-13.5 202.5h3m-1.5-1.5v3m-4.5-160.5h3m-1.5-1.5v3m-67.5-94.5h3m-1.5-1.5v3m28.5 181.5h3m-1.5-1.5v3m-4.5-43.5h3m-1.5-1.5v3m-61.5 76.5h3m-1.5-1.5v3m-28.5-25.5h3m-1.5-1.5v3m-7.5-196.5h3m-1.5-1.5v3m-37.5 94.5h3m-1.5-1.5v3m19.5 157.5h3m-1.5-1.5v3m-49.5 100.5h3m-1.5-1.5v3m148.5-274.5h3m-1.5-1.5v3m-43.5 61.5h3m-1.5-1.5v3m109.5-184.5h3m-1.5-1.5v3m-19.5 76.5h3m-1.5-1.5v3m-28.5 13.5h3m-1.5-1.5v3m-7.5-94.5h3m-1.5-1.5v3m-7.5-31.5h3m-1.5-1.5v3m49.5-40.5h3m-1.5-1.5v3m-61.5 49.5h3m-1.5-1.5v3m-19.5-16.5h3m-1.5-1.5v3m-97.5 28.5h3m-1.5-1.5v3m13.5-31.5h3m-1.5-1.5v3m-25.5 85.5h3m-1.5-1.5v3m64.5 73.5h3m-1.5-1.5v3m55.5-4.5h3m-1.5-1.5v3m58.5-61.5h3m-1.5-1.5v3m-70.5-19.5h3m-1.5-1.5v3m91.5 16.5h3m-1.5-1.5v3m-49.5 82.5h3m-1.5-1.5v3m34.5-76.5h3m-1.5-1.5v3m-157.5-28.5h3m-1.5-1.5v3m-73.5 208.5h3m-1.5-1.5v3m1.5-76.5h3m-1.5-1.5v3m43.5-85.5h3m-1.5-1.5v3m-40.5 196.5h3m-1.5-1.5v3m4.5-115.5h3m-1.5-1.5v3m4.5-100.5h3m-1.5-1.5v3m-58.5 172.5h3m-1.5-1.5v3m4.5-139.5h3m-1.5-1.5v3m19.5-13.5h3m-1.5-1.5v3m-28.5 112.5h3m-1.5-1.5v3m79.5-265.5h3m-1.5-1.5v3m94.5 7.5h3m-1.5-1.5v3m-7.5 100.5h3m-1.5-1.5v3m22.5-37.5h3m-1.5-1.5v3m-94.5-85.5h3m-1.5-1.5v3m31.5 13.5h3m-1.5-1.5v3m16.5 10.5h3m-1.5-1.5v3m-61.5 1.5h3m-1.5-1.5v3m7.5 205.5h3m-1.5-1.5v3m22.5-19.5h3m-1.5-1.5v3m7.5-70.5h3m-1.5-1.5v3m40.5-1.5h3m-1.5-1.5v3m-130.5-28.5h3m-1.5-1.5v3m79.5 163.5h3m-1.5-1.5v3m-4.5-184.5h3m-1.5-1.5v3m16.5 52.5h3m-1.5-1.5v3m-37.5 61.5h3m-1.5-1.5v3m4.5 127.5h3m-1.5-1.5v3m16.5-43.5h3m-1.5-1.5v3m61.5-52.5h3m-1.5-1.5v3m-16.5 22.5h3m-1.5-1.5v3m-148.5-58.5h3m-1.5-1.5v3m-34.5 169.5h3m-1.5-1.5v3m28.5-118.5h3m-1.5-1.5v3m10.5-82.5h3m-1.5-1.5v3m-31.5 37.5h3m-1.5-1.5v3m28.5 46.5h3m-1.5-1.5v3m49.5-178.5h3m-1.5-1.5v3m43.5-118.5h3m-1.5-1.5v3m-10.5 196.5h3m-1.5-1.5v3m-10.5 22.5h3m-1.5-1.5v3m64.5-88.5h3m-1.5-1.5v3m91.5-115.5h3m-1.5-1.5v3m-61.5 31.5h3m-1.5-1.5v3m28.5 241.5h3m-1.5-1.5v3m-1.5 1.5h3m-1.5-1.5v3m7.5-103.5h3m-1.5-1.5v3m22.5-55.5h3m-1.5-1.5v3m-61.5 121.5h3m-1.5-1.5v3m-10.5-67.5h3m-1.5-1.5v3m-22.5-118.5h3m-1.5-1.5v3m-31.5-64.5h3m-1.5-1.5v3m31.5 10.5h3m-1.5-1.5v3m40.5 121.5h3m-1.5-1.5v3m-13.5-25.5h3m-1.5-1.5v3m10.5-133.5h3m-1.5-1.5v3m40.5-148.5h3m-1.5-1.5v3m-40.5 19.5h3m-1.5-1.5v3m-25.5-7.5h3m-1.5-1.5v3m43.5 229.5h3m-1.5-1.5v3m-22.5 1.5h3m-1.5-1.5v3m-7.5 67.5h3m-1.5-1.5v3m-7.5 115.5h3m-1.5-1.5v3m4.5-196.5h3m-1.5-1.5v3m-49.5 166.5h3m-1.5-1.5v3m-82.5-49.5h3m-1.5-1.5v3m31.5-151.5h3m-1.5-1.5v3m-52.5 142.5h3m-1.5-1.5v3m28.5 10.5h3m-1.5-1.5v3m-43.5 43.5h3m-1.5-1.5v3m163.5-196.5h3m-1.5-1.5v3m97.5 97.5h3m-1.5-1.5v3m-64.5 160.5h3m-1.5-1.5v3m-64.5-22.5h3m-1.5-1.5v3m37.5-109.5h3m-1.5-1.5v3m-103.5 223.5h3m-1.5-1.5v3m46.5-136.5h3m-1.5-1.5v3m19.5-121.5h3m-1.5-1.5v3m-55.5 22.5h3m-1.5-1.5v3m-55.5 106.5h3m-1.5-1.5v3m-79.5 52.5h3m-1.5-1.5v3m85.5 67.5h3m-1.5-1.5v3m4.5-376.5h3m-1.5-1.5v3m-91.5-76.5h3m-1.5-1.5v3m88.5-79.5h3m-1.5-1.5v3m61.5-181.5h3m-1.5-1.5v3m-43.5 40.5h3m-1.5-1.5v3m46.5 19.5h3m-1.5-1.5v3m-148.5 13.5h3m-1.5-1.5v3m58.5 40.5h3m-1.5-1.5v3m-10.5 31.5h3m-1.5-1.5v3m-109.5 181.5h3m-1.5-1.5v3m40.5 13.5h3m-1.5-1.5v3m-34.5 58.5h3m-1.5-1.5v3m-40.5 199.5h3m-1.5-1.5v3m1.5 109.5h3m-1.5-1.5v3m118.5-286.5h3m-1.5-1.5v3m-61.5-37.5h3m-1.5-1.5v3m7.5 52.5h3m-1.5-1.5v3m-55.5 88.5h3m-1.5-1.5v3m7.5-58.5h3m-1.5-1.5v3m37.5-121.5h3m-1.5-1.5v3m52.5-139.5h3m-1.5-1.5v3m-7.5-34.5h3m-1.5-1.5v3m-7.5-10.5h3m-1.5-1.5v3m43.5-70.5h3m-1.5-1.5v3m-13.5 94.5h3m-1.5-1.5v3m-97.5 268.5h3m-1.5-1.5v3m112.5-124.5h3m-1.5-1.5v3m-34.5-19.5h3m-1.5-1.5v3m-31.5 223.5h3m-1.5-1.5v3m19.5 94.5h3m-1.5-1.5v3m97.5-106.5h3m-1.5-1.5v3m25.5-16.5h3m-1.5-1.5v3m16.5-49.5h3m-1.5-1.5v3m-88.5 7.5h3m-1.5-1.5v3m-58.5 226.5h3m-1.5-1.5v3m67.5-343.5h3m-1.5-1.5v3m-85.5 49.5h3m-1.5-1.5v3m97.5 73.5h3m-1.5-1.5v3m85.5 100.5h3m-1.5-1.5v3m-34.5 19.5h3m-1.5-1.5v3m-28.5 85.5h3m-1.5-1.5v3m-1.5-55.5h3m-1.5-1.5v3m-4.5-1.5h3m-1.5-1.5v3m91.5-232.5h3m-1.5-1.5v3m-31.5-256.5h3m-1.5-1.5v3m-94.5 16.5h3m-1.5-1.5v3m-40.5-22.5h3m-1.5-1.5v3m97.5-25.5h3m-1.5-1.5v3m-10.5 301.5h3m-1.5-1.5v3m-115.5-40.5h3m-1.5-1.5v3m79.5-121.5h3m-1.5-1.5v3m-88.5 67.5h3m-1.5-1.5v3m22.5-223.5h3m-1.5-1.5v3m-40.5 22.5h3m-1.5-1.5v3m64.5 25.5h3m-1.5-1.5v3m-25.5 28.5h3m-1.5-1.5v3m58.5 283.5h3m-1.5-1.5v3m-49.5 118.5h3m-1.5-1.5v3m4.5-262.5h3m-1.5-1.5v3m-103.5-10.5h3m-1.5-1.5v3m76.5-49.5h3m-1.5-1.5v3m4.5 64.5h3m-1.5-1.5v3m1.5 94.5h3m-1.5-1.5v3m-4.5-61.5h3m-1.5-1.5v3m40.5-163.5h3m-1.5-1.5v3m103.5-82.5h3m-1.5-1.5v3m16.5 76.5h3m-1.5-1.5v3m-25.5 70.5h3m-1.5-1.5v3m-103.5-4.5h3m-1.5-1.5v3m118.5-103.5h3m-1.5-1.5v3m-64.5 391.5h3m-1.5-1.5v3m-1.5-79.5h3m-1.5-1.5v3m-1.5-82.5h3m-1.5-1.5v3m-124.5 181.5h3m-1.5-1.5v3m25.5-145.5h3m-1.5-1.5v3m-13.5 1.5h3m-1.5-1.5v3m175.5-262.5h3m-1.5-1.5v3m13.5 331.5h3m-1.5-1.5v3m-79.5-130.5h3m-1.5-1.5v3m-55.5-52.5h3m-1.5-1.5v3m70.5 82.5h3m-1.5-1.5v3m-40.5 130.5h3m-1.5-1.5v3m25.5-319.5h3m-1.5-1.5v3m-67.5 7.5h3m-1.5-1.5v3m88.5 13.5h3m-1.5-1.5v3m-91.5-67.5h3m-1.5-1.5v3m100.5-22.5h3m-1.5-1.5v3m-10.5 283.5h3m-1.5-1.5v3m-115.5-301.5h3m-1.5-1.5v3m31.5 118.5h3m-1.5-1.5v3m-79.5 52.5h3m-1.5-1.5v3m-49.5-70.5h3m-1.5-1.5v3m58.5-55.5h3m-1.5-1.5v3m121.5-70.5h3m-1.5-1.5v3m19.5-73.5h3m-1.5-1.5v3m-67.5 127.5h3m-1.5-1.5v3m88.5 124.5h3m-1.5-1.5v3m-1.5 25.5h3m-1.5-1.5v3m-61.5 214.5h3m-1.5-1.5v3m49.5-136.5h3m-1.5-1.5v3m-124.5 70.5h3m-1.5-1.5v3m127.5-151.5h3m-1.5-1.5v3m-148.5 205.5h3m-1.5-1.5v3m43.5-166.5h3m-1.5-1.5v3m19.5 40.5h3m-1.5-1.5v3m136.5-67.5h3m-1.5-1.5v3m-22.5 13.5h3m-1.5-1.5v3m7.5-16.5h3m-1.5-1.5v3m-124.5-256.5h3m-1.5-1.5v3m-7.5 184.5h3m-1.5-1.5v3m-37.5 73.5h3m-1.5-1.5v3m31.5-28.5h3m-1.5-1.5v3m-31.5 121.5h3m-1.5-1.5v3m49.5 22.5h3m-1.5-1.5v3m31.5-238.5h3m-1.5-1.5v3m22.5 130.5h3m-1.5-1.5v3m-1.5 22.5h3m-1.5-1.5v3m13.5-25.5h3m-1.5-1.5v3m22.5-214.5h3m-1.5-1.5v3m-151.5 220.5h3m-1.5-1.5v3m-100.5-10.5h3m-1.5-1.5v3m103.5-70.5h3m-1.5-1.5v3m-115.5 46.5h3m-1.5-1.5v3m-22.5 22.5h3m-1.5-1.5v3m103.5-97.5h3m-1.5-1.5v3m106.5 121.5h3m-1.5-1.5v3m-124.5 61.5h3m-1.5-1.5v3m16.5-199.5h3m-1.5-1.5v3m-34.5 121.5h3m-1.5-1.5v3m136.5-223.5h3m-1.5-1.5v3m-55.5 124.5h3m-1.5-1.5v3m-106.5 16.5h3m-1.5-1.5v3m136.5-19.5h3m-1.5-1.5v3m1.5 55.5h3m-1.5-1.5v3m-103.5-19.5h3m-1.5-1.5v3m-22.5-58.5h3m-1.5-1.5v3m37.5 67.5h3m-1.5-1.5v3m37.5 70.5h3m-1.5-1.5v3m10.5-67.5h3m-1.5-1.5v3m-22.5 34.5h3m-1.5-1.5v3m-79.5 169.5h3m-1.5-1.5v3m142.5-208.5h3m-1.5-1.5v3m-49.5-145.5h3m-1.5-1.5v3m37.5 124.5h3m-1.5-1.5v3m40.5-28.5h3m-1.5-1.5v3m-142.5 193.5h3m-1.5-1.5v3m-25.5-55.5h3m-1.5-1.5v3m82.5-88.5h3m-1.5-1.5v3m37.5-109.5h3m-1.5-1.5v3m25.5 67.5h3m-1.5-1.5v3m55.5-133.5h3m-1.5-1.5v3m-64.5 253.5h3m-1.5-1.5v3m13.5-19.5h3m-1.5-1.5v3m-22.5-181.5h3m-1.5-1.5v3m-76.5 70.5h3m-1.5-1.5v3m-100.5 88.5h3m-1.5-1.5v3m-25.5-19.5h3m-1.5-1.5v3m112.5 1.5h3m-1.5-1.5v3m-64.5 16.5h3m-1.5-1.5v3m88.5-205.5h3m-1.5-1.5v3m-85.5 22.5h3m-1.5-1.5v3m-7.5 208.5h3m-1.5-1.5v3m-10.5-166.5h3m-1.5-1.5v3m73.5-43.5h3m-1.5-1.5v3m61.5-1.5h3m-1.5-1.5v3m-103.5 76.5h3m-1.5-1.5v3m28.5 187.5h3m-1.5-1.5v3m-79.5-112.5h3m-1.5-1.5v3m55.5-55.5h3m-1.5-1.5v3m97.5-205.5h3m-1.5-1.5v3m-28.5-16.5h3m-1.5-1.5v3m-22.5 97.5h3m-1.5-1.5v3m22.5 43.5h3m-1.5-1.5v3m-49.5 67.5h3m-1.5-1.5v3m-61.5-58.5h3m-1.5-1.5v3m49.5-166.5h3m-1.5-1.5v3m-64.5 34.5h3m-1.5-1.5v3m1.5 67.5h3m-1.5-1.5v3m82.5 343.5h3m-1.5-1.5v3m-22.5-1.5h3m-1.5-1.5v3m10.5 58.5h3m-1.5-1.5v3m103.5-157.5h3m-1.5-1.5v3m-115.5 79.5h3m-1.5-1.5v3m-46.5-112.5h3m-1.5-1.5v3m67.5-79.5h3m-1.5-1.5v3m10.5 28.5h3m-1.5-1.5v3m-55.5-55.5h3m-1.5-1.5v3m22.5-37.5h3m-1.5-1.5v3m55.5-37.5h3m-1.5-1.5v3m28.5 19.5h3m-1.5-1.5v3m-91.5 88.5h3m-1.5-1.5v3m-124.5-133.5h3m-1.5-1.5v3m34.5 76.5h3m-1.5-1.5v3m-22.5 49.5h3m-1.5-1.5v3m-10.5 121.5h3m-1.5-1.5v3m67.5 7.5h3m-1.5-1.5v3m76.5-52.5h3m-1.5-1.5v3m46.5-64.5h3m-1.5-1.5v3m-22.5 211.5h3m-1.5-1.5v3m-43.5-334.5h3m-1.5-1.5v3m1.5 55.5h3m-1.5-1.5v3m52.5 103.5h3m-1.5-1.5v3m19.5-46.5h3m-1.5-1.5v3m-37.5-1.5h3m-1.5-1.5v3m-136.5-112.5h3m-1.5-1.5v3m34.5 112.5h3m-1.5-1.5v3m16.5-79.5h3m-1.5-1.5v3m-169.5 292.5h3m-1.5-1.5v3m34.5 10.5h3m-1.5-1.5v3m160.5-100.5h3m-1.5-1.5v3m31.5 43.5h3m-1.5-1.5v3m-4.5 1.5h3m-1.5-1.5v3m16.5-151.5h3m-1.5-1.5v3m-94.5 19.5h3m-1.5-1.5v3m94.5 64.5h3m-1.5-1.5v3m88.5-235.5h3m-1.5-1.5v3m19.5-52.5h3m-1.5-1.5v3m-67.5 139.5h3m-1.5-1.5v3m-37.5 7.5h3m-1.5-1.5v3m-16.5-40.5h3m-1.5-1.5v3m-70.5-82.5h3m-1.5-1.5v3m46.5-4.5h3m-1.5-1.5v3m70.5-55.5h3m-1.5-1.5v3m-106.5-1.5h3m-1.5-1.5v3m-67.5 211.5h3m-1.5-1.5v3m82.5-61.5h3m-1.5-1.5v3m22.5-73.5h3m-1.5-1.5v3m-16.5 115.5h3m-1.5-1.5v3m103.5-139.5h3m-1.5-1.5v3m46.5-16.5h3m-1.5-1.5v3m-85.5 55.5h3m-1.5-1.5v3m-55.5 199.5h3m-1.5-1.5v3m19.5-109.5h3m-1.5-1.5v3m25.5-100.5h3m-1.5-1.5v3m-22.5 88.5h3m-1.5-1.5v3m-49.5 112.5h3m-1.5-1.5v3m-10.5-118.5h3m-1.5-1.5v3m-43.5 112.5h3m-1.5-1.5v3m1.5 130.5h3m-1.5-1.5v3m109.5-172.5h3m-1.5-1.5v3m28.5-52.5h3m-1.5-1.5v3m-40.5 295.5h3m-1.5-1.5v3m55.5-157.5h3m-1.5-1.5v3m-67.5-85.5h3m-1.5-1.5v3m-1.5-190.5h3m-1.5-1.5v3m-31.5 151.5h3m-1.5-1.5v3m-7.5 82.5h3m-1.5-1.5v3m-49.5 118.5h3m-1.5-1.5v3m-7.5-100.5h3m-1.5-1.5v3m-31.5-193.5h3m-1.5-1.5v3m43.5-103.5h3m-1.5-1.5v3m61.5-76.5h3m-1.5-1.5v3m-49.5-34.5h3m-1.5-1.5v3m88.5-181.5h3m-1.5-1.5v3m-124.5 397.5h3m-1.5-1.5v3m-40.5-121.5h3m-1.5-1.5v3m-46.5 202.5h3m-1.5-1.5v3m52.5 19.5h3m-1.5-1.5v3m28.5-211.5h3m-1.5-1.5v3m-31.5 217.5h3m-1.5-1.5v3m-13.5-136.5h3m-1.5-1.5v3m-34.5 7.5h3m-1.5-1.5v3m-10.5-211.5h3m-1.5-1.5v3m82.5 31.5h3m-1.5-1.5v3m-88.5 250.5h3m-1.5-1.5v3m106.5 154.5h3m-1.5-1.5v3m79.5-76.5h3m-1.5-1.5v3m-136.5-199.5h3m-1.5-1.5v3m1.5 190.5h3m-1.5-1.5v3m-31.5 163.5h3m-1.5-1.5v3m70.5-145.5h3m-1.5-1.5v3m97.5-31.5h3m-1.5-1.5v3m-7.5-166.5h3m-1.5-1.5v3m-70.5 4.5h3m-1.5-1.5v3m22.5 136.5h3m-1.5-1.5v3m-55.5-220.5h3m-1.5-1.5v3m-46.5 145.5h3m-1.5-1.5v3m-34.5 19.5h3m-1.5-1.5v3m55.5 4.5h3m-1.5-1.5v3m37.5 13.5h3m-1.5-1.5v3m1.5-88.5h3m-1.5-1.5v3m-40.5-79.5h3m-1.5-1.5v3m85.5 49.5h3m-1.5-1.5v3m-16.5-58.5h3m-1.5-1.5v3m67.5 73.5h3m-1.5-1.5v3m-148.5-40.5h3m-1.5-1.5v3m7.5-79.5h3m-1.5-1.5v3m-16.5-37.5h3m-1.5-1.5v3m-79.5 136.5h3m-1.5-1.5v3m172.5 46.5h3m-1.5-1.5v3m28.5 58.5h3m-1.5-1.5v3m-184.5 64.5h3m-1.5-1.5v3m49.5 217.5h3m-1.5-1.5v3m97.5-184.5h3m-1.5-1.5v3m-91.5 64.5h3m-1.5-1.5v3m1.5-49.5h3m-1.5-1.5v3m43.5-64.5h3m-1.5-1.5v3m-13.5-49.5h3m-1.5-1.5v3m103.5-4.5h3m-1.5-1.5v3m-79.5 22.5h3m-1.5-1.5v3m22.5-193.5h3m-1.5-1.5v3m-55.5 79.5h3m-1.5-1.5v3m91.5-118.5h3m-1.5-1.5v3m-4.5-130.5h3m-1.5-1.5v3m-1.5 265.5h3m-1.5-1.5v3m28.5 106.5h3m-1.5-1.5v3m1.5-91.5h3m-1.5-1.5v3m-148.5 139.5h3m-1.5-1.5v3m55.5-157.5h3m-1.5-1.5v3m4.5-55.5h3m-1.5-1.5v3m100.5 106.5h3m-1.5-1.5v3m7.5-286.5h3m-1.5-1.5v3m-106.5 73.5h3m-1.5-1.5v3m76.5-31.5h3m-1.5-1.5v3m-112.5 115.5h3m-1.5-1.5v3m-70.5 313.5h3m-1.5-1.5v3m121.5-13.5h3m-1.5-1.5v3m19.5-211.5h3m-1.5-1.5v3m-100.5-22.5h3m-1.5-1.5v3m13.5-160.5h3m-1.5-1.5v3m-34.5 142.5h3m-1.5-1.5v3m58.5-130.5h3m-1.5-1.5v3m70.5 1.5h3m-1.5-1.5v3m40.5 1.5h3m-1.5-1.5v3m-139.5 184.5h3m-1.5-1.5v3m1.5-64.5h3m-1.5-1.5v3m-28.5 52.5h3m-1.5-1.5v3m31.5-16.5h3m-1.5-1.5v3m-10.5 148.5h3m-1.5-1.5v3m-88.5-67.5h3m-1.5-1.5v3m-73.5 115.5h3m-1.5-1.5v3m211.5-61.5h3m-1.5-1.5v3m49.5-100.5h3m-1.5-1.5v3m67.5 46.5h3m-1.5-1.5v3m-1.5-58.5h3m-1.5-1.5v3m-25.5-160.5h3m-1.5-1.5v3m-1.5 70.5h3m-1.5-1.5v3m-154.5 94.5h3m-1.5-1.5v3m-13.5 76.5h3m-1.5-1.5v3m10.5 40.5h3m-1.5-1.5v3m-124.5 67.5h3m-1.5-1.5v3m100.5-34.5h3m-1.5-1.5v3m7.5-58.5h3m-1.5-1.5v3m-4.5 22.5h3m-1.5-1.5v3m142.5-64.5h3m-1.5-1.5v3m37.5-193.5h3m-1.5-1.5v3m-67.5 31.5h3m-1.5-1.5v3m-82.5-25.5h3m-1.5-1.5v3m46.5-10.5h3m-1.5-1.5v3m19.5-70.5h3m-1.5-1.5v3m7.5 112.5h3m-1.5-1.5v3m25.5-85.5h3m-1.5-1.5v3m67.5-76.5h3m-1.5-1.5v3m-46.5 208.5h3m-1.5-1.5v3m-22.5 139.5h3m-1.5-1.5v3m118.5-370.5h3m-1.5-1.5v3m-37.5-10.5h3m-1.5-1.5v3m-13.5 82.5h3m-1.5-1.5v3m-109.5 220.5h3m-1.5-1.5v3m-148.5 4.5h3m-1.5-1.5v3m49.5-49.5h3m-1.5-1.5v3m-28.5 46.5h3m-1.5-1.5v3m43.5-4.5h3m-1.5-1.5v3m94.5-100.5h3m-1.5-1.5v3m37.5-112.5h3m-1.5-1.5v3m-31.5 154.5h3m-1.5-1.5v3m28.5-76.5h3m-1.5-1.5v3m-106.5 73.5h3m-1.5-1.5v3m-46.5 40.5h3m-1.5-1.5v3m-67.5 130.5h3m-1.5-1.5v3m16.5-43.5h3m-1.5-1.5v3m73.5-148.5h3m-1.5-1.5v3m-25.5 64.5h3m-1.5-1.5v3m-58.5 55.5h3m-1.5-1.5v3m85.5-145.5h3m-1.5-1.5v3m-67.5 76.5h3m-1.5-1.5v3m25.5 46.5h3m-1.5-1.5v3m103.5-322.5h3m-1.5-1.5v3m19.5 154.5h3m-1.5-1.5v3m34.5-46.5h3m-1.5-1.5v3m-10.5-40.5h3m-1.5-1.5v3m-82.5 55.5h3m-1.5-1.5v3m-4.5-22.5h3m-1.5-1.5v3m-79.5 208.5h3m-1.5-1.5v3m-7.5-169.5h3m-1.5-1.5v3m25.5 103.5h3m-1.5-1.5v3m-25.5-94.5h3m-1.5-1.5v3m67.5 94.5h3m-1.5-1.5v3m-25.5-106.5h3m-1.5-1.5v3m106.5-262.5h3m-1.5-1.5v3m-52.5 94.5h3m-1.5-1.5v3m-16.5 169.5h3m-1.5-1.5v3m46.5-178.5h3m-1.5-1.5v3m7.5 40.5h3m-1.5-1.5v3m-109.5 175.5h3m-1.5-1.5v3m127.5-196.5h3m-1.5-1.5v3m37.5-58.5h3m-1.5-1.5v3m-115.5 160.5h3m-1.5-1.5v3m-70.5-103.5h3m-1.5-1.5v3m-52.5-37.5h3m-1.5-1.5v3m178.5-118.5h3m-1.5-1.5v3m-73.5 118.5h3m-1.5-1.5v3m-46.5 310.5h3m-1.5-1.5v3m28.5-79.5h3m-1.5-1.5v3m19.5-190.5h3m-1.5-1.5v3m19.5-199.5h3m-1.5-1.5v3m-28.5 142.5h3m-1.5-1.5v3m34.5 34.5h3m-1.5-1.5v3m-64.5 220.5h3m-1.5-1.5v3m1.5 13.5h3m-1.5-1.5v3m82.5-136.5h3m-1.5-1.5v3m-31.5 7.5h3m-1.5-1.5v3m-52.5 151.5h3m-1.5-1.5v3m28.5-100.5h3m-1.5-1.5v3m19.5-31.5h3m-1.5-1.5v3m34.5-31.5h3m-1.5-1.5v3m-58.5-160.5h3m-1.5-1.5v3m-121.5 163.5h3m-1.5-1.5v3m-49.5 217.5h3m-1.5-1.5v3m130.5-4.5h3m-1.5-1.5v3m-10.5-4.5h3m-1.5-1.5v3m25.5-7.5h3m-1.5-1.5v3m-13.5 97.5h3m-1.5-1.5v3m25.5-76.5h3m-1.5-1.5v3m-55.5-208.5h3m-1.5-1.5v3m-13.5-55.5h3m-1.5-1.5v3m91.5-52.5h3m-1.5-1.5v3m-7.5-88.5h3m-1.5-1.5v3m25.5 16.5h3m-1.5-1.5v3m-13.5-55.5h3m-1.5-1.5v3m-28.5 46.5h3m-1.5-1.5v3m34.5 193.5h3m-1.5-1.5v3m-49.5-259.5h3m-1.5-1.5v3m-94.5-55.5h3m-1.5-1.5v3m67.5 52.5h3m-1.5-1.5v3m16.5-40.5h3m-1.5-1.5v3m-10.5 1.5h3m-1.5-1.5v3m88.5 88.5h3m-1.5-1.5v3m37.5 64.5h3m-1.5-1.5v3m-1.5 127.5h3m-1.5-1.5v3m-94.5 136.5h3m-1.5-1.5v3m-52.5-163.5h3m-1.5-1.5v3m-112.5 127.5h3m-1.5-1.5v3m43.5 19.5h3m-1.5-1.5v3m79.5 163.5h3m-1.5-1.5v3m4.5-130.5h3m-1.5-1.5v3m70.5 31.5h3m-1.5-1.5v3m-73.5 34.5h3m-1.5-1.5v3m-46.5-94.5h3m-1.5-1.5v3m-4.5 52.5h3m-1.5-1.5v3m37.5-163.5h3m-1.5-1.5v3m70.5 112.5h3m-1.5-1.5v3m1.5-25.5h3m-1.5-1.5v3m-103.5 190.5h3m-1.5-1.5v3m-85.5-79.5h3m-1.5-1.5v3m49.5 13.5h3m-1.5-1.5v3m4.5-67.5h3m-1.5-1.5v3m160.5-19.5h3m-1.5-1.5v3m31.5-49.5h3m-1.5-1.5v3m-40.5 43.5h3m-1.5-1.5v3m-25.5 187.5h3m-1.5-1.5v3m-31.5-67.5h3m-1.5-1.5v3m-13.5-166.5h3m-1.5-1.5v3m-88.5-157.5h3m-1.5-1.5v3m-4.5 25.5h3m-1.5-1.5v3m-52.5 112.5h3m-1.5-1.5v3m-52.5 64.5h3m-1.5-1.5v3m67.5-118.5h3m-1.5-1.5v3m31.5 76.5h3m-1.5-1.5v3m127.5-148.5h3m-1.5-1.5v3m-121.5 151.5h3m-1.5-1.5v3m4.5 139.5h3m-1.5-1.5v3m-46.5 121.5h3m-1.5-1.5v3m-70.5-256.5h3m-1.5-1.5v3m31.5-97.5h3m-1.5-1.5v3m28.5-1.5h3m-1.5-1.5v3m-37.5 7.5h3m-1.5-1.5v3m133.5-250.5h3m-1.5-1.5v3m-85.5 118.5h3m-1.5-1.5v3m-40.5 115.5h3m-1.5-1.5v3m73.5 16.5h3m-1.5-1.5v3m43.5 19.5h3m-1.5-1.5v3m4.5 28.5h3m-1.5-1.5v3m13.5-7.5h3m-1.5-1.5v3m-34.5 55.5h3m-1.5-1.5v3m49.5-253.5h3m-1.5-1.5v3m-145.5 118.5h3m-1.5-1.5v3m85.5-115.5h3m-1.5-1.5v3m10.5 4.5h3m-1.5-1.5v3m4.5 265.5h3m-1.5-1.5v3m34.5 7.5h3m-1.5-1.5v3m-19.5-115.5h3m-1.5-1.5v3m-85.5 43.5h3m-1.5-1.5v3m70.5-31.5h3m-1.5-1.5v3m10.5 85.5h3m-1.5-1.5v3m37.5-145.5h3m-1.5-1.5v3m-34.5-7.5h3m-1.5-1.5v3m19.5-4.5h3m-1.5-1.5v3"/>
<path stroke="#f03" d="M1308.5 510.5l3 234l-69-267l114-69l27 108l-15-36l-54 126l12-156l-3-36l-18 159l-12 78l30 57l-24 12l-69 153l-39-114l-36 150l27-36l-60 249l-15 75l-27-27l-24-81l-3-30l102-183l0-201M1221.5 657.5l81-168l-99 234l27 51l33-261l-102 114l-60 66M1068.5 708.5l150 3l-6-108l-75 78l-48 54M1143.5 774.5l108 18l-33-81M1191.5 552.5l-105-120l-18 153l21 87M1191.5 552.5l6 138M1101.5 651.5l27-129l-9 171M1065.5 612.5l60 45M1137.5 540.5l-75 132M1068.5 666.5l-30-18l69-72l-24 42l21-15M1047.5 603.5l3-42l30 96M1047.5 603.5l27 57M1101.5 651.5l27-6l78-18M1080.5 651.5l-75 132l66 165l15-300M1170.5 705.5l-135 57l3 33l108-60l15 15M1062.5 660.5l0 165l27 15l3-150M1110.5 699.5l-15 138l18 12l-48-9l9-21l-18 87M1155.5 825.5l-12-51l-42 141l57 24l-3-30M1155.5 759.5l21 45l15-129M1128.5 645.5l27 180M1074.5 707.5l75-4l51 2M1071.5 675.5l0 165M1107.5 780.5l6-90M1056.5 696.5l72 3M1122.5 690.5l78 18M1137.5 681.5l51-15M1125.5 693.5l66-21M1089.5 684.5l66-9M1221.5 657.5l-42 33M1203.5 636.5l0-9l6 0l0 12M1116.5 579.5l-33 39M1121.5 691.5l16-10l9 54M1086.5 648.5l15 3M1080.5 651.5l-12 15M1125.5 657.5l3-12M1188.5 666.5l3 6l-39 19M1143.5 768.5l0 6"/>
<path stroke="#f03" d="M1307 510.5h3m-1.5-1.5v3m1.5 232.5h3m-1.5-1.5v3m-70.5-268.5h3m-1.5-1.5v3m112.5-70.5h3m-1.5-1.5v3m25.5 106.5h3m-1.5-1.5v3m-16.5-37.5h3m-1.5-1.5v3m-55.5 124.5h3m-1.5-1.5v3m10.5-157.5h3m-1.5-1.5v3m-4.5-37.5h3m-1.5-1.5v3m-19.5 157.5h3m-1.5-1.5v3m-13.5 76.5h3m-1.5-1.5v3m28.5 55.5h3m-1.5-1.5v3m-25.5 10.5h3m-1.5-1.5v3m-70.5 151.5h3m-1.5-1.5v3m-40.5-115.5h3m-1.5-1.5v3m-37.5 148.5h3m-1.5-1.5v3m25.5-37.5h3m-1.5-1.5v3m-61.5 247.5h3m-1.5-1.5v3m-16.5 73.5h3m-1.5-1.5v3m-28.5-28.5h3m-1.5-1.5v3m-25.5-82.5h3m-1.5-1.5v3m-4.5-31.5h3m-1.5-1.5v3m100.5-184.5h3m-1.5-1.5v3m-1.5-202.5h3m-1.5-1.5v3m64.5-19.5h3m-1.5-1.5v3m79.5-169.5h3m-1.5-1.5v3m-100.5 232.5h3m-1.5-1.5v3m25.5 49.5h3m-1.5-1.5v3m31.5-262.5h3m-1.5-1.5v3m-103.5 112.5h3m-1.5-1.5v3m-61.5 64.5h3m-1.5-1.5v3m-34.5 13.5h3m-1.5-1.5v3m148.5 1.5h3m-1.5-1.5v3m-7.5-109.5h3m-1.5-1.5v3m-76.5 76.5h3m-1.5-1.5v3m-49.5 52.5h3m-1.5-1.5v3m52.5 37.5h3m-1.5-1.5v3m106.5 16.5h3m-1.5-1.5v3m-61.5-241.5h3m-1.5-1.5v3m-106.5-121.5h3m-1.5-1.5v3m-19.5 151.5h3m-1.5-1.5v3m19.5 85.5h3m-1.5-1.5v3m106.5 16.5h3m-1.5-1.5v3m-97.5-40.5h3m-1.5-1.5v3m25.5-130.5h3m-1.5-1.5v3m-10.5 169.5h3m-1.5-1.5v3m-55.5-82.5h3m-1.5-1.5v3m58.5 43.5h3m-1.5-1.5v3m10.5-118.5h3m-1.5-1.5v3m-76.5 130.5h3m-1.5-1.5v3m4.5-7.5h3m-1.5-1.5v3m-31.5-19.5h3m-1.5-1.5v3m67.5-73.5h3m-1.5-1.5v3m-25.5 40.5h3m-1.5-1.5v3m19.5-16.5h3m-1.5-1.5v3m-58.5-1.5h3m-1.5-1.5v3m1.5-43.5h3m-1.5-1.5v3m28.5 94.5h3m-1.5-1.5v3m-7.5 1.5h3m-1.5-1.5v3m52.5-16.5h3m-1.5-1.5v3m76.5-19.5h3m-1.5-1.5v3m-127.5 22.5h3m-1.5-1.5v3m-76.5 130.5h3m-1.5-1.5v3m64.5 163.5h3m-1.5-1.5v3m13.5-301.5h3m-1.5-1.5v3m82.5 55.5h3m-1.5-1.5v3m-136.5 55.5h3m-1.5-1.5v3m1.5 31.5h3m-1.5-1.5v3m106.5-61.5h3m-1.5-1.5v3m13.5 13.5h3m-1.5-1.5v3m-100.5-91.5h3m-1.5-1.5v3m-1.5 163.5h3m-1.5-1.5v3m25.5 13.5h3m-1.5-1.5v3m1.5-151.5h3m-1.5-1.5v3m16.5 7.5h3m-1.5-1.5v3m-16.5 136.5h3m-1.5-1.5v3m16.5 10.5h3m-1.5-1.5v3m-49.5-10.5h3m-1.5-1.5v3m7.5-22.5h3m-1.5-1.5v3m-19.5 85.5h3m-1.5-1.5v3m97.5-82.5h3m-1.5-1.5v3m-55.5 88.5h3m-1.5-1.5v3m55.5 22.5h3m-1.5-1.5v3m-4.5-181.5h3m-1.5-1.5v3m19.5 43.5h3m-1.5-1.5v3m13.5-130.5h3m-1.5-1.5v3m-118.5 30.5h3m-1.5-1.5v3m73.5-5.5h3m-1.5-1.5v3m49.5 .5h3m-1.5-1.5v3m-130.5-31.5h3m-1.5-1.5v3m-1.5 163.5h3m-1.5-1.5v3m34.5-61.5h3m-1.5-1.5v3m4.5-91.5h3m-1.5-1.5v3m-58.5 4.5h3m-1.5-1.5v3m70.5 1.5h3m-1.5-1.5v3m-7.5-10.5h3m-1.5-1.5v3m76.5 16.5h3m-1.5-1.5v3m-13.5-43.5h3m-1.5-1.5v3m-64.5 25.5h3m-1.5-1.5v3m64.5-22.5h3m-1.5-1.5v3m-103.5 10.5h3m-1.5-1.5v3m88.5 4.5h3m-1.5-1.5v3m22.5-55.5h3m-1.5-1.5v3m-1.5-10.5h3m-1.5-1.5v3m4.5-1.5h3m-1.5-1.5v3m-1.5 10.5h3m-1.5-1.5v3m-94.5-61.5h3m-1.5-1.5v3m3.5 110.5h3m-1.5-1.5v3m29.5-1.5h3m-1.5-1.5v3m-10.5 75.5h3m-1.5-1.5v3"/>
<path stroke="#0f0" d="M1284 510.5h49M1308.5 486v49M1291.5 493.5l33 33M1291.5 526.5l33-33"/>
<path stroke="#000" d="M210.5 141.5H1878.5V1275.5H210.5ZM210.5 1276v-37M252.5 1276v-19M291.5 1276v-19M333.5 1276v-19M375.5 1276v-19M417.5 1276v-37M459.5 1276v-19M501.5 1276v-19M543.5 1276v-19M585.5 1276v-19M627.5 1276v-37M669.5 1276v-19M711.5 1276v-19M753.5 1276v-19M792.5 1276v-19M834.5 1276v-37M876.5 1276v-19M918.5 1276v-19M960.5 1276v-19M1002.5 1276v-19M1044.5 1276v-37M1086.5 1276v-19M1128.5 1276v-19M1170.5 1276v-19M1212.5 1276v-19M1254.5 1276v-37M1296.5 1276v-19M1335.5 1276v-19M1377.5 1276v-19M1419.5 1276v-19M1461.5 1276v-37M1503.5 1276v-19M1545.5 1276v-19M1587.5 1276v-19M1629.5 1276v-19M1671.5 1276v-37M1713.5 1276v-19M1755.5 1276v-19M1797.5 1276v-19M1836.5 1276v-19M1878.5 1276v-37M210 1248.5h25M210 1206.5h25M210 1167.5h49M210 1125.5h25M210 1086.5h25M210 1047.5h25M210 1005.5h49M210 966.5h25M210 924.5h25M210 885.5h25M210 843.5h49M210 804.5h25M210 765.5h25M210 723.5h25M210 684.5h49M210 642.5h25M210 603.5h25M210 561.5h25M210 522.5h49M210 483.5h25M210 441.5h25M210 402.5h25M210 360.5h49M210 321.5h25M210 279.5h25M210 240.5h25M210 201.5h49M210 159.5h25"/>
</g>
<text transform="translate(208.70 1320.20) scale(1 1.0200)" font-size="45.80" text-anchor="middle" stroke="#000" stroke-width="0.50" stroke-linejoin="round"><tspan font-size="51.0" dy="5.4" stroke-width="0">−</tspan><tspan dx="-0.8" dy="-5.4">2</tspan></text>
<text transform="translate(418.20 1320.20) scale(1 1.0200)" font-size="45.80" text-anchor="middle" stroke="#000" stroke-width="0.50" stroke-linejoin="round"><tspan font-size="51.0" dy="5.4" stroke-width="0">−</tspan><tspan dx="-0.8" dy="-5.4">1.5</tspan></text>
<text transform="translate(628.70 1320.20) scale(1 1.0200)" font-size="45.80" text-anchor="middle" stroke="#000" stroke-width="0.50" stroke-linejoin="round"><tspan font-size="51.0" dy="5.4" stroke-width="0">−</tspan><tspan dx="-4.8" dy="-5.4">1</tspan></text>
<text transform="translate(835.30 1320.20) scale(1 1.0200)" font-size="45.80" text-anchor="middle" stroke="#000" stroke-width="0.50" stroke-linejoin="round"><tspan font-size="51.0" dy="5.4" stroke-width="0">−</tspan><tspan dx="-3.0" dy="-5.4">0.5</tspan></text>
<text transform="translate(1044.50 1320.20) scale(1 1.0200)" font-size="45.80" text-anchor="middle" stroke="#000" stroke-width="0.50" stroke-linejoin="round">0</text>
<text transform="translate(1254.50 1320.20) scale(1 1.0200)" font-size="45.80" text-anchor="middle" stroke="#000" stroke-width="0.50" stroke-linejoin="round">0.5</text>
<text transform="translate(1463.50 1320.20) scale(1 1.0200)" font-size="45.80" text-anchor="middle" stroke="#000" stroke-width="0.50" stroke-linejoin="round">1</text>
<text transform="translate(1671.50 1320.20) scale(1 1.0200)" font-size="45.80" text-anchor="middle" stroke="#000" stroke-width="0.50" stroke-linejoin="round">1.5</text>
<text transform="translate(1878.50 1320.20) scale(1 1.0200)" font-size="45.80" text-anchor="middle" stroke="#000" stroke-width="0.50" stroke-linejoin="round">2</text>
<text transform="translate(198.60 1185.20) scale(1 1.0200)" font-size="45.80" text-anchor="end" stroke="#000" stroke-width="0.50" stroke-linejoin="round"><tspan font-size="51.0" dy="5.4" stroke-width="0">−</tspan><tspan dx="-4.0" dy="-5.4">0.4</tspan></text>
<text transform="translate(198.60 1023.20) scale(1 1.0200)" font-size="45.80" text-anchor="end" stroke="#000" stroke-width="0.50" stroke-linejoin="round"><tspan font-size="51.0" dy="5.4" stroke-width="0">−</tspan><tspan dx="-4.0" dy="-5.4">0.2</tspan></text>
<text transform="translate(198.60 861.20) scale(1 1.0200)" font-size="45.80" text-anchor="end" stroke="#000" stroke-width="0.50" stroke-linejoin="round">0</text>
<text transform="translate(198.60 702.20) scale(1 1.0200)" font-size="45.80" text-anchor="end" stroke="#000" stroke-width="0.50" stroke-linejoin="round">0.2</text>
<text transform="translate(198.60 540.20) scale(1 1.0200)" font-size="45.80" text-anchor="end" stroke="#000" stroke-width="0.50" stroke-linejoin="round">0.4</text>
<text transform="translate(198.60 378.20) scale(1 1.0200)" font-size="45.80" text-anchor="end" stroke="#000" stroke-width="0.50" stroke-linejoin="round">0.6</text>
<text transform="translate(198.60 219.20) scale(1 1.0200)" font-size="45.80" text-anchor="end" stroke="#000" stroke-width="0.50" stroke-linejoin="round">0.8</text>
<text transform="translate(1019.70 69.30)" font-size="58.00" text-anchor="middle" stroke="#000" stroke-width="0.90" stroke-linejoin="round">2-D Scatter Plot of Markov chain for mu_x1, mu_x0</text>
<text transform="translate(1885.50 1367.90)" font-size="44.80" text-anchor="end" stroke="#000" stroke-width="0.50" stroke-linejoin="round">mu_x1</text>
<text transform="translate(63.20 139.00) rotate(-90)" font-size="45.80" text-anchor="end" stroke="#000" stroke-width="0.50" stroke-linejoin="round">mu_x0</text>
</svg>
</body></html>
